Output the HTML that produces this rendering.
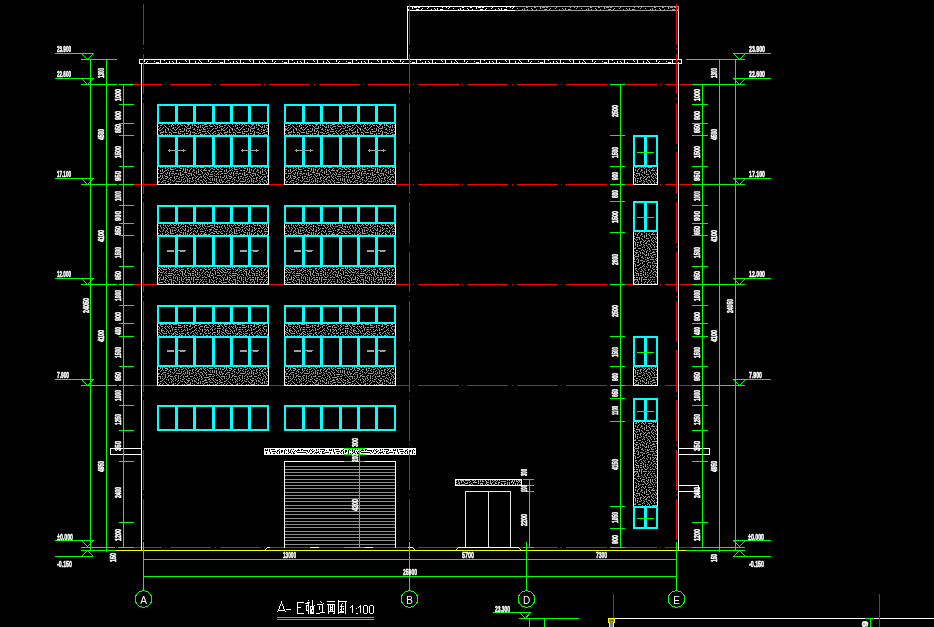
<!DOCTYPE html>
<html><head><meta charset="utf-8"><title>A-E elevation</title>
<style>html,body{margin:0;padding:0;background:#000;width:934px;height:627px;overflow:hidden}</style>
</head><body>
<svg width="934" height="627" viewBox="0 0 934 627" shape-rendering="crispEdges" style="display:block">
<defs><pattern id="hg" width="64" height="64" patternUnits="userSpaceOnUse"><path d="M2 0h1v1h-1zM11 0h1v1h-1zM15 0h1v1h-1zM17 0h1v1h-1zM21 0h1v1h-1zM23 0h1v1h-1zM24 0h1v1h-1zM29 0h1v1h-1zM31 0h1v1h-1zM34 0h1v1h-1zM39 0h1v1h-1zM40 0h1v1h-1zM44 0h1v1h-1zM45 0h1v1h-1zM49 0h1v1h-1zM54 0h1v1h-1zM56 0h1v1h-1zM59 0h1v1h-1zM60 0h1v1h-1zM61 0h1v1h-1zM62 0h1v1h-1zM1 1h1v1h-1zM2 1h1v1h-1zM5 1h1v1h-1zM7 1h1v1h-1zM9 1h1v1h-1zM11 1h1v1h-1zM12 1h1v1h-1zM13 1h1v1h-1zM20 1h1v1h-1zM29 1h1v1h-1zM30 1h1v1h-1zM33 1h1v1h-1zM37 1h1v1h-1zM40 1h1v1h-1zM42 1h1v1h-1zM46 1h1v1h-1zM48 1h1v1h-1zM51 1h1v1h-1zM52 1h1v1h-1zM56 1h1v1h-1zM58 1h1v1h-1zM3 2h1v1h-1zM7 2h1v1h-1zM8 2h1v1h-1zM16 2h1v1h-1zM19 2h1v1h-1zM25 2h1v1h-1zM26 2h1v1h-1zM27 2h1v1h-1zM29 2h1v1h-1zM31 2h1v1h-1zM32 2h1v1h-1zM37 2h1v1h-1zM40 2h1v1h-1zM43 2h1v1h-1zM47 2h1v1h-1zM56 2h1v1h-1zM58 2h1v1h-1zM61 2h1v1h-1zM5 3h1v1h-1zM10 3h1v1h-1zM11 3h1v1h-1zM12 3h1v1h-1zM13 3h1v1h-1zM15 3h1v1h-1zM18 3h1v1h-1zM22 3h1v1h-1zM23 3h1v1h-1zM35 3h1v1h-1zM37 3h1v1h-1zM44 3h1v1h-1zM50 3h1v1h-1zM52 3h1v1h-1zM53 3h1v1h-1zM54 3h1v1h-1zM55 3h1v1h-1zM58 3h1v1h-1zM60 3h1v1h-1zM62 3h1v1h-1zM0 4h1v1h-1zM1 4h1v1h-1zM2 4h1v1h-1zM7 4h1v1h-1zM8 4h1v1h-1zM16 4h1v1h-1zM21 4h1v1h-1zM26 4h1v1h-1zM28 4h1v1h-1zM32 4h1v1h-1zM33 4h1v1h-1zM34 4h1v1h-1zM35 4h1v1h-1zM37 4h1v1h-1zM38 4h1v1h-1zM41 4h1v1h-1zM42 4h1v1h-1zM45 4h1v1h-1zM46 4h1v1h-1zM47 4h1v1h-1zM48 4h1v1h-1zM50 4h1v1h-1zM62 4h1v1h-1zM3 5h1v1h-1zM4 5h1v1h-1zM6 5h1v1h-1zM13 5h1v1h-1zM14 5h1v1h-1zM17 5h1v1h-1zM20 5h1v1h-1zM23 5h1v1h-1zM27 5h1v1h-1zM29 5h1v1h-1zM32 5h1v1h-1zM43 5h1v1h-1zM50 5h1v1h-1zM51 5h1v1h-1zM52 5h1v1h-1zM56 5h1v1h-1zM58 5h1v1h-1zM59 5h1v1h-1zM62 5h1v1h-1zM2 6h1v1h-1zM8 6h1v1h-1zM9 6h1v1h-1zM10 6h1v1h-1zM12 6h1v1h-1zM18 6h1v1h-1zM21 6h1v1h-1zM25 6h1v1h-1zM26 6h1v1h-1zM27 6h1v1h-1zM30 6h1v1h-1zM33 6h1v1h-1zM34 6h1v1h-1zM37 6h1v1h-1zM39 6h1v1h-1zM41 6h1v1h-1zM43 6h1v1h-1zM54 6h1v1h-1zM56 6h1v1h-1zM61 6h1v1h-1zM62 6h1v1h-1zM0 7h1v1h-1zM2 7h1v1h-1zM7 7h1v1h-1zM12 7h1v1h-1zM14 7h1v1h-1zM15 7h1v1h-1zM16 7h1v1h-1zM20 7h1v1h-1zM31 7h1v1h-1zM36 7h1v1h-1zM40 7h1v1h-1zM43 7h1v1h-1zM45 7h1v1h-1zM47 7h1v1h-1zM48 7h1v1h-1zM50 7h1v1h-1zM51 7h1v1h-1zM52 7h1v1h-1zM53 7h1v1h-1zM56 7h1v1h-1zM58 7h1v1h-1zM4 8h1v1h-1zM7 8h1v1h-1zM19 8h1v1h-1zM23 8h1v1h-1zM25 8h1v1h-1zM26 8h1v1h-1zM27 8h1v1h-1zM28 8h1v1h-1zM31 8h1v1h-1zM34 8h1v1h-1zM37 8h1v1h-1zM41 8h1v1h-1zM44 8h1v1h-1zM59 8h1v1h-1zM63 8h1v1h-1zM3 9h1v1h-1zM8 9h1v1h-1zM10 9h1v1h-1zM12 9h1v1h-1zM13 9h1v1h-1zM15 9h1v1h-1zM18 9h1v1h-1zM20 9h1v1h-1zM22 9h1v1h-1zM30 9h1v1h-1zM33 9h1v1h-1zM38 9h1v1h-1zM44 9h1v1h-1zM46 9h1v1h-1zM47 9h1v1h-1zM48 9h1v1h-1zM50 9h1v1h-1zM53 9h1v1h-1zM56 9h1v1h-1zM59 9h1v1h-1zM61 9h1v1h-1zM62 9h1v1h-1zM2 10h1v1h-1zM4 10h1v1h-1zM6 10h1v1h-1zM10 10h1v1h-1zM14 10h1v1h-1zM16 10h1v1h-1zM20 10h1v1h-1zM25 10h1v1h-1zM27 10h1v1h-1zM31 10h1v1h-1zM33 10h1v1h-1zM34 10h1v1h-1zM35 10h1v1h-1zM39 10h1v1h-1zM42 10h1v1h-1zM44 10h1v1h-1zM55 10h1v1h-1zM57 10h1v1h-1zM59 10h1v1h-1zM0 11h1v1h-1zM1 11h1v1h-1zM7 11h1v1h-1zM10 11h1v1h-1zM13 11h1v1h-1zM16 11h1v1h-1zM25 11h1v1h-1zM27 11h1v1h-1zM29 11h1v1h-1zM33 11h1v1h-1zM36 11h1v1h-1zM38 11h1v1h-1zM40 11h1v1h-1zM42 11h1v1h-1zM47 11h1v1h-1zM48 11h1v1h-1zM51 11h1v1h-1zM53 11h1v1h-1zM54 11h1v1h-1zM3 12h1v1h-1zM5 12h1v1h-1zM12 12h1v1h-1zM18 12h1v1h-1zM21 12h1v1h-1zM22 12h1v1h-1zM23 12h1v1h-1zM25 12h1v1h-1zM27 12h1v1h-1zM30 12h1v1h-1zM31 12h1v1h-1zM34 12h1v1h-1zM40 12h1v1h-1zM46 12h1v1h-1zM49 12h1v1h-1zM59 12h1v1h-1zM60 12h1v1h-1zM63 12h1v1h-1zM1 13h1v1h-1zM4 13h1v1h-1zM8 13h1v1h-1zM9 13h1v1h-1zM13 13h1v1h-1zM14 13h1v1h-1zM16 13h1v1h-1zM17 13h1v1h-1zM20 13h1v1h-1zM26 13h1v1h-1zM29 13h1v1h-1zM32 13h1v1h-1zM35 13h1v1h-1zM36 13h1v1h-1zM37 13h1v1h-1zM38 13h1v1h-1zM41 13h1v1h-1zM43 13h1v1h-1zM45 13h1v1h-1zM47 13h1v1h-1zM51 13h1v1h-1zM53 13h1v1h-1zM54 13h1v1h-1zM55 13h1v1h-1zM59 13h1v1h-1zM62 13h1v1h-1zM2 14h1v1h-1zM5 14h1v1h-1zM8 14h1v1h-1zM11 14h1v1h-1zM20 14h1v1h-1zM22 14h1v1h-1zM25 14h1v1h-1zM27 14h1v1h-1zM30 14h1v1h-1zM33 14h1v1h-1zM44 14h1v1h-1zM45 14h1v1h-1zM48 14h1v1h-1zM49 14h1v1h-1zM52 14h1v1h-1zM57 14h1v1h-1zM60 14h1v1h-1zM0 15h1v1h-1zM1 15h1v1h-1zM3 15h1v1h-1zM11 15h1v1h-1zM14 15h1v1h-1zM15 15h1v1h-1zM18 15h1v1h-1zM23 15h1v1h-1zM28 15h1v1h-1zM31 15h1v1h-1zM35 15h1v1h-1zM38 15h1v1h-1zM41 15h1v1h-1zM43 15h1v1h-1zM47 15h1v1h-1zM51 15h1v1h-1zM53 15h1v1h-1zM54 15h1v1h-1zM57 15h1v1h-1zM61 15h1v1h-1zM3 16h1v1h-1zM5 16h1v1h-1zM7 16h1v1h-1zM10 16h1v1h-1zM13 16h1v1h-1zM16 16h1v1h-1zM18 16h1v1h-1zM23 16h1v1h-1zM25 16h1v1h-1zM26 16h1v1h-1zM29 16h1v1h-1zM30 16h1v1h-1zM32 16h1v1h-1zM33 16h1v1h-1zM34 16h1v1h-1zM37 16h1v1h-1zM46 16h1v1h-1zM49 16h1v1h-1zM54 16h1v1h-1zM57 16h1v1h-1zM59 16h1v1h-1zM0 17h1v1h-1zM1 17h1v1h-1zM5 17h1v1h-1zM9 17h1v1h-1zM12 17h1v1h-1zM18 17h1v1h-1zM20 17h1v1h-1zM23 17h1v1h-1zM27 17h1v1h-1zM36 17h1v1h-1zM38 17h1v1h-1zM40 17h1v1h-1zM41 17h1v1h-1zM42 17h1v1h-1zM43 17h1v1h-1zM44 17h1v1h-1zM52 17h1v1h-1zM54 17h1v1h-1zM56 17h1v1h-1zM60 17h1v1h-1zM61 17h1v1h-1zM62 17h1v1h-1zM3 18h1v1h-1zM5 18h1v1h-1zM7 18h1v1h-1zM13 18h1v1h-1zM15 18h1v1h-1zM17 18h1v1h-1zM21 18h1v1h-1zM23 18h1v1h-1zM31 18h1v1h-1zM33 18h1v1h-1zM45 18h1v1h-1zM47 18h1v1h-1zM49 18h1v1h-1zM50 18h1v1h-1zM54 18h1v1h-1zM56 18h1v1h-1zM62 18h1v1h-1zM0 19h1v1h-1zM1 19h1v1h-1zM3 19h1v1h-1zM8 19h1v1h-1zM10 19h1v1h-1zM15 19h1v1h-1zM17 19h1v1h-1zM19 19h1v1h-1zM20 19h1v1h-1zM25 19h1v1h-1zM26 19h1v1h-1zM27 19h1v1h-1zM28 19h1v1h-1zM30 19h1v1h-1zM33 19h1v1h-1zM37 19h1v1h-1zM38 19h1v1h-1zM40 19h1v1h-1zM41 19h1v1h-1zM42 19h1v1h-1zM43 19h1v1h-1zM46 19h1v1h-1zM51 19h1v1h-1zM54 19h1v1h-1zM57 19h1v1h-1zM58 19h1v1h-1zM60 19h1v1h-1zM62 19h1v1h-1zM4 20h1v1h-1zM7 20h1v1h-1zM12 20h1v1h-1zM16 20h1v1h-1zM17 20h1v1h-1zM21 20h1v1h-1zM29 20h1v1h-1zM35 20h1v1h-1zM39 20h1v1h-1zM45 20h1v1h-1zM48 20h1v1h-1zM55 20h1v1h-1zM1 21h1v1h-1zM2 21h1v1h-1zM5 21h1v1h-1zM6 21h1v1h-1zM10 21h1v1h-1zM11 21h1v1h-1zM13 21h1v1h-1zM14 21h1v1h-1zM18 21h1v1h-1zM21 21h1v1h-1zM23 21h1v1h-1zM24 21h1v1h-1zM30 21h1v1h-1zM32 21h1v1h-1zM35 21h1v1h-1zM37 21h1v1h-1zM40 21h1v1h-1zM42 21h1v1h-1zM45 21h1v1h-1zM47 21h1v1h-1zM49 21h1v1h-1zM51 21h1v1h-1zM53 21h1v1h-1zM57 21h1v1h-1zM58 21h1v1h-1zM60 21h1v1h-1zM61 21h1v1h-1zM63 21h1v1h-1zM1 22h1v1h-1zM21 22h1v1h-1zM25 22h1v1h-1zM27 22h1v1h-1zM31 22h1v1h-1zM35 22h1v1h-1zM38 22h1v1h-1zM45 22h1v1h-1zM47 22h1v1h-1zM49 22h1v1h-1zM53 22h1v1h-1zM56 22h1v1h-1zM63 22h1v1h-1zM1 23h1v1h-1zM3 23h1v1h-1zM4 23h1v1h-1zM5 23h1v1h-1zM6 23h1v1h-1zM8 23h1v1h-1zM10 23h1v1h-1zM12 23h1v1h-1zM14 23h1v1h-1zM17 23h1v1h-1zM19 23h1v1h-1zM24 23h1v1h-1zM28 23h1v1h-1zM31 23h1v1h-1zM33 23h1v1h-1zM34 23h1v1h-1zM35 23h1v1h-1zM37 23h1v1h-1zM41 23h1v1h-1zM42 23h1v1h-1zM43 23h1v1h-1zM49 23h1v1h-1zM51 23h1v1h-1zM53 23h1v1h-1zM55 23h1v1h-1zM58 23h1v1h-1zM59 23h1v1h-1zM60 23h1v1h-1zM61 23h1v1h-1zM63 23h1v1h-1zM1 24h1v1h-1zM9 24h1v1h-1zM17 24h1v1h-1zM20 24h1v1h-1zM22 24h1v1h-1zM29 24h1v1h-1zM31 24h1v1h-1zM37 24h1v1h-1zM39 24h1v1h-1zM43 24h1v1h-1zM45 24h1v1h-1zM46 24h1v1h-1zM49 24h1v1h-1zM53 24h1v1h-1zM58 24h1v1h-1zM61 24h1v1h-1zM1 25h1v1h-1zM5 25h1v1h-1zM8 25h1v1h-1zM11 25h1v1h-1zM13 25h1v1h-1zM14 25h1v1h-1zM17 25h1v1h-1zM21 25h1v1h-1zM24 25h1v1h-1zM27 25h1v1h-1zM28 25h1v1h-1zM36 25h1v1h-1zM40 25h1v1h-1zM43 25h1v1h-1zM47 25h1v1h-1zM51 25h1v1h-1zM54 25h1v1h-1zM55 25h1v1h-1zM60 25h1v1h-1zM62 25h1v1h-1zM4 26h1v1h-1zM7 26h1v1h-1zM10 26h1v1h-1zM17 26h1v1h-1zM19 26h1v1h-1zM21 26h1v1h-1zM24 26h1v1h-1zM29 26h1v1h-1zM31 26h1v1h-1zM32 26h1v1h-1zM33 26h1v1h-1zM34 26h1v1h-1zM37 26h1v1h-1zM43 26h1v1h-1zM45 26h1v1h-1zM48 26h1v1h-1zM51 26h1v1h-1zM57 26h1v1h-1zM59 26h1v1h-1zM62 26h1v1h-1zM1 27h1v1h-1zM4 27h1v1h-1zM7 27h1v1h-1zM11 27h1v1h-1zM14 27h1v1h-1zM15 27h1v1h-1zM22 27h1v1h-1zM26 27h1v1h-1zM30 27h1v1h-1zM38 27h1v1h-1zM40 27h1v1h-1zM41 27h1v1h-1zM43 27h1v1h-1zM45 27h1v1h-1zM51 27h1v1h-1zM54 27h1v1h-1zM58 27h1v1h-1zM62 27h1v1h-1zM2 28h1v1h-1zM5 28h1v1h-1zM12 28h1v1h-1zM15 28h1v1h-1zM19 28h1v1h-1zM20 28h1v1h-1zM21 28h1v1h-1zM24 28h1v1h-1zM27 28h1v1h-1zM31 28h1v1h-1zM33 28h1v1h-1zM37 28h1v1h-1zM39 28h1v1h-1zM43 28h1v1h-1zM45 28h1v1h-1zM51 28h1v1h-1zM54 28h1v1h-1zM61 28h1v1h-1zM62 28h1v1h-1zM63 28h1v1h-1zM3 29h1v1h-1zM6 29h1v1h-1zM8 29h1v1h-1zM9 29h1v1h-1zM11 29h1v1h-1zM13 29h1v1h-1zM16 29h1v1h-1zM23 29h1v1h-1zM24 29h1v1h-1zM28 29h1v1h-1zM33 29h1v1h-1zM37 29h1v1h-1zM41 29h1v1h-1zM45 29h1v1h-1zM47 29h1v1h-1zM48 29h1v1h-1zM51 29h1v1h-1zM53 29h1v1h-1zM56 29h1v1h-1zM0 30h1v1h-1zM6 30h1v1h-1zM15 30h1v1h-1zM18 30h1v1h-1zM19 30h1v1h-1zM20 30h1v1h-1zM22 30h1v1h-1zM27 30h1v1h-1zM30 30h1v1h-1zM31 30h1v1h-1zM33 30h1v1h-1zM35 30h1v1h-1zM39 30h1v1h-1zM40 30h1v1h-1zM43 30h1v1h-1zM45 30h1v1h-1zM49 30h1v1h-1zM55 30h1v1h-1zM57 30h1v1h-1zM58 30h1v1h-1zM59 30h1v1h-1zM62 30h1v1h-1zM2 31h1v1h-1zM3 31h1v1h-1zM4 31h1v1h-1zM8 31h1v1h-1zM10 31h1v1h-1zM12 31h1v1h-1zM14 31h1v1h-1zM24 31h1v1h-1zM26 31h1v1h-1zM29 31h1v1h-1zM33 31h1v1h-1zM35 31h1v1h-1zM37 31h1v1h-1zM38 31h1v1h-1zM43 31h1v1h-1zM45 31h1v1h-1zM50 31h1v1h-1zM53 31h1v1h-1zM60 31h1v1h-1zM1 32h1v1h-1zM6 32h1v1h-1zM8 32h1v1h-1zM10 32h1v1h-1zM12 32h1v1h-1zM15 32h1v1h-1zM22 32h1v1h-1zM25 32h1v1h-1zM28 32h1v1h-1zM35 32h1v1h-1zM42 32h1v1h-1zM45 32h1v1h-1zM48 32h1v1h-1zM50 32h1v1h-1zM53 32h1v1h-1zM55 32h1v1h-1zM61 32h1v1h-1zM1 33h1v1h-1zM3 33h1v1h-1zM4 33h1v1h-1zM7 33h1v1h-1zM10 33h1v1h-1zM12 33h1v1h-1zM18 33h1v1h-1zM19 33h1v1h-1zM20 33h1v1h-1zM22 33h1v1h-1zM30 33h1v1h-1zM32 33h1v1h-1zM35 33h1v1h-1zM37 33h1v1h-1zM39 33h1v1h-1zM41 33h1v1h-1zM43 33h1v1h-1zM46 33h1v1h-1zM47 33h1v1h-1zM50 33h1v1h-1zM52 33h1v1h-1zM57 33h1v1h-1zM62 33h1v1h-1zM63 33h1v1h-1zM4 34h1v1h-1zM8 34h1v1h-1zM10 34h1v1h-1zM13 34h1v1h-1zM15 34h1v1h-1zM16 34h1v1h-1zM17 34h1v1h-1zM22 34h1v1h-1zM24 34h1v1h-1zM25 34h1v1h-1zM27 34h1v1h-1zM29 34h1v1h-1zM32 34h1v1h-1zM37 34h1v1h-1zM40 34h1v1h-1zM51 34h1v1h-1zM54 34h1v1h-1zM55 34h1v1h-1zM57 34h1v1h-1zM59 34h1v1h-1zM5 35h1v1h-1zM7 35h1v1h-1zM11 35h1v1h-1zM19 35h1v1h-1zM20 35h1v1h-1zM21 35h1v1h-1zM25 35h1v1h-1zM27 35h1v1h-1zM29 35h1v1h-1zM33 35h1v1h-1zM35 35h1v1h-1zM38 35h1v1h-1zM43 35h1v1h-1zM44 35h1v1h-1zM45 35h1v1h-1zM46 35h1v1h-1zM49 35h1v1h-1zM50 35h1v1h-1zM53 35h1v1h-1zM60 35h1v1h-1zM62 35h1v1h-1zM0 36h1v1h-1zM2 36h1v1h-1zM3 36h1v1h-1zM6 36h1v1h-1zM9 36h1v1h-1zM12 36h1v1h-1zM14 36h1v1h-1zM22 36h1v1h-1zM30 36h1v1h-1zM33 36h1v1h-1zM36 36h1v1h-1zM39 36h1v1h-1zM41 36h1v1h-1zM47 36h1v1h-1zM52 36h1v1h-1zM54 36h1v1h-1zM57 36h1v1h-1zM62 36h1v1h-1zM8 37h1v1h-1zM10 37h1v1h-1zM17 37h1v1h-1zM18 37h1v1h-1zM19 37h1v1h-1zM23 37h1v1h-1zM24 37h1v1h-1zM25 37h1v1h-1zM28 37h1v1h-1zM35 37h1v1h-1zM39 37h1v1h-1zM42 37h1v1h-1zM44 37h1v1h-1zM48 37h1v1h-1zM50 37h1v1h-1zM55 37h1v1h-1zM57 37h1v1h-1zM60 37h1v1h-1zM63 37h1v1h-1zM2 38h1v1h-1zM5 38h1v1h-1zM13 38h1v1h-1zM15 38h1v1h-1zM18 38h1v1h-1zM21 38h1v1h-1zM31 38h1v1h-1zM35 38h1v1h-1zM38 38h1v1h-1zM42 38h1v1h-1zM44 38h1v1h-1zM46 38h1v1h-1zM47 38h1v1h-1zM50 38h1v1h-1zM53 38h1v1h-1zM56 38h1v1h-1zM57 38h1v1h-1zM60 38h1v1h-1zM62 38h1v1h-1zM1 39h1v1h-1zM3 39h1v1h-1zM5 39h1v1h-1zM8 39h1v1h-1zM9 39h1v1h-1zM10 39h1v1h-1zM11 39h1v1h-1zM17 39h1v1h-1zM22 39h1v1h-1zM23 39h1v1h-1zM24 39h1v1h-1zM26 39h1v1h-1zM27 39h1v1h-1zM29 39h1v1h-1zM32 39h1v1h-1zM34 39h1v1h-1zM37 39h1v1h-1zM39 39h1v1h-1zM42 39h1v1h-1zM44 39h1v1h-1zM49 39h1v1h-1zM51 39h1v1h-1zM59 39h1v1h-1zM60 39h1v1h-1zM4 40h1v1h-1zM13 40h1v1h-1zM19 40h1v1h-1zM20 40h1v1h-1zM24 40h1v1h-1zM28 40h1v1h-1zM37 40h1v1h-1zM40 40h1v1h-1zM42 40h1v1h-1zM47 40h1v1h-1zM52 40h1v1h-1zM53 40h1v1h-1zM55 40h1v1h-1zM57 40h1v1h-1zM63 40h1v1h-1zM1 41h1v1h-1zM6 41h1v1h-1zM9 41h1v1h-1zM12 41h1v1h-1zM18 41h1v1h-1zM21 41h1v1h-1zM22 41h1v1h-1zM25 41h1v1h-1zM26 41h1v1h-1zM29 41h1v1h-1zM30 41h1v1h-1zM34 41h1v1h-1zM39 41h1v1h-1zM42 41h1v1h-1zM43 41h1v1h-1zM44 41h1v1h-1zM45 41h1v1h-1zM55 41h1v1h-1zM57 41h1v1h-1zM59 41h1v1h-1zM62 41h1v1h-1zM1 42h1v1h-1zM2 42h1v1h-1zM6 42h1v1h-1zM8 42h1v1h-1zM11 42h1v1h-1zM12 42h1v1h-1zM13 42h1v1h-1zM14 42h1v1h-1zM16 42h1v1h-1zM17 42h1v1h-1zM32 42h1v1h-1zM34 42h1v1h-1zM37 42h1v1h-1zM38 42h1v1h-1zM40 42h1v1h-1zM48 42h1v1h-1zM49 42h1v1h-1zM51 42h1v1h-1zM52 42h1v1h-1zM55 42h1v1h-1zM57 42h1v1h-1zM59 42h1v1h-1zM61 42h1v1h-1zM0 43h1v1h-1zM4 43h1v1h-1zM6 43h1v1h-1zM9 43h1v1h-1zM17 43h1v1h-1zM20 43h1v1h-1zM21 43h1v1h-1zM23 43h1v1h-1zM24 43h1v1h-1zM27 43h1v1h-1zM28 43h1v1h-1zM29 43h1v1h-1zM32 43h1v1h-1zM34 43h1v1h-1zM36 43h1v1h-1zM42 43h1v1h-1zM44 43h1v1h-1zM45 43h1v1h-1zM54 43h1v1h-1zM57 43h1v1h-1zM61 43h1v1h-1zM2 44h1v1h-1zM4 44h1v1h-1zM6 44h1v1h-1zM10 44h1v1h-1zM15 44h1v1h-1zM19 44h1v1h-1zM26 44h1v1h-1zM35 44h1v1h-1zM39 44h1v1h-1zM41 44h1v1h-1zM52 44h1v1h-1zM56 44h1v1h-1zM57 44h1v1h-1zM58 44h1v1h-1zM4 45h1v1h-1zM10 45h1v1h-1zM13 45h1v1h-1zM16 45h1v1h-1zM22 45h1v1h-1zM25 45h1v1h-1zM29 45h1v1h-1zM30 45h1v1h-1zM32 45h1v1h-1zM33 45h1v1h-1zM34 45h1v1h-1zM37 45h1v1h-1zM39 45h1v1h-1zM41 45h1v1h-1zM43 45h1v1h-1zM44 45h1v1h-1zM45 45h1v1h-1zM47 45h1v1h-1zM48 45h1v1h-1zM50 45h1v1h-1zM52 45h1v1h-1zM60 45h1v1h-1zM61 45h1v1h-1zM62 45h1v1h-1zM63 45h1v1h-1zM1 46h1v1h-1zM6 46h1v1h-1zM7 46h1v1h-1zM8 46h1v1h-1zM12 46h1v1h-1zM14 46h1v1h-1zM16 46h1v1h-1zM18 46h1v1h-1zM19 46h1v1h-1zM20 46h1v1h-1zM24 46h1v1h-1zM26 46h1v1h-1zM28 46h1v1h-1zM38 46h1v1h-1zM41 46h1v1h-1zM46 46h1v1h-1zM50 46h1v1h-1zM52 46h1v1h-1zM54 46h1v1h-1zM55 46h1v1h-1zM58 46h1v1h-1zM63 46h1v1h-1zM2 47h1v1h-1zM11 47h1v1h-1zM15 47h1v1h-1zM22 47h1v1h-1zM32 47h1v1h-1zM34 47h1v1h-1zM36 47h1v1h-1zM41 47h1v1h-1zM44 47h1v1h-1zM52 47h1v1h-1zM53 47h1v1h-1zM59 47h1v1h-1zM61 47h1v1h-1zM63 47h1v1h-1zM3 48h1v1h-1zM5 48h1v1h-1zM8 48h1v1h-1zM9 48h1v1h-1zM11 48h1v1h-1zM13 48h1v1h-1zM17 48h1v1h-1zM18 48h1v1h-1zM19 48h1v1h-1zM20 48h1v1h-1zM23 48h1v1h-1zM24 48h1v1h-1zM26 48h1v1h-1zM28 48h1v1h-1zM32 48h1v1h-1zM34 48h1v1h-1zM37 48h1v1h-1zM38 48h1v1h-1zM39 48h1v1h-1zM46 48h1v1h-1zM48 48h1v1h-1zM49 48h1v1h-1zM55 48h1v1h-1zM57 48h1v1h-1zM60 48h1v1h-1zM0 49h1v1h-1zM1 49h1v1h-1zM4 49h1v1h-1zM7 49h1v1h-1zM9 49h1v1h-1zM12 49h1v1h-1zM15 49h1v1h-1zM26 49h1v1h-1zM28 49h1v1h-1zM30 49h1v1h-1zM31 49h1v1h-1zM34 49h1v1h-1zM39 49h1v1h-1zM42 49h1v1h-1zM43 49h1v1h-1zM46 49h1v1h-1zM51 49h1v1h-1zM53 49h1v1h-1zM54 49h1v1h-1zM58 49h1v1h-1zM0 50h1v1h-1zM3 50h1v1h-1zM6 50h1v1h-1zM13 50h1v1h-1zM16 50h1v1h-1zM18 50h1v1h-1zM20 50h1v1h-1zM22 50h1v1h-1zM24 50h1v1h-1zM33 50h1v1h-1zM35 50h1v1h-1zM37 50h1v1h-1zM38 50h1v1h-1zM41 50h1v1h-1zM46 50h1v1h-1zM48 50h1v1h-1zM50 50h1v1h-1zM56 50h1v1h-1zM59 50h1v1h-1zM61 50h1v1h-1zM62 50h1v1h-1zM0 51h1v1h-1zM5 51h1v1h-1zM6 51h1v1h-1zM11 51h1v1h-1zM17 51h1v1h-1zM20 51h1v1h-1zM22 51h1v1h-1zM24 51h1v1h-1zM27 51h1v1h-1zM29 51h1v1h-1zM32 51h1v1h-1zM40 51h1v1h-1zM42 51h1v1h-1zM47 51h1v1h-1zM51 51h1v1h-1zM53 51h1v1h-1zM55 51h1v1h-1zM59 51h1v1h-1zM1 52h1v1h-1zM3 52h1v1h-1zM8 52h1v1h-1zM9 52h1v1h-1zM12 52h1v1h-1zM14 52h1v1h-1zM18 52h1v1h-1zM20 52h1v1h-1zM22 52h1v1h-1zM24 52h1v1h-1zM27 52h1v1h-1zM29 52h1v1h-1zM35 52h1v1h-1zM36 52h1v1h-1zM37 52h1v1h-1zM42 52h1v1h-1zM44 52h1v1h-1zM46 52h1v1h-1zM53 52h1v1h-1zM57 52h1v1h-1zM59 52h1v1h-1zM61 52h1v1h-1zM0 53h1v1h-1zM4 53h1v1h-1zM6 53h1v1h-1zM10 53h1v1h-1zM13 53h1v1h-1zM24 53h1v1h-1zM27 53h1v1h-1zM30 53h1v1h-1zM31 53h1v1h-1zM34 53h1v1h-1zM39 53h1v1h-1zM40 53h1v1h-1zM45 53h1v1h-1zM48 53h1v1h-1zM49 53h1v1h-1zM50 53h1v1h-1zM51 53h1v1h-1zM52 53h1v1h-1zM55 53h1v1h-1zM57 53h1v1h-1zM59 53h1v1h-1zM61 53h1v1h-1zM63 53h1v1h-1zM3 54h1v1h-1zM7 54h1v1h-1zM10 54h1v1h-1zM14 54h1v1h-1zM16 54h1v1h-1zM17 54h1v1h-1zM18 54h1v1h-1zM19 54h1v1h-1zM21 54h1v1h-1zM25 54h1v1h-1zM28 54h1v1h-1zM30 54h1v1h-1zM33 54h1v1h-1zM35 54h1v1h-1zM37 54h1v1h-1zM42 54h1v1h-1zM54 54h1v1h-1zM56 54h1v1h-1zM61 54h1v1h-1zM2 55h1v1h-1zM4 55h1v1h-1zM8 55h1v1h-1zM11 55h1v1h-1zM14 55h1v1h-1zM22 55h1v1h-1zM24 55h1v1h-1zM26 55h1v1h-1zM37 55h1v1h-1zM40 55h1v1h-1zM41 55h1v1h-1zM47 55h1v1h-1zM48 55h1v1h-1zM50 55h1v1h-1zM53 55h1v1h-1zM59 55h1v1h-1zM0 56h1v1h-1zM7 56h1v1h-1zM9 56h1v1h-1zM17 56h1v1h-1zM18 56h1v1h-1zM20 56h1v1h-1zM21 56h1v1h-1zM27 56h1v1h-1zM29 56h1v1h-1zM30 56h1v1h-1zM31 56h1v1h-1zM32 56h1v1h-1zM34 56h1v1h-1zM37 56h1v1h-1zM40 56h1v1h-1zM42 56h1v1h-1zM43 56h1v1h-1zM44 56h1v1h-1zM46 56h1v1h-1zM50 56h1v1h-1zM52 56h1v1h-1zM55 56h1v1h-1zM57 56h1v1h-1zM58 56h1v1h-1zM59 56h1v1h-1zM62 56h1v1h-1zM63 56h1v1h-1zM2 57h1v1h-1zM5 57h1v1h-1zM9 57h1v1h-1zM12 57h1v1h-1zM13 57h1v1h-1zM14 57h1v1h-1zM15 57h1v1h-1zM16 57h1v1h-1zM25 57h1v1h-1zM28 57h1v1h-1zM32 57h1v1h-1zM37 57h1v1h-1zM39 57h1v1h-1zM47 57h1v1h-1zM50 57h1v1h-1zM55 57h1v1h-1zM1 58h1v1h-1zM3 58h1v1h-1zM7 58h1v1h-1zM10 58h1v1h-1zM17 58h1v1h-1zM19 58h1v1h-1zM21 58h1v1h-1zM29 58h1v1h-1zM32 58h1v1h-1zM34 58h1v1h-1zM36 58h1v1h-1zM42 58h1v1h-1zM45 58h1v1h-1zM47 58h1v1h-1zM50 58h1v1h-1zM52 58h1v1h-1zM56 58h1v1h-1zM60 58h1v1h-1zM61 58h1v1h-1zM4 59h1v1h-1zM6 59h1v1h-1zM9 59h1v1h-1zM13 59h1v1h-1zM16 59h1v1h-1zM17 59h1v1h-1zM20 59h1v1h-1zM23 59h1v1h-1zM27 59h1v1h-1zM30 59h1v1h-1zM35 59h1v1h-1zM38 59h1v1h-1zM40 59h1v1h-1zM43 59h1v1h-1zM45 59h1v1h-1zM48 59h1v1h-1zM54 59h1v1h-1zM55 59h1v1h-1zM58 59h1v1h-1zM63 59h1v1h-1zM0 60h1v1h-1zM2 60h1v1h-1zM6 60h1v1h-1zM12 60h1v1h-1zM13 60h1v1h-1zM14 60h1v1h-1zM18 60h1v1h-1zM21 60h1v1h-1zM24 60h1v1h-1zM25 60h1v1h-1zM28 60h1v1h-1zM34 60h1v1h-1zM40 60h1v1h-1zM44 60h1v1h-1zM47 60h1v1h-1zM50 60h1v1h-1zM52 60h1v1h-1zM59 60h1v1h-1zM60 60h1v1h-1zM61 60h1v1h-1zM0 61h1v1h-1zM2 61h1v1h-1zM3 61h1v1h-1zM8 61h1v1h-1zM10 61h1v1h-1zM11 61h1v1h-1zM17 61h1v1h-1zM22 61h1v1h-1zM27 61h1v1h-1zM32 61h1v1h-1zM33 61h1v1h-1zM36 61h1v1h-1zM43 61h1v1h-1zM45 61h1v1h-1zM49 61h1v1h-1zM53 61h1v1h-1zM54 61h1v1h-1zM56 61h1v1h-1zM60 61h1v1h-1zM4 62h1v1h-1zM6 62h1v1h-1zM8 62h1v1h-1zM13 62h1v1h-1zM14 62h1v1h-1zM15 62h1v1h-1zM18 62h1v1h-1zM19 62h1v1h-1zM20 62h1v1h-1zM23 62h1v1h-1zM25 62h1v1h-1zM28 62h1v1h-1zM29 62h1v1h-1zM30 62h1v1h-1zM37 62h1v1h-1zM41 62h1v1h-1zM43 62h1v1h-1zM51 62h1v1h-1zM57 62h1v1h-1zM59 62h1v1h-1zM62 62h1v1h-1zM0 63h1v1h-1zM5 63h1v1h-1zM6 63h1v1h-1zM8 63h1v1h-1zM10 63h1v1h-1zM12 63h1v1h-1zM25 63h1v1h-1zM27 63h1v1h-1zM32 63h1v1h-1zM35 63h1v1h-1zM38 63h1v1h-1zM45 63h1v1h-1zM47 63h1v1h-1zM50 63h1v1h-1zM58 63h1v1h-1zM62 63h1v1h-1z" fill="#9a9a9a"/></pattern><pattern id="hw" width="64" height="64" patternUnits="userSpaceOnUse"><rect width="64" height="64" fill="#fff"/><path d="M0 0h1v1h-1zM5 0h1v1h-1zM6 0h1v1h-1zM7 0h1v1h-1zM8 0h1v1h-1zM9 0h1v1h-1zM11 0h1v1h-1zM13 0h1v1h-1zM19 0h1v1h-1zM24 0h1v1h-1zM26 0h1v1h-1zM28 0h1v1h-1zM30 0h1v1h-1zM31 0h1v1h-1zM34 0h1v1h-1zM36 0h1v1h-1zM38 0h1v1h-1zM39 0h1v1h-1zM41 0h1v1h-1zM42 0h1v1h-1zM44 0h1v1h-1zM47 0h1v1h-1zM49 0h1v1h-1zM51 0h1v1h-1zM52 0h1v1h-1zM53 0h1v1h-1zM56 0h1v1h-1zM59 0h1v1h-1zM62 0h1v1h-1zM0 1h1v1h-1zM1 1h1v1h-1zM2 1h1v1h-1zM3 1h1v1h-1zM4 1h1v1h-1zM9 1h1v1h-1zM11 1h1v1h-1zM13 1h1v1h-1zM15 1h1v1h-1zM16 1h1v1h-1zM17 1h1v1h-1zM18 1h1v1h-1zM23 1h1v1h-1zM29 1h1v1h-1zM32 1h1v1h-1zM35 1h1v1h-1zM37 1h1v1h-1zM42 1h1v1h-1zM45 1h1v1h-1zM46 1h1v1h-1zM54 1h1v1h-1zM56 1h1v1h-1zM60 1h1v1h-1zM62 1h1v1h-1zM4 2h1v1h-1zM6 2h1v1h-1zM9 2h1v1h-1zM10 2h1v1h-1zM11 2h1v1h-1zM13 2h1v1h-1zM21 2h1v1h-1zM22 2h1v1h-1zM25 2h1v1h-1zM26 2h1v1h-1zM28 2h1v1h-1zM30 2h1v1h-1zM32 2h1v1h-1zM34 2h1v1h-1zM39 2h1v1h-1zM41 2h1v1h-1zM42 2h1v1h-1zM43 2h1v1h-1zM45 2h1v1h-1zM47 2h1v1h-1zM48 2h1v1h-1zM49 2h1v1h-1zM50 2h1v1h-1zM51 2h1v1h-1zM53 2h1v1h-1zM55 2h1v1h-1zM58 2h1v1h-1zM60 2h1v1h-1zM0 3h1v1h-1zM2 3h1v1h-1zM3 3h1v1h-1zM13 3h1v1h-1zM16 3h1v1h-1zM17 3h1v1h-1zM18 3h1v1h-1zM19 3h1v1h-1zM21 3h1v1h-1zM23 3h1v1h-1zM25 3h1v1h-1zM26 3h1v1h-1zM28 3h1v1h-1zM32 3h1v1h-1zM34 3h1v1h-1zM36 3h1v1h-1zM38 3h1v1h-1zM40 3h1v1h-1zM51 3h1v1h-1zM53 3h1v1h-1zM56 3h1v1h-1zM57 3h1v1h-1zM62 3h1v1h-1zM2 4h1v1h-1zM5 4h1v1h-1zM6 4h1v1h-1zM7 4h1v1h-1zM8 4h1v1h-1zM10 4h1v1h-1zM14 4h1v1h-1zM20 4h1v1h-1zM23 4h1v1h-1zM25 4h1v1h-1zM28 4h1v1h-1zM33 4h1v1h-1zM34 4h1v1h-1zM37 4h1v1h-1zM41 4h1v1h-1zM42 4h1v1h-1zM43 4h1v1h-1zM44 4h1v1h-1zM45 4h1v1h-1zM46 4h1v1h-1zM47 4h1v1h-1zM48 4h1v1h-1zM49 4h1v1h-1zM52 4h1v1h-1zM56 4h1v1h-1zM59 4h1v1h-1zM60 4h1v1h-1zM61 4h1v1h-1zM62 4h1v1h-1zM2 5h1v1h-1zM3 5h1v1h-1zM4 5h1v1h-1zM10 5h1v1h-1zM14 5h1v1h-1zM17 5h1v1h-1zM18 5h1v1h-1zM21 5h1v1h-1zM23 5h1v1h-1zM28 5h1v1h-1zM30 5h1v1h-1zM32 5h1v1h-1zM35 5h1v1h-1zM37 5h1v1h-1zM38 5h1v1h-1zM50 5h1v1h-1zM54 5h1v1h-1zM55 5h1v1h-1zM58 5h1v1h-1zM60 5h1v1h-1zM63 5h1v1h-1zM0 6h1v1h-1zM1 6h1v1h-1zM5 6h1v1h-1zM6 6h1v1h-1zM7 6h1v1h-1zM10 6h1v1h-1zM11 6h1v1h-1zM12 6h1v1h-1zM14 6h1v1h-1zM18 6h1v1h-1zM22 6h1v1h-1zM25 6h1v1h-1zM26 6h1v1h-1zM29 6h1v1h-1zM31 6h1v1h-1zM39 6h1v1h-1zM41 6h1v1h-1zM44 6h1v1h-1zM45 6h1v1h-1zM46 6h1v1h-1zM48 6h1v1h-1zM51 6h1v1h-1zM52 6h1v1h-1zM53 6h1v1h-1zM55 6h1v1h-1zM57 6h1v1h-1zM60 6h1v1h-1zM62 6h1v1h-1zM12 7h1v1h-1zM14 7h1v1h-1zM15 7h1v1h-1zM17 7h1v1h-1zM18 7h1v1h-1zM20 7h1v1h-1zM23 7h1v1h-1zM25 7h1v1h-1zM27 7h1v1h-1zM30 7h1v1h-1zM33 7h1v1h-1zM34 7h1v1h-1zM36 7h1v1h-1zM37 7h1v1h-1zM40 7h1v1h-1zM43 7h1v1h-1zM46 7h1v1h-1zM48 7h1v1h-1zM50 7h1v1h-1zM51 7h1v1h-1zM58 7h1v1h-1zM0 8h1v1h-1zM2 8h1v1h-1zM4 8h1v1h-1zM5 8h1v1h-1zM6 8h1v1h-1zM8 8h1v1h-1zM11 8h1v1h-1zM17 8h1v1h-1zM20 8h1v1h-1zM23 8h1v1h-1zM25 8h1v1h-1zM28 8h1v1h-1zM30 8h1v1h-1zM33 8h1v1h-1zM36 8h1v1h-1zM39 8h1v1h-1zM42 8h1v1h-1zM44 8h1v1h-1zM45 8h1v1h-1zM47 8h1v1h-1zM48 8h1v1h-1zM54 8h1v1h-1zM56 8h1v1h-1zM58 8h1v1h-1zM60 8h1v1h-1zM61 8h1v1h-1zM62 8h1v1h-1zM63 8h1v1h-1zM2 9h1v1h-1zM3 9h1v1h-1zM7 9h1v1h-1zM9 9h1v1h-1zM12 9h1v1h-1zM13 9h1v1h-1zM14 9h1v1h-1zM15 9h1v1h-1zM19 9h1v1h-1zM23 9h1v1h-1zM26 9h1v1h-1zM28 9h1v1h-1zM29 9h1v1h-1zM32 9h1v1h-1zM35 9h1v1h-1zM37 9h1v1h-1zM38 9h1v1h-1zM41 9h1v1h-1zM44 9h1v1h-1zM49 9h1v1h-1zM51 9h1v1h-1zM54 9h1v1h-1zM56 9h1v1h-1zM58 9h1v1h-1zM61 9h1v1h-1zM1 10h1v1h-1zM4 10h1v1h-1zM8 10h1v1h-1zM9 10h1v1h-1zM15 10h1v1h-1zM17 10h1v1h-1zM18 10h1v1h-1zM19 10h1v1h-1zM20 10h1v1h-1zM21 10h1v1h-1zM24 10h1v1h-1zM27 10h1v1h-1zM28 10h1v1h-1zM30 10h1v1h-1zM34 10h1v1h-1zM36 10h1v1h-1zM42 10h1v1h-1zM43 10h1v1h-1zM47 10h1v1h-1zM49 10h1v1h-1zM51 10h1v1h-1zM56 10h1v1h-1zM62 10h1v1h-1zM63 10h1v1h-1zM3 11h1v1h-1zM5 11h1v1h-1zM6 11h1v1h-1zM7 11h1v1h-1zM10 11h1v1h-1zM12 11h1v1h-1zM14 11h1v1h-1zM16 11h1v1h-1zM22 11h1v1h-1zM25 11h1v1h-1zM30 11h1v1h-1zM33 11h1v1h-1zM34 11h1v1h-1zM39 11h1v1h-1zM40 11h1v1h-1zM42 11h1v1h-1zM45 11h1v1h-1zM46 11h1v1h-1zM47 11h1v1h-1zM49 11h1v1h-1zM51 11h1v1h-1zM52 11h1v1h-1zM55 11h1v1h-1zM58 11h1v1h-1zM60 11h1v1h-1zM0 12h1v1h-1zM3 12h1v1h-1zM11 12h1v1h-1zM12 12h1v1h-1zM14 12h1v1h-1zM18 12h1v1h-1zM23 12h1v1h-1zM26 12h1v1h-1zM28 12h1v1h-1zM31 12h1v1h-1zM35 12h1v1h-1zM36 12h1v1h-1zM39 12h1v1h-1zM42 12h1v1h-1zM44 12h1v1h-1zM45 12h1v1h-1zM52 12h1v1h-1zM53 12h1v1h-1zM54 12h1v1h-1zM55 12h1v1h-1zM56 12h1v1h-1zM58 12h1v1h-1zM59 12h1v1h-1zM60 12h1v1h-1zM62 12h1v1h-1zM1 13h1v1h-1zM5 13h1v1h-1zM6 13h1v1h-1zM7 13h1v1h-1zM9 13h1v1h-1zM10 13h1v1h-1zM14 13h1v1h-1zM17 13h1v1h-1zM19 13h1v1h-1zM20 13h1v1h-1zM21 13h1v1h-1zM22 13h1v1h-1zM24 13h1v1h-1zM27 13h1v1h-1zM29 13h1v1h-1zM32 13h1v1h-1zM35 13h1v1h-1zM38 13h1v1h-1zM40 13h1v1h-1zM42 13h1v1h-1zM47 13h1v1h-1zM49 13h1v1h-1zM50 13h1v1h-1zM51 13h1v1h-1zM52 13h1v1h-1zM59 13h1v1h-1zM1 14h1v1h-1zM3 14h1v1h-1zM4 14h1v1h-1zM9 14h1v1h-1zM11 14h1v1h-1zM14 14h1v1h-1zM18 14h1v1h-1zM21 14h1v1h-1zM26 14h1v1h-1zM30 14h1v1h-1zM32 14h1v1h-1zM33 14h1v1h-1zM37 14h1v1h-1zM40 14h1v1h-1zM42 14h1v1h-1zM44 14h1v1h-1zM46 14h1v1h-1zM54 14h1v1h-1zM56 14h1v1h-1zM57 14h1v1h-1zM59 14h1v1h-1zM61 14h1v1h-1zM62 14h1v1h-1zM63 14h1v1h-1zM1 15h1v1h-1zM5 15h1v1h-1zM8 15h1v1h-1zM10 15h1v1h-1zM12 15h1v1h-1zM13 15h1v1h-1zM15 15h1v1h-1zM16 15h1v1h-1zM18 15h1v1h-1zM19 15h1v1h-1zM23 15h1v1h-1zM25 15h1v1h-1zM28 15h1v1h-1zM34 15h1v1h-1zM35 15h1v1h-1zM37 15h1v1h-1zM39 15h1v1h-1zM42 15h1v1h-1zM45 15h1v1h-1zM46 15h1v1h-1zM51 15h1v1h-1zM53 15h1v1h-1zM55 15h1v1h-1zM59 15h1v1h-1zM62 15h1v1h-1zM2 16h1v1h-1zM4 16h1v1h-1zM7 16h1v1h-1zM10 16h1v1h-1zM15 16h1v1h-1zM16 16h1v1h-1zM21 16h1v1h-1zM22 16h1v1h-1zM25 16h1v1h-1zM27 16h1v1h-1zM28 16h1v1h-1zM30 16h1v1h-1zM31 16h1v1h-1zM35 16h1v1h-1zM37 16h1v1h-1zM39 16h1v1h-1zM42 16h1v1h-1zM43 16h1v1h-1zM44 16h1v1h-1zM47 16h1v1h-1zM49 16h1v1h-1zM50 16h1v1h-1zM51 16h1v1h-1zM52 16h1v1h-1zM53 16h1v1h-1zM57 16h1v1h-1zM59 16h1v1h-1zM61 16h1v1h-1zM63 16h1v1h-1zM2 17h1v1h-1zM5 17h1v1h-1zM7 17h1v1h-1zM10 17h1v1h-1zM11 17h1v1h-1zM12 17h1v1h-1zM13 17h1v1h-1zM14 17h1v1h-1zM17 17h1v1h-1zM19 17h1v1h-1zM21 17h1v1h-1zM24 17h1v1h-1zM27 17h1v1h-1zM31 17h1v1h-1zM36 17h1v1h-1zM39 17h1v1h-1zM40 17h1v1h-1zM42 17h1v1h-1zM47 17h1v1h-1zM57 17h1v1h-1zM60 17h1v1h-1zM63 17h1v1h-1zM1 18h1v1h-1zM4 18h1v1h-1zM5 18h1v1h-1zM7 18h1v1h-1zM9 18h1v1h-1zM14 18h1v1h-1zM18 18h1v1h-1zM24 18h1v1h-1zM26 18h1v1h-1zM28 18h1v1h-1zM31 18h1v1h-1zM32 18h1v1h-1zM33 18h1v1h-1zM34 18h1v1h-1zM44 18h1v1h-1zM46 18h1v1h-1zM49 18h1v1h-1zM51 18h1v1h-1zM53 18h1v1h-1zM55 18h1v1h-1zM57 18h1v1h-1zM61 18h1v1h-1zM63 18h1v1h-1zM0 19h1v1h-1zM1 19h1v1h-1zM3 19h1v1h-1zM6 19h1v1h-1zM9 19h1v1h-1zM11 19h1v1h-1zM14 19h1v1h-1zM16 19h1v1h-1zM20 19h1v1h-1zM21 19h1v1h-1zM22 19h1v1h-1zM24 19h1v1h-1zM28 19h1v1h-1zM29 19h1v1h-1zM31 19h1v1h-1zM35 19h1v1h-1zM36 19h1v1h-1zM38 19h1v1h-1zM41 19h1v1h-1zM42 19h1v1h-1zM43 19h1v1h-1zM47 19h1v1h-1zM49 19h1v1h-1zM51 19h1v1h-1zM54 19h1v1h-1zM55 19h1v1h-1zM57 19h1v1h-1zM58 19h1v1h-1zM59 19h1v1h-1zM62 19h1v1h-1zM63 19h1v1h-1zM3 20h1v1h-1zM4 20h1v1h-1zM7 20h1v1h-1zM10 20h1v1h-1zM13 20h1v1h-1zM14 20h1v1h-1zM24 20h1v1h-1zM32 20h1v1h-1zM34 20h1v1h-1zM36 20h1v1h-1zM38 20h1v1h-1zM39 20h1v1h-1zM42 20h1v1h-1zM44 20h1v1h-1zM46 20h1v1h-1zM48 20h1v1h-1zM49 20h1v1h-1zM51 20h1v1h-1zM54 20h1v1h-1zM55 20h1v1h-1zM60 20h1v1h-1zM0 21h1v1h-1zM2 21h1v1h-1zM9 21h1v1h-1zM11 21h1v1h-1zM14 21h1v1h-1zM16 21h1v1h-1zM17 21h1v1h-1zM18 21h1v1h-1zM19 21h1v1h-1zM20 21h1v1h-1zM21 21h1v1h-1zM22 21h1v1h-1zM25 21h1v1h-1zM26 21h1v1h-1zM27 21h1v1h-1zM28 21h1v1h-1zM29 21h1v1h-1zM31 21h1v1h-1zM33 21h1v1h-1zM34 21h1v1h-1zM36 21h1v1h-1zM41 21h1v1h-1zM42 21h1v1h-1zM43 21h1v1h-1zM44 21h1v1h-1zM46 21h1v1h-1zM49 21h1v1h-1zM51 21h1v1h-1zM52 21h1v1h-1zM56 21h1v1h-1zM58 21h1v1h-1zM59 21h1v1h-1zM60 21h1v1h-1zM62 21h1v1h-1zM63 21h1v1h-1zM2 22h1v1h-1zM3 22h1v1h-1zM5 22h1v1h-1zM7 22h1v1h-1zM9 22h1v1h-1zM13 22h1v1h-1zM15 22h1v1h-1zM21 22h1v1h-1zM23 22h1v1h-1zM25 22h1v1h-1zM30 22h1v1h-1zM36 22h1v1h-1zM38 22h1v1h-1zM39 22h1v1h-1zM44 22h1v1h-1zM46 22h1v1h-1zM47 22h1v1h-1zM50 22h1v1h-1zM53 22h1v1h-1zM56 22h1v1h-1zM58 22h1v1h-1zM62 22h1v1h-1zM0 23h1v1h-1zM1 23h1v1h-1zM5 23h1v1h-1zM8 23h1v1h-1zM9 23h1v1h-1zM10 23h1v1h-1zM13 23h1v1h-1zM16 23h1v1h-1zM18 23h1v1h-1zM19 23h1v1h-1zM21 23h1v1h-1zM26 23h1v1h-1zM27 23h1v1h-1zM28 23h1v1h-1zM29 23h1v1h-1zM32 23h1v1h-1zM34 23h1v1h-1zM37 23h1v1h-1zM39 23h1v1h-1zM40 23h1v1h-1zM41 23h1v1h-1zM44 23h1v1h-1zM49 23h1v1h-1zM50 23h1v1h-1zM52 23h1v1h-1zM53 23h1v1h-1zM54 23h1v1h-1zM57 23h1v1h-1zM60 23h1v1h-1zM63 23h1v1h-1zM3 24h1v1h-1zM5 24h1v1h-1zM10 24h1v1h-1zM12 24h1v1h-1zM14 24h1v1h-1zM16 24h1v1h-1zM19 24h1v1h-1zM21 24h1v1h-1zM23 24h1v1h-1zM24 24h1v1h-1zM30 24h1v1h-1zM31 24h1v1h-1zM33 24h1v1h-1zM34 24h1v1h-1zM36 24h1v1h-1zM37 24h1v1h-1zM41 24h1v1h-1zM44 24h1v1h-1zM46 24h1v1h-1zM48 24h1v1h-1zM54 24h1v1h-1zM55 24h1v1h-1zM57 24h1v1h-1zM58 24h1v1h-1zM59 24h1v1h-1zM60 24h1v1h-1zM62 24h1v1h-1zM0 25h1v1h-1zM1 25h1v1h-1zM2 25h1v1h-1zM5 25h1v1h-1zM7 25h1v1h-1zM10 25h1v1h-1zM12 25h1v1h-1zM14 25h1v1h-1zM16 25h1v1h-1zM17 25h1v1h-1zM24 25h1v1h-1zM27 25h1v1h-1zM29 25h1v1h-1zM31 25h1v1h-1zM34 25h1v1h-1zM38 25h1v1h-1zM39 25h1v1h-1zM41 25h1v1h-1zM42 25h1v1h-1zM43 25h1v1h-1zM44 25h1v1h-1zM45 25h1v1h-1zM48 25h1v1h-1zM51 25h1v1h-1zM52 25h1v1h-1zM55 25h1v1h-1zM60 25h1v1h-1zM62 25h1v1h-1zM7 26h1v1h-1zM10 26h1v1h-1zM12 26h1v1h-1zM14 26h1v1h-1zM15 26h1v1h-1zM18 26h1v1h-1zM19 26h1v1h-1zM21 26h1v1h-1zM22 26h1v1h-1zM25 26h1v1h-1zM27 26h1v1h-1zM29 26h1v1h-1zM35 26h1v1h-1zM36 26h1v1h-1zM40 26h1v1h-1zM45 26h1v1h-1zM47 26h1v1h-1zM50 26h1v1h-1zM53 26h1v1h-1zM55 26h1v1h-1zM57 26h1v1h-1zM58 26h1v1h-1zM61 26h1v1h-1zM62 26h1v1h-1zM1 27h1v1h-1zM2 27h1v1h-1zM4 27h1v1h-1zM6 27h1v1h-1zM7 27h1v1h-1zM10 27h1v1h-1zM12 27h1v1h-1zM16 27h1v1h-1zM18 27h1v1h-1zM19 27h1v1h-1zM21 27h1v1h-1zM22 27h1v1h-1zM26 27h1v1h-1zM27 27h1v1h-1zM31 27h1v1h-1zM32 27h1v1h-1zM33 27h1v1h-1zM38 27h1v1h-1zM39 27h1v1h-1zM42 27h1v1h-1zM43 27h1v1h-1zM45 27h1v1h-1zM46 27h1v1h-1zM48 27h1v1h-1zM49 27h1v1h-1zM51 27h1v1h-1zM55 27h1v1h-1zM57 27h1v1h-1zM59 27h1v1h-1zM62 27h1v1h-1zM0 28h1v1h-1zM2 28h1v1h-1zM4 28h1v1h-1zM6 28h1v1h-1zM9 28h1v1h-1zM12 28h1v1h-1zM14 28h1v1h-1zM15 28h1v1h-1zM19 28h1v1h-1zM24 28h1v1h-1zM27 28h1v1h-1zM28 28h1v1h-1zM29 28h1v1h-1zM32 28h1v1h-1zM34 28h1v1h-1zM37 28h1v1h-1zM43 28h1v1h-1zM52 28h1v1h-1zM54 28h1v1h-1zM56 28h1v1h-1zM58 28h1v1h-1zM60 28h1v1h-1zM63 28h1v1h-1zM2 29h1v1h-1zM9 29h1v1h-1zM11 29h1v1h-1zM17 29h1v1h-1zM20 29h1v1h-1zM22 29h1v1h-1zM23 29h1v1h-1zM27 29h1v1h-1zM32 29h1v1h-1zM35 29h1v1h-1zM36 29h1v1h-1zM37 29h1v1h-1zM38 29h1v1h-1zM40 29h1v1h-1zM42 29h1v1h-1zM44 29h1v1h-1zM45 29h1v1h-1zM46 29h1v1h-1zM48 29h1v1h-1zM49 29h1v1h-1zM50 29h1v1h-1zM51 29h1v1h-1zM52 29h1v1h-1zM53 29h1v1h-1zM60 29h1v1h-1zM61 29h1v1h-1zM62 29h1v1h-1zM0 30h1v1h-1zM1 30h1v1h-1zM6 30h1v1h-1zM7 30h1v1h-1zM9 30h1v1h-1zM12 30h1v1h-1zM13 30h1v1h-1zM14 30h1v1h-1zM15 30h1v1h-1zM17 30h1v1h-1zM18 30h1v1h-1zM22 30h1v1h-1zM24 30h1v1h-1zM26 30h1v1h-1zM27 30h1v1h-1zM29 30h1v1h-1zM30 30h1v1h-1zM31 30h1v1h-1zM32 30h1v1h-1zM33 30h1v1h-1zM41 30h1v1h-1zM47 30h1v1h-1zM55 30h1v1h-1zM56 30h1v1h-1zM57 30h1v1h-1zM59 30h1v1h-1zM63 30h1v1h-1zM3 31h1v1h-1zM4 31h1v1h-1zM10 31h1v1h-1zM16 31h1v1h-1zM22 31h1v1h-1zM24 31h1v1h-1zM28 31h1v1h-1zM32 31h1v1h-1zM35 31h1v1h-1zM37 31h1v1h-1zM38 31h1v1h-1zM39 31h1v1h-1zM41 31h1v1h-1zM44 31h1v1h-1zM47 31h1v1h-1zM51 31h1v1h-1zM53 31h1v1h-1zM54 31h1v1h-1zM55 31h1v1h-1zM57 31h1v1h-1zM59 31h1v1h-1zM61 31h1v1h-1zM62 31h1v1h-1zM0 32h1v1h-1zM2 32h1v1h-1zM4 32h1v1h-1zM6 32h1v1h-1zM7 32h1v1h-1zM8 32h1v1h-1zM10 32h1v1h-1zM12 32h1v1h-1zM13 32h1v1h-1zM14 32h1v1h-1zM15 32h1v1h-1zM17 32h1v1h-1zM18 32h1v1h-1zM19 32h1v1h-1zM20 32h1v1h-1zM21 32h1v1h-1zM24 32h1v1h-1zM25 32h1v1h-1zM27 32h1v1h-1zM30 32h1v1h-1zM32 32h1v1h-1zM34 32h1v1h-1zM37 32h1v1h-1zM40 32h1v1h-1zM42 32h1v1h-1zM44 32h1v1h-1zM46 32h1v1h-1zM47 32h1v1h-1zM49 32h1v1h-1zM51 32h1v1h-1zM59 32h1v1h-1zM61 32h1v1h-1zM0 33h1v1h-1zM2 33h1v1h-1zM4 33h1v1h-1zM5 33h1v1h-1zM7 33h1v1h-1zM10 33h1v1h-1zM13 33h1v1h-1zM15 33h1v1h-1zM22 33h1v1h-1zM26 33h1v1h-1zM30 33h1v1h-1zM32 33h1v1h-1zM34 33h1v1h-1zM35 33h1v1h-1zM38 33h1v1h-1zM42 33h1v1h-1zM45 33h1v1h-1zM48 33h1v1h-1zM53 33h1v1h-1zM54 33h1v1h-1zM55 33h1v1h-1zM56 33h1v1h-1zM57 33h1v1h-1zM63 33h1v1h-1zM1 34h1v1h-1zM6 34h1v1h-1zM8 34h1v1h-1zM11 34h1v1h-1zM13 34h1v1h-1zM16 34h1v1h-1zM19 34h1v1h-1zM21 34h1v1h-1zM25 34h1v1h-1zM26 34h1v1h-1zM27 34h1v1h-1zM28 34h1v1h-1zM30 34h1v1h-1zM38 34h1v1h-1zM39 34h1v1h-1zM40 34h1v1h-1zM42 34h1v1h-1zM44 34h1v1h-1zM47 34h1v1h-1zM50 34h1v1h-1zM51 34h1v1h-1zM59 34h1v1h-1zM61 34h1v1h-1zM63 34h1v1h-1zM1 35h1v1h-1zM3 35h1v1h-1zM5 35h1v1h-1zM10 35h1v1h-1zM11 35h1v1h-1zM17 35h1v1h-1zM18 35h1v1h-1zM19 35h1v1h-1zM23 35h1v1h-1zM30 35h1v1h-1zM32 35h1v1h-1zM33 35h1v1h-1zM34 35h1v1h-1zM38 35h1v1h-1zM42 35h1v1h-1zM43 35h1v1h-1zM47 35h1v1h-1zM48 35h1v1h-1zM50 35h1v1h-1zM53 35h1v1h-1zM56 35h1v1h-1zM57 35h1v1h-1zM59 35h1v1h-1zM61 35h1v1h-1zM0 36h1v1h-1zM3 36h1v1h-1zM5 36h1v1h-1zM7 36h1v1h-1zM8 36h1v1h-1zM9 36h1v1h-1zM11 36h1v1h-1zM13 36h1v1h-1zM14 36h1v1h-1zM15 36h1v1h-1zM16 36h1v1h-1zM21 36h1v1h-1zM22 36h1v1h-1zM24 36h1v1h-1zM32 36h1v1h-1zM34 36h1v1h-1zM37 36h1v1h-1zM39 36h1v1h-1zM40 36h1v1h-1zM43 36h1v1h-1zM45 36h1v1h-1zM46 36h1v1h-1zM50 36h1v1h-1zM53 36h1v1h-1zM54 36h1v1h-1zM56 36h1v1h-1zM59 36h1v1h-1zM61 36h1v1h-1zM0 37h1v1h-1zM1 37h1v1h-1zM4 37h1v1h-1zM8 37h1v1h-1zM18 37h1v1h-1zM19 37h1v1h-1zM21 37h1v1h-1zM26 37h1v1h-1zM27 37h1v1h-1zM28 37h1v1h-1zM34 37h1v1h-1zM36 37h1v1h-1zM37 37h1v1h-1zM40 37h1v1h-1zM41 37h1v1h-1zM44 37h1v1h-1zM48 37h1v1h-1zM51 37h1v1h-1zM53 37h1v1h-1zM56 37h1v1h-1zM59 37h1v1h-1zM61 37h1v1h-1zM63 37h1v1h-1zM3 38h1v1h-1zM4 38h1v1h-1zM6 38h1v1h-1zM7 38h1v1h-1zM9 38h1v1h-1zM10 38h1v1h-1zM11 38h1v1h-1zM12 38h1v1h-1zM14 38h1v1h-1zM16 38h1v1h-1zM20 38h1v1h-1zM21 38h1v1h-1zM24 38h1v1h-1zM26 38h1v1h-1zM30 38h1v1h-1zM31 38h1v1h-1zM32 38h1v1h-1zM42 38h1v1h-1zM44 38h1v1h-1zM45 38h1v1h-1zM49 38h1v1h-1zM51 38h1v1h-1zM53 38h1v1h-1zM56 38h1v1h-1zM58 38h1v1h-1zM61 38h1v1h-1zM62 38h1v1h-1zM0 39h1v1h-1zM2 39h1v1h-1zM6 39h1v1h-1zM12 39h1v1h-1zM14 39h1v1h-1zM15 39h1v1h-1zM18 39h1v1h-1zM19 39h1v1h-1zM23 39h1v1h-1zM27 39h1v1h-1zM34 39h1v1h-1zM35 39h1v1h-1zM37 39h1v1h-1zM38 39h1v1h-1zM39 39h1v1h-1zM40 39h1v1h-1zM44 39h1v1h-1zM46 39h1v1h-1zM48 39h1v1h-1zM51 39h1v1h-1zM55 39h1v1h-1zM56 39h1v1h-1zM58 39h1v1h-1zM59 39h1v1h-1zM0 40h1v1h-1zM3 40h1v1h-1zM5 40h1v1h-1zM15 40h1v1h-1zM16 40h1v1h-1zM17 40h1v1h-1zM22 40h1v1h-1zM26 40h1v1h-1zM28 40h1v1h-1zM29 40h1v1h-1zM30 40h1v1h-1zM32 40h1v1h-1zM33 40h1v1h-1zM37 40h1v1h-1zM41 40h1v1h-1zM42 40h1v1h-1zM43 40h1v1h-1zM44 40h1v1h-1zM48 40h1v1h-1zM50 40h1v1h-1zM53 40h1v1h-1zM60 40h1v1h-1zM62 40h1v1h-1zM0 41h1v1h-1zM7 41h1v1h-1zM8 41h1v1h-1zM9 41h1v1h-1zM10 41h1v1h-1zM12 41h1v1h-1zM13 41h1v1h-1zM14 41h1v1h-1zM18 41h1v1h-1zM20 41h1v1h-1zM21 41h1v1h-1zM22 41h1v1h-1zM28 41h1v1h-1zM30 41h1v1h-1zM33 41h1v1h-1zM45 41h1v1h-1zM46 41h1v1h-1zM47 41h1v1h-1zM48 41h1v1h-1zM49 41h1v1h-1zM53 41h1v1h-1zM55 41h1v1h-1zM56 41h1v1h-1zM57 41h1v1h-1zM61 41h1v1h-1zM62 41h1v1h-1zM1 42h1v1h-1zM4 42h1v1h-1zM6 42h1v1h-1zM7 42h1v1h-1zM12 42h1v1h-1zM16 42h1v1h-1zM17 42h1v1h-1zM18 42h1v1h-1zM23 42h1v1h-1zM24 42h1v1h-1zM27 42h1v1h-1zM30 42h1v1h-1zM34 42h1v1h-1zM35 42h1v1h-1zM37 42h1v1h-1zM38 42h1v1h-1zM39 42h1v1h-1zM40 42h1v1h-1zM41 42h1v1h-1zM42 42h1v1h-1zM47 42h1v1h-1zM49 42h1v1h-1zM50 42h1v1h-1zM51 42h1v1h-1zM53 42h1v1h-1zM57 42h1v1h-1zM59 42h1v1h-1zM62 42h1v1h-1zM2 43h1v1h-1zM3 43h1v1h-1zM4 43h1v1h-1zM6 43h1v1h-1zM8 43h1v1h-1zM9 43h1v1h-1zM10 43h1v1h-1zM11 43h1v1h-1zM13 43h1v1h-1zM18 43h1v1h-1zM19 43h1v1h-1zM23 43h1v1h-1zM26 43h1v1h-1zM28 43h1v1h-1zM31 43h1v1h-1zM32 43h1v1h-1zM34 43h1v1h-1zM36 43h1v1h-1zM37 43h1v1h-1zM42 43h1v1h-1zM43 43h1v1h-1zM44 43h1v1h-1zM45 43h1v1h-1zM47 43h1v1h-1zM49 43h1v1h-1zM51 43h1v1h-1zM53 43h1v1h-1zM54 43h1v1h-1zM57 43h1v1h-1zM60 43h1v1h-1zM62 43h1v1h-1zM0 44h1v1h-1zM10 44h1v1h-1zM14 44h1v1h-1zM21 44h1v1h-1zM24 44h1v1h-1zM25 44h1v1h-1zM26 44h1v1h-1zM28 44h1v1h-1zM38 44h1v1h-1zM40 44h1v1h-1zM41 44h1v1h-1zM45 44h1v1h-1zM47 44h1v1h-1zM55 44h1v1h-1zM57 44h1v1h-1zM60 44h1v1h-1zM62 44h1v1h-1zM0 45h1v1h-1zM2 45h1v1h-1zM5 45h1v1h-1zM6 45h1v1h-1zM7 45h1v1h-1zM9 45h1v1h-1zM10 45h1v1h-1zM17 45h1v1h-1zM18 45h1v1h-1zM19 45h1v1h-1zM22 45h1v1h-1zM23 45h1v1h-1zM27 45h1v1h-1zM30 45h1v1h-1zM31 45h1v1h-1zM32 45h1v1h-1zM34 45h1v1h-1zM35 45h1v1h-1zM38 45h1v1h-1zM40 45h1v1h-1zM43 45h1v1h-1zM44 45h1v1h-1zM47 45h1v1h-1zM49 45h1v1h-1zM50 45h1v1h-1zM51 45h1v1h-1zM56 45h1v1h-1zM58 45h1v1h-1zM60 45h1v1h-1zM0 46h1v1h-1zM4 46h1v1h-1zM7 46h1v1h-1zM12 46h1v1h-1zM13 46h1v1h-1zM15 46h1v1h-1zM17 46h1v1h-1zM19 46h1v1h-1zM24 46h1v1h-1zM28 46h1v1h-1zM31 46h1v1h-1zM33 46h1v1h-1zM36 46h1v1h-1zM39 46h1v1h-1zM43 46h1v1h-1zM46 46h1v1h-1zM49 46h1v1h-1zM51 46h1v1h-1zM54 46h1v1h-1zM57 46h1v1h-1zM61 46h1v1h-1zM0 47h1v1h-1zM2 47h1v1h-1zM4 47h1v1h-1zM6 47h1v1h-1zM8 47h1v1h-1zM9 47h1v1h-1zM11 47h1v1h-1zM12 47h1v1h-1zM15 47h1v1h-1zM18 47h1v1h-1zM20 47h1v1h-1zM23 47h1v1h-1zM26 47h1v1h-1zM28 47h1v1h-1zM32 47h1v1h-1zM35 47h1v1h-1zM37 47h1v1h-1zM39 47h1v1h-1zM41 47h1v1h-1zM42 47h1v1h-1zM45 47h1v1h-1zM49 47h1v1h-1zM52 47h1v1h-1zM54 47h1v1h-1zM59 47h1v1h-1zM61 47h1v1h-1zM63 47h1v1h-1zM1 48h1v1h-1zM3 48h1v1h-1zM5 48h1v1h-1zM9 48h1v1h-1zM13 48h1v1h-1zM17 48h1v1h-1zM21 48h1v1h-1zM24 48h1v1h-1zM26 48h1v1h-1zM28 48h1v1h-1zM29 48h1v1h-1zM33 48h1v1h-1zM37 48h1v1h-1zM39 48h1v1h-1zM42 48h1v1h-1zM45 48h1v1h-1zM46 48h1v1h-1zM47 48h1v1h-1zM49 48h1v1h-1zM50 48h1v1h-1zM53 48h1v1h-1zM56 48h1v1h-1zM58 48h1v1h-1zM61 48h1v1h-1zM63 48h1v1h-1zM3 49h1v1h-1zM7 49h1v1h-1zM9 49h1v1h-1zM10 49h1v1h-1zM12 49h1v1h-1zM16 49h1v1h-1zM19 49h1v1h-1zM25 49h1v1h-1zM27 49h1v1h-1zM31 49h1v1h-1zM35 49h1v1h-1zM36 49h1v1h-1zM39 49h1v1h-1zM41 49h1v1h-1zM51 49h1v1h-1zM53 49h1v1h-1zM54 49h1v1h-1zM56 49h1v1h-1zM58 49h1v1h-1zM61 49h1v1h-1zM63 49h1v1h-1zM0 50h1v1h-1zM2 50h1v1h-1zM8 50h1v1h-1zM11 50h1v1h-1zM14 50h1v1h-1zM16 50h1v1h-1zM18 50h1v1h-1zM19 50h1v1h-1zM21 50h1v1h-1zM22 50h1v1h-1zM24 50h1v1h-1zM26 50h1v1h-1zM27 50h1v1h-1zM30 50h1v1h-1zM33 50h1v1h-1zM36 50h1v1h-1zM38 50h1v1h-1zM40 50h1v1h-1zM41 50h1v1h-1zM42 50h1v1h-1zM43 50h1v1h-1zM46 50h1v1h-1zM47 50h1v1h-1zM49 50h1v1h-1zM50 50h1v1h-1zM51 50h1v1h-1zM55 50h1v1h-1zM56 50h1v1h-1zM58 50h1v1h-1zM60 50h1v1h-1zM63 50h1v1h-1zM2 51h1v1h-1zM4 51h1v1h-1zM5 51h1v1h-1zM6 51h1v1h-1zM7 51h1v1h-1zM9 51h1v1h-1zM11 51h1v1h-1zM13 51h1v1h-1zM16 51h1v1h-1zM18 51h1v1h-1zM21 51h1v1h-1zM24 51h1v1h-1zM29 51h1v1h-1zM32 51h1v1h-1zM34 51h1v1h-1zM37 51h1v1h-1zM42 51h1v1h-1zM46 51h1v1h-1zM49 51h1v1h-1zM54 51h1v1h-1zM60 51h1v1h-1zM62 51h1v1h-1zM2 52h1v1h-1zM10 52h1v1h-1zM13 52h1v1h-1zM14 52h1v1h-1zM16 52h1v1h-1zM18 52h1v1h-1zM24 52h1v1h-1zM26 52h1v1h-1zM27 52h1v1h-1zM30 52h1v1h-1zM31 52h1v1h-1zM36 52h1v1h-1zM40 52h1v1h-1zM44 52h1v1h-1zM45 52h1v1h-1zM47 52h1v1h-1zM50 52h1v1h-1zM51 52h1v1h-1zM52 52h1v1h-1zM53 52h1v1h-1zM56 52h1v1h-1zM57 52h1v1h-1zM58 52h1v1h-1zM59 52h1v1h-1zM61 52h1v1h-1zM62 52h1v1h-1zM63 52h1v1h-1zM1 53h1v1h-1zM3 53h1v1h-1zM8 53h1v1h-1zM11 53h1v1h-1zM13 53h1v1h-1zM16 53h1v1h-1zM19 53h1v1h-1zM22 53h1v1h-1zM25 53h1v1h-1zM28 53h1v1h-1zM29 53h1v1h-1zM33 53h1v1h-1zM36 53h1v1h-1zM38 53h1v1h-1zM40 53h1v1h-1zM44 53h1v1h-1zM47 53h1v1h-1zM48 53h1v1h-1zM54 53h1v1h-1zM60 53h1v1h-1zM0 54h1v1h-1zM3 54h1v1h-1zM5 54h1v1h-1zM6 54h1v1h-1zM7 54h1v1h-1zM8 54h1v1h-1zM12 54h1v1h-1zM16 54h1v1h-1zM20 54h1v1h-1zM22 54h1v1h-1zM25 54h1v1h-1zM27 54h1v1h-1zM30 54h1v1h-1zM31 54h1v1h-1zM32 54h1v1h-1zM33 54h1v1h-1zM35 54h1v1h-1zM38 54h1v1h-1zM41 54h1v1h-1zM44 54h1v1h-1zM46 54h1v1h-1zM54 54h1v1h-1zM58 54h1v1h-1zM61 54h1v1h-1zM62 54h1v1h-1zM3 55h1v1h-1zM9 55h1v1h-1zM11 55h1v1h-1zM13 55h1v1h-1zM14 55h1v1h-1zM17 55h1v1h-1zM18 55h1v1h-1zM19 55h1v1h-1zM22 55h1v1h-1zM25 55h1v1h-1zM36 55h1v1h-1zM38 55h1v1h-1zM41 55h1v1h-1zM42 55h1v1h-1zM44 55h1v1h-1zM47 55h1v1h-1zM49 55h1v1h-1zM51 55h1v1h-1zM52 55h1v1h-1zM53 55h1v1h-1zM55 55h1v1h-1zM56 55h1v1h-1zM57 55h1v1h-1zM58 55h1v1h-1zM59 55h1v1h-1zM60 55h1v1h-1zM62 55h1v1h-1zM0 56h1v1h-1zM4 56h1v1h-1zM8 56h1v1h-1zM12 56h1v1h-1zM15 56h1v1h-1zM17 56h1v1h-1zM19 56h1v1h-1zM23 56h1v1h-1zM24 56h1v1h-1zM27 56h1v1h-1zM29 56h1v1h-1zM30 56h1v1h-1zM31 56h1v1h-1zM32 56h1v1h-1zM33 56h1v1h-1zM34 56h1v1h-1zM36 56h1v1h-1zM38 56h1v1h-1zM40 56h1v1h-1zM42 56h1v1h-1zM44 56h1v1h-1zM47 56h1v1h-1zM49 56h1v1h-1zM50 56h1v1h-1zM56 56h1v1h-1zM62 56h1v1h-1zM1 57h1v1h-1zM4 57h1v1h-1zM6 57h1v1h-1zM7 57h1v1h-1zM9 57h1v1h-1zM11 57h1v1h-1zM16 57h1v1h-1zM21 57h1v1h-1zM25 57h1v1h-1zM26 57h1v1h-1zM27 57h1v1h-1zM30 57h1v1h-1zM34 57h1v1h-1zM36 57h1v1h-1zM38 57h1v1h-1zM40 57h1v1h-1zM42 57h1v1h-1zM44 57h1v1h-1zM49 57h1v1h-1zM53 57h1v1h-1zM55 57h1v1h-1zM57 57h1v1h-1zM59 57h1v1h-1zM61 57h1v1h-1zM62 57h1v1h-1zM4 58h1v1h-1zM8 58h1v1h-1zM9 58h1v1h-1zM11 58h1v1h-1zM12 58h1v1h-1zM15 58h1v1h-1zM18 58h1v1h-1zM20 58h1v1h-1zM22 58h1v1h-1zM28 58h1v1h-1zM29 58h1v1h-1zM32 58h1v1h-1zM36 58h1v1h-1zM38 58h1v1h-1zM40 58h1v1h-1zM43 58h1v1h-1zM45 58h1v1h-1zM46 58h1v1h-1zM48 58h1v1h-1zM49 58h1v1h-1zM50 58h1v1h-1zM57 58h1v1h-1zM59 58h1v1h-1zM62 58h1v1h-1zM63 58h1v1h-1zM1 59h1v1h-1zM2 59h1v1h-1zM14 59h1v1h-1zM15 59h1v1h-1zM18 59h1v1h-1zM22 59h1v1h-1zM23 59h1v1h-1zM24 59h1v1h-1zM26 59h1v1h-1zM32 59h1v1h-1zM33 59h1v1h-1zM34 59h1v1h-1zM35 59h1v1h-1zM36 59h1v1h-1zM39 59h1v1h-1zM41 59h1v1h-1zM44 59h1v1h-1zM46 59h1v1h-1zM52 59h1v1h-1zM53 59h1v1h-1zM54 59h1v1h-1zM62 59h1v1h-1zM0 60h1v1h-1zM4 60h1v1h-1zM5 60h1v1h-1zM6 60h1v1h-1zM7 60h1v1h-1zM9 60h1v1h-1zM10 60h1v1h-1zM12 60h1v1h-1zM15 60h1v1h-1zM17 60h1v1h-1zM20 60h1v1h-1zM21 60h1v1h-1zM24 60h1v1h-1zM27 60h1v1h-1zM31 60h1v1h-1zM37 60h1v1h-1zM39 60h1v1h-1zM41 60h1v1h-1zM43 60h1v1h-1zM44 60h1v1h-1zM46 60h1v1h-1zM49 60h1v1h-1zM50 60h1v1h-1zM55 60h1v1h-1zM56 60h1v1h-1zM57 60h1v1h-1zM58 60h1v1h-1zM59 60h1v1h-1zM61 60h1v1h-1zM2 61h1v1h-1zM3 61h1v1h-1zM7 61h1v1h-1zM9 61h1v1h-1zM10 61h1v1h-1zM12 61h1v1h-1zM14 61h1v1h-1zM16 61h1v1h-1zM19 61h1v1h-1zM21 61h1v1h-1zM24 61h1v1h-1zM26 61h1v1h-1zM27 61h1v1h-1zM29 61h1v1h-1zM32 61h1v1h-1zM33 61h1v1h-1zM34 61h1v1h-1zM35 61h1v1h-1zM36 61h1v1h-1zM37 61h1v1h-1zM39 61h1v1h-1zM41 61h1v1h-1zM45 61h1v1h-1zM47 61h1v1h-1zM48 61h1v1h-1zM51 61h1v1h-1zM55 61h1v1h-1zM60 61h1v1h-1zM0 62h1v1h-1zM1 62h1v1h-1zM4 62h1v1h-1zM5 62h1v1h-1zM7 62h1v1h-1zM11 62h1v1h-1zM14 62h1v1h-1zM18 62h1v1h-1zM22 62h1v1h-1zM23 62h1v1h-1zM24 62h1v1h-1zM28 62h1v1h-1zM29 62h1v1h-1zM34 62h1v1h-1zM40 62h1v1h-1zM43 62h1v1h-1zM50 62h1v1h-1zM52 62h1v1h-1zM53 62h1v1h-1zM57 62h1v1h-1zM59 62h1v1h-1zM60 62h1v1h-1zM62 62h1v1h-1zM63 62h1v1h-1zM2 63h1v1h-1zM3 63h1v1h-1zM9 63h1v1h-1zM13 63h1v1h-1zM16 63h1v1h-1zM17 63h1v1h-1zM20 63h1v1h-1zM21 63h1v1h-1zM22 63h1v1h-1zM26 63h1v1h-1zM27 63h1v1h-1zM30 63h1v1h-1zM33 63h1v1h-1zM34 63h1v1h-1zM35 63h1v1h-1zM36 63h1v1h-1zM43 63h1v1h-1zM45 63h1v1h-1zM46 63h1v1h-1zM47 63h1v1h-1zM50 63h1v1h-1zM54 63h1v1h-1zM55 63h1v1h-1zM57 63h1v1h-1zM58 63h1v1h-1zM62 63h1v1h-1z" fill="#000"/></pattern><pattern id="hk" width="64" height="64" patternUnits="userSpaceOnUse"><rect width="64" height="64" fill="#000"/><path d="M8 0h1v1h-1zM9 0h1v1h-1zM31 0h1v1h-1zM32 0h1v1h-1zM37 0h1v1h-1zM43 0h1v1h-1zM48 0h1v1h-1zM58 0h1v1h-1zM0 1h1v1h-1zM5 1h1v1h-1zM11 1h1v1h-1zM14 1h1v1h-1zM17 1h1v1h-1zM18 1h1v1h-1zM20 1h1v1h-1zM28 1h1v1h-1zM38 1h1v1h-1zM45 1h1v1h-1zM49 1h1v1h-1zM52 1h1v1h-1zM57 1h1v1h-1zM0 2h1v1h-1zM12 2h1v1h-1zM15 2h1v1h-1zM23 2h1v1h-1zM27 2h1v1h-1zM44 2h1v1h-1zM53 2h1v1h-1zM59 2h1v1h-1zM60 2h1v1h-1zM0 3h1v1h-1zM8 3h1v1h-1zM13 3h1v1h-1zM16 3h1v1h-1zM29 3h1v1h-1zM30 3h1v1h-1zM34 3h1v1h-1zM35 3h1v1h-1zM36 3h1v1h-1zM40 3h1v1h-1zM42 3h1v1h-1zM57 3h1v1h-1zM8 4h1v1h-1zM14 4h1v1h-1zM18 4h1v1h-1zM19 4h1v1h-1zM20 4h1v1h-1zM21 4h1v1h-1zM40 4h1v1h-1zM42 4h1v1h-1zM48 4h1v1h-1zM49 4h1v1h-1zM50 4h1v1h-1zM51 4h1v1h-1zM5 5h1v1h-1zM25 5h1v1h-1zM38 5h1v1h-1zM40 5h1v1h-1zM42 5h1v1h-1zM49 5h1v1h-1zM58 5h1v1h-1zM2 6h1v1h-1zM4 6h1v1h-1zM8 6h1v1h-1zM9 6h1v1h-1zM10 6h1v1h-1zM24 6h1v1h-1zM26 6h1v1h-1zM40 6h1v1h-1zM42 6h1v1h-1zM45 6h1v1h-1zM50 6h1v1h-1zM56 6h1v1h-1zM58 6h1v1h-1zM63 6h1v1h-1zM1 7h1v1h-1zM14 7h1v1h-1zM15 7h1v1h-1zM22 7h1v1h-1zM23 7h1v1h-1zM28 7h1v1h-1zM30 7h1v1h-1zM31 7h1v1h-1zM32 7h1v1h-1zM34 7h1v1h-1zM35 7h1v1h-1zM44 7h1v1h-1zM58 7h1v1h-1zM62 7h1v1h-1zM0 8h1v1h-1zM5 8h1v1h-1zM12 8h1v1h-1zM19 8h1v1h-1zM28 8h1v1h-1zM38 8h1v1h-1zM43 8h1v1h-1zM50 8h1v1h-1zM53 8h1v1h-1zM10 9h1v1h-1zM12 9h1v1h-1zM15 9h1v1h-1zM20 9h1v1h-1zM24 9h1v1h-1zM32 9h1v1h-1zM33 9h1v1h-1zM34 9h1v1h-1zM37 9h1v1h-1zM47 9h1v1h-1zM51 9h1v1h-1zM53 9h1v1h-1zM56 9h1v1h-1zM57 9h1v1h-1zM58 9h1v1h-1zM9 10h1v1h-1zM12 10h1v1h-1zM21 10h1v1h-1zM24 10h1v1h-1zM28 10h1v1h-1zM29 10h1v1h-1zM36 10h1v1h-1zM47 10h1v1h-1zM60 10h1v1h-1zM1 11h1v1h-1zM8 11h1v1h-1zM16 11h1v1h-1zM24 11h1v1h-1zM35 11h1v1h-1zM41 11h1v1h-1zM44 11h1v1h-1zM47 11h1v1h-1zM62 11h1v1h-1zM3 12h1v1h-1zM7 12h1v1h-1zM10 12h1v1h-1zM12 12h1v1h-1zM16 12h1v1h-1zM21 12h1v1h-1zM27 12h1v1h-1zM32 12h1v1h-1zM33 12h1v1h-1zM40 12h1v1h-1zM49 12h1v1h-1zM54 12h1v1h-1zM55 12h1v1h-1zM56 12h1v1h-1zM57 12h1v1h-1zM59 12h1v1h-1zM3 13h1v1h-1zM9 13h1v1h-1zM13 13h1v1h-1zM20 13h1v1h-1zM23 13h1v1h-1zM28 13h1v1h-1zM39 13h1v1h-1zM52 13h1v1h-1zM60 13h1v1h-1zM63 13h1v1h-1zM0 14h1v1h-1zM3 14h1v1h-1zM14 14h1v1h-1zM19 14h1v1h-1zM22 14h1v1h-1zM29 14h1v1h-1zM32 14h1v1h-1zM37 14h1v1h-1zM41 14h1v1h-1zM45 14h1v1h-1zM48 14h1v1h-1zM57 14h1v1h-1zM61 14h1v1h-1zM1 15h1v1h-1zM11 15h1v1h-1zM12 15h1v1h-1zM17 15h1v1h-1zM21 15h1v1h-1zM27 15h1v1h-1zM30 15h1v1h-1zM32 15h1v1h-1zM40 15h1v1h-1zM43 15h1v1h-1zM49 15h1v1h-1zM56 15h1v1h-1zM14 16h1v1h-1zM16 16h1v1h-1zM27 16h1v1h-1zM32 16h1v1h-1zM39 16h1v1h-1zM43 16h1v1h-1zM45 16h1v1h-1zM51 16h1v1h-1zM55 16h1v1h-1zM56 16h1v1h-1zM59 16h1v1h-1zM61 16h1v1h-1zM5 17h1v1h-1zM13 17h1v1h-1zM18 17h1v1h-1zM19 17h1v1h-1zM20 17h1v1h-1zM22 17h1v1h-1zM30 17h1v1h-1zM35 17h1v1h-1zM38 17h1v1h-1zM43 17h1v1h-1zM52 17h1v1h-1zM54 17h1v1h-1zM55 17h1v1h-1zM61 17h1v1h-1zM0 18h1v1h-1zM4 18h1v1h-1zM8 18h1v1h-1zM12 18h1v1h-1zM25 18h1v1h-1zM29 18h1v1h-1zM46 18h1v1h-1zM50 18h1v1h-1zM53 18h1v1h-1zM6 19h1v1h-1zM8 19h1v1h-1zM24 19h1v1h-1zM33 19h1v1h-1zM36 19h1v1h-1zM46 19h1v1h-1zM57 19h1v1h-1zM63 19h1v1h-1zM5 20h1v1h-1zM8 20h1v1h-1zM15 20h1v1h-1zM18 20h1v1h-1zM23 20h1v1h-1zM33 20h1v1h-1zM35 20h1v1h-1zM38 20h1v1h-1zM54 20h1v1h-1zM57 20h1v1h-1zM61 20h1v1h-1zM2 21h1v1h-1zM14 21h1v1h-1zM19 21h1v1h-1zM29 21h1v1h-1zM30 21h1v1h-1zM33 21h1v1h-1zM38 21h1v1h-1zM40 21h1v1h-1zM44 21h1v1h-1zM45 21h1v1h-1zM46 21h1v1h-1zM55 21h1v1h-1zM62 21h1v1h-1zM3 22h1v1h-1zM17 22h1v1h-1zM20 22h1v1h-1zM38 22h1v1h-1zM40 22h1v1h-1zM42 22h1v1h-1zM56 22h1v1h-1zM63 22h1v1h-1zM0 23h1v1h-1zM4 23h1v1h-1zM9 23h1v1h-1zM16 23h1v1h-1zM21 23h1v1h-1zM23 23h1v1h-1zM24 23h1v1h-1zM25 23h1v1h-1zM43 23h1v1h-1zM48 23h1v1h-1zM52 23h1v1h-1zM54 23h1v1h-1zM57 23h1v1h-1zM59 23h1v1h-1zM5 24h1v1h-1zM10 24h1v1h-1zM30 24h1v1h-1zM48 24h1v1h-1zM50 24h1v1h-1zM59 24h1v1h-1zM0 25h1v1h-1zM1 25h1v1h-1zM11 25h1v1h-1zM13 25h1v1h-1zM41 25h1v1h-1zM44 25h1v1h-1zM45 25h1v1h-1zM46 25h1v1h-1zM51 25h1v1h-1zM14 26h1v1h-1zM17 26h1v1h-1zM19 26h1v1h-1zM25 26h1v1h-1zM27 26h1v1h-1zM28 26h1v1h-1zM31 26h1v1h-1zM36 26h1v1h-1zM52 26h1v1h-1zM58 26h1v1h-1zM36 27h1v1h-1zM54 27h1v1h-1zM58 27h1v1h-1zM61 27h1v1h-1zM62 27h1v1h-1zM63 27h1v1h-1zM2 28h1v1h-1zM3 28h1v1h-1zM4 28h1v1h-1zM15 28h1v1h-1zM16 28h1v1h-1zM22 28h1v1h-1zM27 28h1v1h-1zM41 28h1v1h-1zM42 28h1v1h-1zM43 28h1v1h-1zM44 28h1v1h-1zM54 28h1v1h-1zM58 28h1v1h-1zM28 29h1v1h-1zM35 29h1v1h-1zM39 29h1v1h-1zM63 29h1v1h-1zM9 30h1v1h-1zM10 30h1v1h-1zM11 30h1v1h-1zM16 30h1v1h-1zM17 30h1v1h-1zM34 30h1v1h-1zM46 30h1v1h-1zM47 30h1v1h-1zM48 30h1v1h-1zM49 30h1v1h-1zM52 30h1v1h-1zM59 30h1v1h-1zM60 30h1v1h-1zM61 30h1v1h-1zM63 30h1v1h-1zM7 31h1v1h-1zM20 31h1v1h-1zM21 31h1v1h-1zM22 31h1v1h-1zM28 31h1v1h-1zM33 31h1v1h-1zM42 31h1v1h-1zM46 31h1v1h-1zM47 31h1v1h-1zM48 31h1v1h-1zM49 31h1v1h-1zM50 31h1v1h-1zM53 31h1v1h-1zM63 31h1v1h-1zM2 32h1v1h-1zM7 32h1v1h-1zM10 32h1v1h-1zM16 32h1v1h-1zM17 32h1v1h-1zM29 32h1v1h-1zM42 32h1v1h-1zM46 32h1v1h-1zM63 32h1v1h-1zM3 33h1v1h-1zM9 33h1v1h-1zM13 33h1v1h-1zM30 33h1v1h-1zM36 33h1v1h-1zM37 33h1v1h-1zM38 33h1v1h-1zM39 33h1v1h-1zM44 33h1v1h-1zM46 33h1v1h-1zM49 33h1v1h-1zM59 33h1v1h-1zM1 34h1v1h-1zM4 34h1v1h-1zM8 34h1v1h-1zM11 34h1v1h-1zM14 34h1v1h-1zM16 34h1v1h-1zM25 34h1v1h-1zM28 34h1v1h-1zM31 34h1v1h-1zM34 34h1v1h-1zM42 34h1v1h-1zM46 34h1v1h-1zM51 34h1v1h-1zM59 34h1v1h-1zM61 34h1v1h-1zM11 35h1v1h-1zM17 35h1v1h-1zM24 35h1v1h-1zM34 35h1v1h-1zM37 35h1v1h-1zM51 35h1v1h-1zM54 35h1v1h-1zM56 35h1v1h-1zM61 35h1v1h-1zM9 36h1v1h-1zM18 36h1v1h-1zM20 36h1v1h-1zM26 36h1v1h-1zM51 36h1v1h-1zM57 36h1v1h-1zM61 36h1v1h-1zM2 37h1v1h-1zM8 37h1v1h-1zM13 37h1v1h-1zM16 37h1v1h-1zM21 37h1v1h-1zM42 37h1v1h-1zM44 37h1v1h-1zM49 37h1v1h-1zM58 37h1v1h-1zM1 38h1v1h-1zM7 38h1v1h-1zM12 38h1v1h-1zM17 38h1v1h-1zM25 38h1v1h-1zM27 38h1v1h-1zM41 38h1v1h-1zM44 38h1v1h-1zM47 38h1v1h-1zM50 38h1v1h-1zM54 38h1v1h-1zM55 38h1v1h-1zM56 38h1v1h-1zM60 38h1v1h-1zM11 39h1v1h-1zM24 39h1v1h-1zM28 39h1v1h-1zM47 39h1v1h-1zM51 39h1v1h-1zM62 39h1v1h-1zM18 40h1v1h-1zM23 40h1v1h-1zM39 40h1v1h-1zM41 40h1v1h-1zM47 40h1v1h-1zM53 40h1v1h-1zM63 40h1v1h-1zM0 41h1v1h-1zM10 41h1v1h-1zM15 41h1v1h-1zM18 41h1v1h-1zM22 41h1v1h-1zM25 41h1v1h-1zM26 41h1v1h-1zM27 41h1v1h-1zM38 41h1v1h-1zM41 41h1v1h-1zM56 41h1v1h-1zM57 41h1v1h-1zM58 41h1v1h-1zM4 42h1v1h-1zM12 42h1v1h-1zM13 42h1v1h-1zM15 42h1v1h-1zM18 42h1v1h-1zM20 42h1v1h-1zM29 42h1v1h-1zM30 42h1v1h-1zM31 42h1v1h-1zM32 42h1v1h-1zM41 42h1v1h-1zM44 42h1v1h-1zM47 42h1v1h-1zM52 42h1v1h-1zM3 43h1v1h-1zM6 43h1v1h-1zM15 43h1v1h-1zM20 43h1v1h-1zM35 43h1v1h-1zM43 43h1v1h-1zM51 43h1v1h-1zM57 43h1v1h-1zM2 44h1v1h-1zM12 44h1v1h-1zM22 44h1v1h-1zM26 44h1v1h-1zM27 44h1v1h-1zM35 44h1v1h-1zM42 44h1v1h-1zM44 44h1v1h-1zM50 44h1v1h-1zM57 44h1v1h-1zM60 44h1v1h-1zM1 45h1v1h-1zM6 45h1v1h-1zM7 45h1v1h-1zM8 45h1v1h-1zM9 45h1v1h-1zM12 45h1v1h-1zM16 45h1v1h-1zM35 45h1v1h-1zM41 45h1v1h-1zM45 45h1v1h-1zM53 45h1v1h-1zM54 45h1v1h-1zM57 45h1v1h-1zM61 45h1v1h-1zM17 46h1v1h-1zM28 46h1v1h-1zM30 46h1v1h-1zM31 46h1v1h-1zM35 46h1v1h-1zM38 46h1v1h-1zM46 46h1v1h-1zM50 46h1v1h-1zM62 46h1v1h-1zM4 47h1v1h-1zM11 47h1v1h-1zM15 47h1v1h-1zM19 47h1v1h-1zM27 47h1v1h-1zM33 47h1v1h-1zM40 47h1v1h-1zM41 47h1v1h-1zM42 47h1v1h-1zM45 47h1v1h-1zM51 47h1v1h-1zM56 47h1v1h-1zM58 47h1v1h-1zM1 48h1v1h-1zM5 48h1v1h-1zM15 48h1v1h-1zM18 48h1v1h-1zM32 48h1v1h-1zM37 48h1v1h-1zM47 48h1v1h-1zM52 48h1v1h-1zM59 48h1v1h-1zM2 49h1v1h-1zM15 49h1v1h-1zM21 49h1v1h-1zM31 49h1v1h-1zM37 49h1v1h-1zM40 49h1v1h-1zM43 49h1v1h-1zM47 49h1v1h-1zM61 49h1v1h-1zM62 49h1v1h-1zM63 49h1v1h-1zM7 50h1v1h-1zM8 50h1v1h-1zM9 50h1v1h-1zM10 50h1v1h-1zM13 50h1v1h-1zM22 50h1v1h-1zM30 50h1v1h-1zM40 50h1v1h-1zM44 50h1v1h-1zM47 50h1v1h-1zM50 50h1v1h-1zM55 50h1v1h-1zM2 51h1v1h-1zM3 51h1v1h-1zM4 51h1v1h-1zM14 51h1v1h-1zM19 51h1v1h-1zM23 51h1v1h-1zM26 51h1v1h-1zM32 51h1v1h-1zM38 51h1v1h-1zM40 51h1v1h-1zM45 51h1v1h-1zM50 51h1v1h-1zM54 51h1v1h-1zM20 52h1v1h-1zM25 52h1v1h-1zM33 52h1v1h-1zM37 52h1v1h-1zM43 52h1v1h-1zM53 52h1v1h-1zM56 52h1v1h-1zM10 53h1v1h-1zM15 53h1v1h-1zM16 53h1v1h-1zM17 53h1v1h-1zM22 53h1v1h-1zM23 53h1v1h-1zM24 53h1v1h-1zM34 53h1v1h-1zM36 53h1v1h-1zM42 53h1v1h-1zM45 53h1v1h-1zM55 53h1v1h-1zM61 53h1v1h-1zM0 54h1v1h-1zM11 54h1v1h-1zM23 54h1v1h-1zM29 54h1v1h-1zM44 54h1v1h-1zM60 54h1v1h-1zM2 55h1v1h-1zM6 55h1v1h-1zM12 55h1v1h-1zM20 55h1v1h-1zM26 55h1v1h-1zM29 55h1v1h-1zM36 55h1v1h-1zM37 55h1v1h-1zM38 55h1v1h-1zM39 55h1v1h-1zM43 55h1v1h-1zM47 55h1v1h-1zM59 55h1v1h-1zM2 56h1v1h-1zM5 56h1v1h-1zM9 56h1v1h-1zM10 56h1v1h-1zM13 56h1v1h-1zM25 56h1v1h-1zM26 56h1v1h-1zM29 56h1v1h-1zM33 56h1v1h-1zM47 56h1v1h-1zM51 56h1v1h-1zM56 56h1v1h-1zM62 56h1v1h-1zM2 57h1v1h-1zM4 57h1v1h-1zM16 57h1v1h-1zM19 57h1v1h-1zM20 57h1v1h-1zM21 57h1v1h-1zM24 57h1v1h-1zM26 57h1v1h-1zM29 57h1v1h-1zM33 57h1v1h-1zM35 57h1v1h-1zM40 57h1v1h-1zM47 57h1v1h-1zM49 57h1v1h-1zM51 57h1v1h-1zM57 57h1v1h-1zM63 57h1v1h-1zM0 58h1v1h-1zM7 58h1v1h-1zM8 58h1v1h-1zM13 58h1v1h-1zM17 58h1v1h-1zM23 58h1v1h-1zM26 58h1v1h-1zM33 58h1v1h-1zM38 58h1v1h-1zM41 58h1v1h-1zM47 58h1v1h-1zM49 58h1v1h-1zM51 58h1v1h-1zM53 58h1v1h-1zM55 58h1v1h-1zM58 58h1v1h-1zM1 59h1v1h-1zM12 59h1v1h-1zM22 59h1v1h-1zM37 59h1v1h-1zM39 59h1v1h-1zM42 59h1v1h-1zM51 59h1v1h-1zM56 59h1v1h-1zM7 60h1v1h-1zM16 60h1v1h-1zM32 60h1v1h-1zM36 60h1v1h-1zM48 60h1v1h-1zM57 60h1v1h-1zM61 60h1v1h-1zM3 61h1v1h-1zM8 61h1v1h-1zM16 61h1v1h-1zM19 61h1v1h-1zM26 61h1v1h-1zM32 61h1v1h-1zM41 61h1v1h-1zM44 61h1v1h-1zM48 61h1v1h-1zM58 61h1v1h-1zM61 61h1v1h-1zM3 62h1v1h-1zM6 62h1v1h-1zM9 62h1v1h-1zM18 62h1v1h-1zM28 62h1v1h-1zM29 62h1v1h-1zM30 62h1v1h-1zM32 62h1v1h-1zM38 62h1v1h-1zM41 62h1v1h-1zM45 62h1v1h-1zM48 62h1v1h-1zM51 62h1v1h-1zM61 62h1v1h-1zM3 63h1v1h-1zM13 63h1v1h-1zM20 63h1v1h-1zM22 63h1v1h-1zM23 63h1v1h-1zM36 63h1v1h-1zM39 63h1v1h-1zM46 63h1v1h-1zM59 63h1v1h-1zM61 63h1v1h-1z" fill="#fff"/></pattern><pattern id="hl" width="64" height="64" patternUnits="userSpaceOnUse"><rect width="64" height="64" fill="#000"/><path d="M0 0h1v1h-1zM5 0h1v1h-1zM6 0h1v1h-1zM7 0h1v1h-1zM8 0h1v1h-1zM9 0h1v1h-1zM11 0h1v1h-1zM13 0h1v1h-1zM19 0h1v1h-1zM24 0h1v1h-1zM26 0h1v1h-1zM28 0h1v1h-1zM30 0h1v1h-1zM31 0h1v1h-1zM34 0h1v1h-1zM36 0h1v1h-1zM38 0h1v1h-1zM39 0h1v1h-1zM41 0h1v1h-1zM42 0h1v1h-1zM44 0h1v1h-1zM47 0h1v1h-1zM49 0h1v1h-1zM51 0h1v1h-1zM52 0h1v1h-1zM53 0h1v1h-1zM56 0h1v1h-1zM59 0h1v1h-1zM62 0h1v1h-1zM0 1h1v1h-1zM1 1h1v1h-1zM2 1h1v1h-1zM3 1h1v1h-1zM4 1h1v1h-1zM9 1h1v1h-1zM11 1h1v1h-1zM13 1h1v1h-1zM15 1h1v1h-1zM16 1h1v1h-1zM17 1h1v1h-1zM18 1h1v1h-1zM23 1h1v1h-1zM29 1h1v1h-1zM32 1h1v1h-1zM35 1h1v1h-1zM37 1h1v1h-1zM42 1h1v1h-1zM45 1h1v1h-1zM46 1h1v1h-1zM54 1h1v1h-1zM56 1h1v1h-1zM60 1h1v1h-1zM62 1h1v1h-1zM4 2h1v1h-1zM6 2h1v1h-1zM9 2h1v1h-1zM10 2h1v1h-1zM11 2h1v1h-1zM13 2h1v1h-1zM21 2h1v1h-1zM22 2h1v1h-1zM25 2h1v1h-1zM26 2h1v1h-1zM28 2h1v1h-1zM30 2h1v1h-1zM32 2h1v1h-1zM34 2h1v1h-1zM39 2h1v1h-1zM41 2h1v1h-1zM42 2h1v1h-1zM43 2h1v1h-1zM45 2h1v1h-1zM47 2h1v1h-1zM48 2h1v1h-1zM49 2h1v1h-1zM50 2h1v1h-1zM51 2h1v1h-1zM53 2h1v1h-1zM55 2h1v1h-1zM58 2h1v1h-1zM60 2h1v1h-1zM0 3h1v1h-1zM2 3h1v1h-1zM3 3h1v1h-1zM13 3h1v1h-1zM16 3h1v1h-1zM17 3h1v1h-1zM18 3h1v1h-1zM19 3h1v1h-1zM21 3h1v1h-1zM23 3h1v1h-1zM25 3h1v1h-1zM26 3h1v1h-1zM28 3h1v1h-1zM32 3h1v1h-1zM34 3h1v1h-1zM36 3h1v1h-1zM38 3h1v1h-1zM40 3h1v1h-1zM51 3h1v1h-1zM53 3h1v1h-1zM56 3h1v1h-1zM57 3h1v1h-1zM62 3h1v1h-1zM2 4h1v1h-1zM5 4h1v1h-1zM6 4h1v1h-1zM7 4h1v1h-1zM8 4h1v1h-1zM10 4h1v1h-1zM14 4h1v1h-1zM20 4h1v1h-1zM23 4h1v1h-1zM25 4h1v1h-1zM28 4h1v1h-1zM33 4h1v1h-1zM34 4h1v1h-1zM37 4h1v1h-1zM41 4h1v1h-1zM42 4h1v1h-1zM43 4h1v1h-1zM44 4h1v1h-1zM45 4h1v1h-1zM46 4h1v1h-1zM47 4h1v1h-1zM48 4h1v1h-1zM49 4h1v1h-1zM52 4h1v1h-1zM56 4h1v1h-1zM59 4h1v1h-1zM60 4h1v1h-1zM61 4h1v1h-1zM62 4h1v1h-1zM2 5h1v1h-1zM3 5h1v1h-1zM4 5h1v1h-1zM10 5h1v1h-1zM14 5h1v1h-1zM17 5h1v1h-1zM18 5h1v1h-1zM21 5h1v1h-1zM23 5h1v1h-1zM28 5h1v1h-1zM30 5h1v1h-1zM32 5h1v1h-1zM35 5h1v1h-1zM37 5h1v1h-1zM38 5h1v1h-1zM50 5h1v1h-1zM54 5h1v1h-1zM55 5h1v1h-1zM58 5h1v1h-1zM60 5h1v1h-1zM63 5h1v1h-1zM0 6h1v1h-1zM1 6h1v1h-1zM5 6h1v1h-1zM6 6h1v1h-1zM7 6h1v1h-1zM10 6h1v1h-1zM11 6h1v1h-1zM12 6h1v1h-1zM14 6h1v1h-1zM18 6h1v1h-1zM22 6h1v1h-1zM25 6h1v1h-1zM26 6h1v1h-1zM29 6h1v1h-1zM31 6h1v1h-1zM39 6h1v1h-1zM41 6h1v1h-1zM44 6h1v1h-1zM45 6h1v1h-1zM46 6h1v1h-1zM48 6h1v1h-1zM51 6h1v1h-1zM52 6h1v1h-1zM53 6h1v1h-1zM55 6h1v1h-1zM57 6h1v1h-1zM60 6h1v1h-1zM62 6h1v1h-1zM12 7h1v1h-1zM14 7h1v1h-1zM15 7h1v1h-1zM17 7h1v1h-1zM18 7h1v1h-1zM20 7h1v1h-1zM23 7h1v1h-1zM25 7h1v1h-1zM27 7h1v1h-1zM30 7h1v1h-1zM33 7h1v1h-1zM34 7h1v1h-1zM36 7h1v1h-1zM37 7h1v1h-1zM40 7h1v1h-1zM43 7h1v1h-1zM46 7h1v1h-1zM48 7h1v1h-1zM50 7h1v1h-1zM51 7h1v1h-1zM58 7h1v1h-1zM0 8h1v1h-1zM2 8h1v1h-1zM4 8h1v1h-1zM5 8h1v1h-1zM6 8h1v1h-1zM8 8h1v1h-1zM11 8h1v1h-1zM17 8h1v1h-1zM20 8h1v1h-1zM23 8h1v1h-1zM25 8h1v1h-1zM28 8h1v1h-1zM30 8h1v1h-1zM33 8h1v1h-1zM36 8h1v1h-1zM39 8h1v1h-1zM42 8h1v1h-1zM44 8h1v1h-1zM45 8h1v1h-1zM47 8h1v1h-1zM48 8h1v1h-1zM54 8h1v1h-1zM56 8h1v1h-1zM58 8h1v1h-1zM60 8h1v1h-1zM61 8h1v1h-1zM62 8h1v1h-1zM63 8h1v1h-1zM2 9h1v1h-1zM3 9h1v1h-1zM7 9h1v1h-1zM9 9h1v1h-1zM12 9h1v1h-1zM13 9h1v1h-1zM14 9h1v1h-1zM15 9h1v1h-1zM19 9h1v1h-1zM23 9h1v1h-1zM26 9h1v1h-1zM28 9h1v1h-1zM29 9h1v1h-1zM32 9h1v1h-1zM35 9h1v1h-1zM37 9h1v1h-1zM38 9h1v1h-1zM41 9h1v1h-1zM44 9h1v1h-1zM49 9h1v1h-1zM51 9h1v1h-1zM54 9h1v1h-1zM56 9h1v1h-1zM58 9h1v1h-1zM61 9h1v1h-1zM1 10h1v1h-1zM4 10h1v1h-1zM8 10h1v1h-1zM9 10h1v1h-1zM15 10h1v1h-1zM17 10h1v1h-1zM18 10h1v1h-1zM19 10h1v1h-1zM20 10h1v1h-1zM21 10h1v1h-1zM24 10h1v1h-1zM27 10h1v1h-1zM28 10h1v1h-1zM30 10h1v1h-1zM34 10h1v1h-1zM36 10h1v1h-1zM42 10h1v1h-1zM43 10h1v1h-1zM47 10h1v1h-1zM49 10h1v1h-1zM51 10h1v1h-1zM56 10h1v1h-1zM62 10h1v1h-1zM63 10h1v1h-1zM3 11h1v1h-1zM5 11h1v1h-1zM6 11h1v1h-1zM7 11h1v1h-1zM10 11h1v1h-1zM12 11h1v1h-1zM14 11h1v1h-1zM16 11h1v1h-1zM22 11h1v1h-1zM25 11h1v1h-1zM30 11h1v1h-1zM33 11h1v1h-1zM34 11h1v1h-1zM39 11h1v1h-1zM40 11h1v1h-1zM42 11h1v1h-1zM45 11h1v1h-1zM46 11h1v1h-1zM47 11h1v1h-1zM49 11h1v1h-1zM51 11h1v1h-1zM52 11h1v1h-1zM55 11h1v1h-1zM58 11h1v1h-1zM60 11h1v1h-1zM0 12h1v1h-1zM3 12h1v1h-1zM11 12h1v1h-1zM12 12h1v1h-1zM14 12h1v1h-1zM18 12h1v1h-1zM23 12h1v1h-1zM26 12h1v1h-1zM28 12h1v1h-1zM31 12h1v1h-1zM35 12h1v1h-1zM36 12h1v1h-1zM39 12h1v1h-1zM42 12h1v1h-1zM44 12h1v1h-1zM45 12h1v1h-1zM52 12h1v1h-1zM53 12h1v1h-1zM54 12h1v1h-1zM55 12h1v1h-1zM56 12h1v1h-1zM58 12h1v1h-1zM59 12h1v1h-1zM60 12h1v1h-1zM62 12h1v1h-1zM1 13h1v1h-1zM5 13h1v1h-1zM6 13h1v1h-1zM7 13h1v1h-1zM9 13h1v1h-1zM10 13h1v1h-1zM14 13h1v1h-1zM17 13h1v1h-1zM19 13h1v1h-1zM20 13h1v1h-1zM21 13h1v1h-1zM22 13h1v1h-1zM24 13h1v1h-1zM27 13h1v1h-1zM29 13h1v1h-1zM32 13h1v1h-1zM35 13h1v1h-1zM38 13h1v1h-1zM40 13h1v1h-1zM42 13h1v1h-1zM47 13h1v1h-1zM49 13h1v1h-1zM50 13h1v1h-1zM51 13h1v1h-1zM52 13h1v1h-1zM59 13h1v1h-1zM1 14h1v1h-1zM3 14h1v1h-1zM4 14h1v1h-1zM9 14h1v1h-1zM11 14h1v1h-1zM14 14h1v1h-1zM18 14h1v1h-1zM21 14h1v1h-1zM26 14h1v1h-1zM30 14h1v1h-1zM32 14h1v1h-1zM33 14h1v1h-1zM37 14h1v1h-1zM40 14h1v1h-1zM42 14h1v1h-1zM44 14h1v1h-1zM46 14h1v1h-1zM54 14h1v1h-1zM56 14h1v1h-1zM57 14h1v1h-1zM59 14h1v1h-1zM61 14h1v1h-1zM62 14h1v1h-1zM63 14h1v1h-1zM1 15h1v1h-1zM5 15h1v1h-1zM8 15h1v1h-1zM10 15h1v1h-1zM12 15h1v1h-1zM13 15h1v1h-1zM15 15h1v1h-1zM16 15h1v1h-1zM18 15h1v1h-1zM19 15h1v1h-1zM23 15h1v1h-1zM25 15h1v1h-1zM28 15h1v1h-1zM34 15h1v1h-1zM35 15h1v1h-1zM37 15h1v1h-1zM39 15h1v1h-1zM42 15h1v1h-1zM45 15h1v1h-1zM46 15h1v1h-1zM51 15h1v1h-1zM53 15h1v1h-1zM55 15h1v1h-1zM59 15h1v1h-1zM62 15h1v1h-1zM2 16h1v1h-1zM4 16h1v1h-1zM7 16h1v1h-1zM10 16h1v1h-1zM15 16h1v1h-1zM16 16h1v1h-1zM21 16h1v1h-1zM22 16h1v1h-1zM25 16h1v1h-1zM27 16h1v1h-1zM28 16h1v1h-1zM30 16h1v1h-1zM31 16h1v1h-1zM35 16h1v1h-1zM37 16h1v1h-1zM39 16h1v1h-1zM42 16h1v1h-1zM43 16h1v1h-1zM44 16h1v1h-1zM47 16h1v1h-1zM49 16h1v1h-1zM50 16h1v1h-1zM51 16h1v1h-1zM52 16h1v1h-1zM53 16h1v1h-1zM57 16h1v1h-1zM59 16h1v1h-1zM61 16h1v1h-1zM63 16h1v1h-1zM2 17h1v1h-1zM5 17h1v1h-1zM7 17h1v1h-1zM10 17h1v1h-1zM11 17h1v1h-1zM12 17h1v1h-1zM13 17h1v1h-1zM14 17h1v1h-1zM17 17h1v1h-1zM19 17h1v1h-1zM21 17h1v1h-1zM24 17h1v1h-1zM27 17h1v1h-1zM31 17h1v1h-1zM36 17h1v1h-1zM39 17h1v1h-1zM40 17h1v1h-1zM42 17h1v1h-1zM47 17h1v1h-1zM57 17h1v1h-1zM60 17h1v1h-1zM63 17h1v1h-1zM1 18h1v1h-1zM4 18h1v1h-1zM5 18h1v1h-1zM7 18h1v1h-1zM9 18h1v1h-1zM14 18h1v1h-1zM18 18h1v1h-1zM24 18h1v1h-1zM26 18h1v1h-1zM28 18h1v1h-1zM31 18h1v1h-1zM32 18h1v1h-1zM33 18h1v1h-1zM34 18h1v1h-1zM44 18h1v1h-1zM46 18h1v1h-1zM49 18h1v1h-1zM51 18h1v1h-1zM53 18h1v1h-1zM55 18h1v1h-1zM57 18h1v1h-1zM61 18h1v1h-1zM63 18h1v1h-1zM0 19h1v1h-1zM1 19h1v1h-1zM3 19h1v1h-1zM6 19h1v1h-1zM9 19h1v1h-1zM11 19h1v1h-1zM14 19h1v1h-1zM16 19h1v1h-1zM20 19h1v1h-1zM21 19h1v1h-1zM22 19h1v1h-1zM24 19h1v1h-1zM28 19h1v1h-1zM29 19h1v1h-1zM31 19h1v1h-1zM35 19h1v1h-1zM36 19h1v1h-1zM38 19h1v1h-1zM41 19h1v1h-1zM42 19h1v1h-1zM43 19h1v1h-1zM47 19h1v1h-1zM49 19h1v1h-1zM51 19h1v1h-1zM54 19h1v1h-1zM55 19h1v1h-1zM57 19h1v1h-1zM58 19h1v1h-1zM59 19h1v1h-1zM62 19h1v1h-1zM63 19h1v1h-1zM3 20h1v1h-1zM4 20h1v1h-1zM7 20h1v1h-1zM10 20h1v1h-1zM13 20h1v1h-1zM14 20h1v1h-1zM24 20h1v1h-1zM32 20h1v1h-1zM34 20h1v1h-1zM36 20h1v1h-1zM38 20h1v1h-1zM39 20h1v1h-1zM42 20h1v1h-1zM44 20h1v1h-1zM46 20h1v1h-1zM48 20h1v1h-1zM49 20h1v1h-1zM51 20h1v1h-1zM54 20h1v1h-1zM55 20h1v1h-1zM60 20h1v1h-1zM0 21h1v1h-1zM2 21h1v1h-1zM9 21h1v1h-1zM11 21h1v1h-1zM14 21h1v1h-1zM16 21h1v1h-1zM17 21h1v1h-1zM18 21h1v1h-1zM19 21h1v1h-1zM20 21h1v1h-1zM21 21h1v1h-1zM22 21h1v1h-1zM25 21h1v1h-1zM26 21h1v1h-1zM27 21h1v1h-1zM28 21h1v1h-1zM29 21h1v1h-1zM31 21h1v1h-1zM33 21h1v1h-1zM34 21h1v1h-1zM36 21h1v1h-1zM41 21h1v1h-1zM42 21h1v1h-1zM43 21h1v1h-1zM44 21h1v1h-1zM46 21h1v1h-1zM49 21h1v1h-1zM51 21h1v1h-1zM52 21h1v1h-1zM56 21h1v1h-1zM58 21h1v1h-1zM59 21h1v1h-1zM60 21h1v1h-1zM62 21h1v1h-1zM63 21h1v1h-1zM2 22h1v1h-1zM3 22h1v1h-1zM5 22h1v1h-1zM7 22h1v1h-1zM9 22h1v1h-1zM13 22h1v1h-1zM15 22h1v1h-1zM21 22h1v1h-1zM23 22h1v1h-1zM25 22h1v1h-1zM30 22h1v1h-1zM36 22h1v1h-1zM38 22h1v1h-1zM39 22h1v1h-1zM44 22h1v1h-1zM46 22h1v1h-1zM47 22h1v1h-1zM50 22h1v1h-1zM53 22h1v1h-1zM56 22h1v1h-1zM58 22h1v1h-1zM62 22h1v1h-1zM0 23h1v1h-1zM1 23h1v1h-1zM5 23h1v1h-1zM8 23h1v1h-1zM9 23h1v1h-1zM10 23h1v1h-1zM13 23h1v1h-1zM16 23h1v1h-1zM18 23h1v1h-1zM19 23h1v1h-1zM21 23h1v1h-1zM26 23h1v1h-1zM27 23h1v1h-1zM28 23h1v1h-1zM29 23h1v1h-1zM32 23h1v1h-1zM34 23h1v1h-1zM37 23h1v1h-1zM39 23h1v1h-1zM40 23h1v1h-1zM41 23h1v1h-1zM44 23h1v1h-1zM49 23h1v1h-1zM50 23h1v1h-1zM52 23h1v1h-1zM53 23h1v1h-1zM54 23h1v1h-1zM57 23h1v1h-1zM60 23h1v1h-1zM63 23h1v1h-1zM3 24h1v1h-1zM5 24h1v1h-1zM10 24h1v1h-1zM12 24h1v1h-1zM14 24h1v1h-1zM16 24h1v1h-1zM19 24h1v1h-1zM21 24h1v1h-1zM23 24h1v1h-1zM24 24h1v1h-1zM30 24h1v1h-1zM31 24h1v1h-1zM33 24h1v1h-1zM34 24h1v1h-1zM36 24h1v1h-1zM37 24h1v1h-1zM41 24h1v1h-1zM44 24h1v1h-1zM46 24h1v1h-1zM48 24h1v1h-1zM54 24h1v1h-1zM55 24h1v1h-1zM57 24h1v1h-1zM58 24h1v1h-1zM59 24h1v1h-1zM60 24h1v1h-1zM62 24h1v1h-1zM0 25h1v1h-1zM1 25h1v1h-1zM2 25h1v1h-1zM5 25h1v1h-1zM7 25h1v1h-1zM10 25h1v1h-1zM12 25h1v1h-1zM14 25h1v1h-1zM16 25h1v1h-1zM17 25h1v1h-1zM24 25h1v1h-1zM27 25h1v1h-1zM29 25h1v1h-1zM31 25h1v1h-1zM34 25h1v1h-1zM38 25h1v1h-1zM39 25h1v1h-1zM41 25h1v1h-1zM42 25h1v1h-1zM43 25h1v1h-1zM44 25h1v1h-1zM45 25h1v1h-1zM48 25h1v1h-1zM51 25h1v1h-1zM52 25h1v1h-1zM55 25h1v1h-1zM60 25h1v1h-1zM62 25h1v1h-1zM7 26h1v1h-1zM10 26h1v1h-1zM12 26h1v1h-1zM14 26h1v1h-1zM15 26h1v1h-1zM18 26h1v1h-1zM19 26h1v1h-1zM21 26h1v1h-1zM22 26h1v1h-1zM25 26h1v1h-1zM27 26h1v1h-1zM29 26h1v1h-1zM35 26h1v1h-1zM36 26h1v1h-1zM40 26h1v1h-1zM45 26h1v1h-1zM47 26h1v1h-1zM50 26h1v1h-1zM53 26h1v1h-1zM55 26h1v1h-1zM57 26h1v1h-1zM58 26h1v1h-1zM61 26h1v1h-1zM62 26h1v1h-1zM1 27h1v1h-1zM2 27h1v1h-1zM4 27h1v1h-1zM6 27h1v1h-1zM7 27h1v1h-1zM10 27h1v1h-1zM12 27h1v1h-1zM16 27h1v1h-1zM18 27h1v1h-1zM19 27h1v1h-1zM21 27h1v1h-1zM22 27h1v1h-1zM26 27h1v1h-1zM27 27h1v1h-1zM31 27h1v1h-1zM32 27h1v1h-1zM33 27h1v1h-1zM38 27h1v1h-1zM39 27h1v1h-1zM42 27h1v1h-1zM43 27h1v1h-1zM45 27h1v1h-1zM46 27h1v1h-1zM48 27h1v1h-1zM49 27h1v1h-1zM51 27h1v1h-1zM55 27h1v1h-1zM57 27h1v1h-1zM59 27h1v1h-1zM62 27h1v1h-1zM0 28h1v1h-1zM2 28h1v1h-1zM4 28h1v1h-1zM6 28h1v1h-1zM9 28h1v1h-1zM12 28h1v1h-1zM14 28h1v1h-1zM15 28h1v1h-1zM19 28h1v1h-1zM24 28h1v1h-1zM27 28h1v1h-1zM28 28h1v1h-1zM29 28h1v1h-1zM32 28h1v1h-1zM34 28h1v1h-1zM37 28h1v1h-1zM43 28h1v1h-1zM52 28h1v1h-1zM54 28h1v1h-1zM56 28h1v1h-1zM58 28h1v1h-1zM60 28h1v1h-1zM63 28h1v1h-1zM2 29h1v1h-1zM9 29h1v1h-1zM11 29h1v1h-1zM17 29h1v1h-1zM20 29h1v1h-1zM22 29h1v1h-1zM23 29h1v1h-1zM27 29h1v1h-1zM32 29h1v1h-1zM35 29h1v1h-1zM36 29h1v1h-1zM37 29h1v1h-1zM38 29h1v1h-1zM40 29h1v1h-1zM42 29h1v1h-1zM44 29h1v1h-1zM45 29h1v1h-1zM46 29h1v1h-1zM48 29h1v1h-1zM49 29h1v1h-1zM50 29h1v1h-1zM51 29h1v1h-1zM52 29h1v1h-1zM53 29h1v1h-1zM60 29h1v1h-1zM61 29h1v1h-1zM62 29h1v1h-1zM0 30h1v1h-1zM1 30h1v1h-1zM6 30h1v1h-1zM7 30h1v1h-1zM9 30h1v1h-1zM12 30h1v1h-1zM13 30h1v1h-1zM14 30h1v1h-1zM15 30h1v1h-1zM17 30h1v1h-1zM18 30h1v1h-1zM22 30h1v1h-1zM24 30h1v1h-1zM26 30h1v1h-1zM27 30h1v1h-1zM29 30h1v1h-1zM30 30h1v1h-1zM31 30h1v1h-1zM32 30h1v1h-1zM33 30h1v1h-1zM41 30h1v1h-1zM47 30h1v1h-1zM55 30h1v1h-1zM56 30h1v1h-1zM57 30h1v1h-1zM59 30h1v1h-1zM63 30h1v1h-1zM3 31h1v1h-1zM4 31h1v1h-1zM10 31h1v1h-1zM16 31h1v1h-1zM22 31h1v1h-1zM24 31h1v1h-1zM28 31h1v1h-1zM32 31h1v1h-1zM35 31h1v1h-1zM37 31h1v1h-1zM38 31h1v1h-1zM39 31h1v1h-1zM41 31h1v1h-1zM44 31h1v1h-1zM47 31h1v1h-1zM51 31h1v1h-1zM53 31h1v1h-1zM54 31h1v1h-1zM55 31h1v1h-1zM57 31h1v1h-1zM59 31h1v1h-1zM61 31h1v1h-1zM62 31h1v1h-1zM0 32h1v1h-1zM2 32h1v1h-1zM4 32h1v1h-1zM6 32h1v1h-1zM7 32h1v1h-1zM8 32h1v1h-1zM10 32h1v1h-1zM12 32h1v1h-1zM13 32h1v1h-1zM14 32h1v1h-1zM15 32h1v1h-1zM17 32h1v1h-1zM18 32h1v1h-1zM19 32h1v1h-1zM20 32h1v1h-1zM21 32h1v1h-1zM24 32h1v1h-1zM25 32h1v1h-1zM27 32h1v1h-1zM30 32h1v1h-1zM32 32h1v1h-1zM34 32h1v1h-1zM37 32h1v1h-1zM40 32h1v1h-1zM42 32h1v1h-1zM44 32h1v1h-1zM46 32h1v1h-1zM47 32h1v1h-1zM49 32h1v1h-1zM51 32h1v1h-1zM59 32h1v1h-1zM61 32h1v1h-1zM0 33h1v1h-1zM2 33h1v1h-1zM4 33h1v1h-1zM5 33h1v1h-1zM7 33h1v1h-1zM10 33h1v1h-1zM13 33h1v1h-1zM15 33h1v1h-1zM22 33h1v1h-1zM26 33h1v1h-1zM30 33h1v1h-1zM32 33h1v1h-1zM34 33h1v1h-1zM35 33h1v1h-1zM38 33h1v1h-1zM42 33h1v1h-1zM45 33h1v1h-1zM48 33h1v1h-1zM53 33h1v1h-1zM54 33h1v1h-1zM55 33h1v1h-1zM56 33h1v1h-1zM57 33h1v1h-1zM63 33h1v1h-1zM1 34h1v1h-1zM6 34h1v1h-1zM8 34h1v1h-1zM11 34h1v1h-1zM13 34h1v1h-1zM16 34h1v1h-1zM19 34h1v1h-1zM21 34h1v1h-1zM25 34h1v1h-1zM26 34h1v1h-1zM27 34h1v1h-1zM28 34h1v1h-1zM30 34h1v1h-1zM38 34h1v1h-1zM39 34h1v1h-1zM40 34h1v1h-1zM42 34h1v1h-1zM44 34h1v1h-1zM47 34h1v1h-1zM50 34h1v1h-1zM51 34h1v1h-1zM59 34h1v1h-1zM61 34h1v1h-1zM63 34h1v1h-1zM1 35h1v1h-1zM3 35h1v1h-1zM5 35h1v1h-1zM10 35h1v1h-1zM11 35h1v1h-1zM17 35h1v1h-1zM18 35h1v1h-1zM19 35h1v1h-1zM23 35h1v1h-1zM30 35h1v1h-1zM32 35h1v1h-1zM33 35h1v1h-1zM34 35h1v1h-1zM38 35h1v1h-1zM42 35h1v1h-1zM43 35h1v1h-1zM47 35h1v1h-1zM48 35h1v1h-1zM50 35h1v1h-1zM53 35h1v1h-1zM56 35h1v1h-1zM57 35h1v1h-1zM59 35h1v1h-1zM61 35h1v1h-1zM0 36h1v1h-1zM3 36h1v1h-1zM5 36h1v1h-1zM7 36h1v1h-1zM8 36h1v1h-1zM9 36h1v1h-1zM11 36h1v1h-1zM13 36h1v1h-1zM14 36h1v1h-1zM15 36h1v1h-1zM16 36h1v1h-1zM21 36h1v1h-1zM22 36h1v1h-1zM24 36h1v1h-1zM32 36h1v1h-1zM34 36h1v1h-1zM37 36h1v1h-1zM39 36h1v1h-1zM40 36h1v1h-1zM43 36h1v1h-1zM45 36h1v1h-1zM46 36h1v1h-1zM50 36h1v1h-1zM53 36h1v1h-1zM54 36h1v1h-1zM56 36h1v1h-1zM59 36h1v1h-1zM61 36h1v1h-1zM0 37h1v1h-1zM1 37h1v1h-1zM4 37h1v1h-1zM8 37h1v1h-1zM18 37h1v1h-1zM19 37h1v1h-1zM21 37h1v1h-1zM26 37h1v1h-1zM27 37h1v1h-1zM28 37h1v1h-1zM34 37h1v1h-1zM36 37h1v1h-1zM37 37h1v1h-1zM40 37h1v1h-1zM41 37h1v1h-1zM44 37h1v1h-1zM48 37h1v1h-1zM51 37h1v1h-1zM53 37h1v1h-1zM56 37h1v1h-1zM59 37h1v1h-1zM61 37h1v1h-1zM63 37h1v1h-1zM3 38h1v1h-1zM4 38h1v1h-1zM6 38h1v1h-1zM7 38h1v1h-1zM9 38h1v1h-1zM10 38h1v1h-1zM11 38h1v1h-1zM12 38h1v1h-1zM14 38h1v1h-1zM16 38h1v1h-1zM20 38h1v1h-1zM21 38h1v1h-1zM24 38h1v1h-1zM26 38h1v1h-1zM30 38h1v1h-1zM31 38h1v1h-1zM32 38h1v1h-1zM42 38h1v1h-1zM44 38h1v1h-1zM45 38h1v1h-1zM49 38h1v1h-1zM51 38h1v1h-1zM53 38h1v1h-1zM56 38h1v1h-1zM58 38h1v1h-1zM61 38h1v1h-1zM62 38h1v1h-1zM0 39h1v1h-1zM2 39h1v1h-1zM6 39h1v1h-1zM12 39h1v1h-1zM14 39h1v1h-1zM15 39h1v1h-1zM18 39h1v1h-1zM19 39h1v1h-1zM23 39h1v1h-1zM27 39h1v1h-1zM34 39h1v1h-1zM35 39h1v1h-1zM37 39h1v1h-1zM38 39h1v1h-1zM39 39h1v1h-1zM40 39h1v1h-1zM44 39h1v1h-1zM46 39h1v1h-1zM48 39h1v1h-1zM51 39h1v1h-1zM55 39h1v1h-1zM56 39h1v1h-1zM58 39h1v1h-1zM59 39h1v1h-1zM0 40h1v1h-1zM3 40h1v1h-1zM5 40h1v1h-1zM15 40h1v1h-1zM16 40h1v1h-1zM17 40h1v1h-1zM22 40h1v1h-1zM26 40h1v1h-1zM28 40h1v1h-1zM29 40h1v1h-1zM30 40h1v1h-1zM32 40h1v1h-1zM33 40h1v1h-1zM37 40h1v1h-1zM41 40h1v1h-1zM42 40h1v1h-1zM43 40h1v1h-1zM44 40h1v1h-1zM48 40h1v1h-1zM50 40h1v1h-1zM53 40h1v1h-1zM60 40h1v1h-1zM62 40h1v1h-1zM0 41h1v1h-1zM7 41h1v1h-1zM8 41h1v1h-1zM9 41h1v1h-1zM10 41h1v1h-1zM12 41h1v1h-1zM13 41h1v1h-1zM14 41h1v1h-1zM18 41h1v1h-1zM20 41h1v1h-1zM21 41h1v1h-1zM22 41h1v1h-1zM28 41h1v1h-1zM30 41h1v1h-1zM33 41h1v1h-1zM45 41h1v1h-1zM46 41h1v1h-1zM47 41h1v1h-1zM48 41h1v1h-1zM49 41h1v1h-1zM53 41h1v1h-1zM55 41h1v1h-1zM56 41h1v1h-1zM57 41h1v1h-1zM61 41h1v1h-1zM62 41h1v1h-1zM1 42h1v1h-1zM4 42h1v1h-1zM6 42h1v1h-1zM7 42h1v1h-1zM12 42h1v1h-1zM16 42h1v1h-1zM17 42h1v1h-1zM18 42h1v1h-1zM23 42h1v1h-1zM24 42h1v1h-1zM27 42h1v1h-1zM30 42h1v1h-1zM34 42h1v1h-1zM35 42h1v1h-1zM37 42h1v1h-1zM38 42h1v1h-1zM39 42h1v1h-1zM40 42h1v1h-1zM41 42h1v1h-1zM42 42h1v1h-1zM47 42h1v1h-1zM49 42h1v1h-1zM50 42h1v1h-1zM51 42h1v1h-1zM53 42h1v1h-1zM57 42h1v1h-1zM59 42h1v1h-1zM62 42h1v1h-1zM2 43h1v1h-1zM3 43h1v1h-1zM4 43h1v1h-1zM6 43h1v1h-1zM8 43h1v1h-1zM9 43h1v1h-1zM10 43h1v1h-1zM11 43h1v1h-1zM13 43h1v1h-1zM18 43h1v1h-1zM19 43h1v1h-1zM23 43h1v1h-1zM26 43h1v1h-1zM28 43h1v1h-1zM31 43h1v1h-1zM32 43h1v1h-1zM34 43h1v1h-1zM36 43h1v1h-1zM37 43h1v1h-1zM42 43h1v1h-1zM43 43h1v1h-1zM44 43h1v1h-1zM45 43h1v1h-1zM47 43h1v1h-1zM49 43h1v1h-1zM51 43h1v1h-1zM53 43h1v1h-1zM54 43h1v1h-1zM57 43h1v1h-1zM60 43h1v1h-1zM62 43h1v1h-1zM0 44h1v1h-1zM10 44h1v1h-1zM14 44h1v1h-1zM21 44h1v1h-1zM24 44h1v1h-1zM25 44h1v1h-1zM26 44h1v1h-1zM28 44h1v1h-1zM38 44h1v1h-1zM40 44h1v1h-1zM41 44h1v1h-1zM45 44h1v1h-1zM47 44h1v1h-1zM55 44h1v1h-1zM57 44h1v1h-1zM60 44h1v1h-1zM62 44h1v1h-1zM0 45h1v1h-1zM2 45h1v1h-1zM5 45h1v1h-1zM6 45h1v1h-1zM7 45h1v1h-1zM9 45h1v1h-1zM10 45h1v1h-1zM17 45h1v1h-1zM18 45h1v1h-1zM19 45h1v1h-1zM22 45h1v1h-1zM23 45h1v1h-1zM27 45h1v1h-1zM30 45h1v1h-1zM31 45h1v1h-1zM32 45h1v1h-1zM34 45h1v1h-1zM35 45h1v1h-1zM38 45h1v1h-1zM40 45h1v1h-1zM43 45h1v1h-1zM44 45h1v1h-1zM47 45h1v1h-1zM49 45h1v1h-1zM50 45h1v1h-1zM51 45h1v1h-1zM56 45h1v1h-1zM58 45h1v1h-1zM60 45h1v1h-1zM0 46h1v1h-1zM4 46h1v1h-1zM7 46h1v1h-1zM12 46h1v1h-1zM13 46h1v1h-1zM15 46h1v1h-1zM17 46h1v1h-1zM19 46h1v1h-1zM24 46h1v1h-1zM28 46h1v1h-1zM31 46h1v1h-1zM33 46h1v1h-1zM36 46h1v1h-1zM39 46h1v1h-1zM43 46h1v1h-1zM46 46h1v1h-1zM49 46h1v1h-1zM51 46h1v1h-1zM54 46h1v1h-1zM57 46h1v1h-1zM61 46h1v1h-1zM0 47h1v1h-1zM2 47h1v1h-1zM4 47h1v1h-1zM6 47h1v1h-1zM8 47h1v1h-1zM9 47h1v1h-1zM11 47h1v1h-1zM12 47h1v1h-1zM15 47h1v1h-1zM18 47h1v1h-1zM20 47h1v1h-1zM23 47h1v1h-1zM26 47h1v1h-1zM28 47h1v1h-1zM32 47h1v1h-1zM35 47h1v1h-1zM37 47h1v1h-1zM39 47h1v1h-1zM41 47h1v1h-1zM42 47h1v1h-1zM45 47h1v1h-1zM49 47h1v1h-1zM52 47h1v1h-1zM54 47h1v1h-1zM59 47h1v1h-1zM61 47h1v1h-1zM63 47h1v1h-1zM1 48h1v1h-1zM3 48h1v1h-1zM5 48h1v1h-1zM9 48h1v1h-1zM13 48h1v1h-1zM17 48h1v1h-1zM21 48h1v1h-1zM24 48h1v1h-1zM26 48h1v1h-1zM28 48h1v1h-1zM29 48h1v1h-1zM33 48h1v1h-1zM37 48h1v1h-1zM39 48h1v1h-1zM42 48h1v1h-1zM45 48h1v1h-1zM46 48h1v1h-1zM47 48h1v1h-1zM49 48h1v1h-1zM50 48h1v1h-1zM53 48h1v1h-1zM56 48h1v1h-1zM58 48h1v1h-1zM61 48h1v1h-1zM63 48h1v1h-1zM3 49h1v1h-1zM7 49h1v1h-1zM9 49h1v1h-1zM10 49h1v1h-1zM12 49h1v1h-1zM16 49h1v1h-1zM19 49h1v1h-1zM25 49h1v1h-1zM27 49h1v1h-1zM31 49h1v1h-1zM35 49h1v1h-1zM36 49h1v1h-1zM39 49h1v1h-1zM41 49h1v1h-1zM51 49h1v1h-1zM53 49h1v1h-1zM54 49h1v1h-1zM56 49h1v1h-1zM58 49h1v1h-1zM61 49h1v1h-1zM63 49h1v1h-1zM0 50h1v1h-1zM2 50h1v1h-1zM8 50h1v1h-1zM11 50h1v1h-1zM14 50h1v1h-1zM16 50h1v1h-1zM18 50h1v1h-1zM19 50h1v1h-1zM21 50h1v1h-1zM22 50h1v1h-1zM24 50h1v1h-1zM26 50h1v1h-1zM27 50h1v1h-1zM30 50h1v1h-1zM33 50h1v1h-1zM36 50h1v1h-1zM38 50h1v1h-1zM40 50h1v1h-1zM41 50h1v1h-1zM42 50h1v1h-1zM43 50h1v1h-1zM46 50h1v1h-1zM47 50h1v1h-1zM49 50h1v1h-1zM50 50h1v1h-1zM51 50h1v1h-1zM55 50h1v1h-1zM56 50h1v1h-1zM58 50h1v1h-1zM60 50h1v1h-1zM63 50h1v1h-1zM2 51h1v1h-1zM4 51h1v1h-1zM5 51h1v1h-1zM6 51h1v1h-1zM7 51h1v1h-1zM9 51h1v1h-1zM11 51h1v1h-1zM13 51h1v1h-1zM16 51h1v1h-1zM18 51h1v1h-1zM21 51h1v1h-1zM24 51h1v1h-1zM29 51h1v1h-1zM32 51h1v1h-1zM34 51h1v1h-1zM37 51h1v1h-1zM42 51h1v1h-1zM46 51h1v1h-1zM49 51h1v1h-1zM54 51h1v1h-1zM60 51h1v1h-1zM62 51h1v1h-1zM2 52h1v1h-1zM10 52h1v1h-1zM13 52h1v1h-1zM14 52h1v1h-1zM16 52h1v1h-1zM18 52h1v1h-1zM24 52h1v1h-1zM26 52h1v1h-1zM27 52h1v1h-1zM30 52h1v1h-1zM31 52h1v1h-1zM36 52h1v1h-1zM40 52h1v1h-1zM44 52h1v1h-1zM45 52h1v1h-1zM47 52h1v1h-1zM50 52h1v1h-1zM51 52h1v1h-1zM52 52h1v1h-1zM53 52h1v1h-1zM56 52h1v1h-1zM57 52h1v1h-1zM58 52h1v1h-1zM59 52h1v1h-1zM61 52h1v1h-1zM62 52h1v1h-1zM63 52h1v1h-1zM1 53h1v1h-1zM3 53h1v1h-1zM8 53h1v1h-1zM11 53h1v1h-1zM13 53h1v1h-1zM16 53h1v1h-1zM19 53h1v1h-1zM22 53h1v1h-1zM25 53h1v1h-1zM28 53h1v1h-1zM29 53h1v1h-1zM33 53h1v1h-1zM36 53h1v1h-1zM38 53h1v1h-1zM40 53h1v1h-1zM44 53h1v1h-1zM47 53h1v1h-1zM48 53h1v1h-1zM54 53h1v1h-1zM60 53h1v1h-1zM0 54h1v1h-1zM3 54h1v1h-1zM5 54h1v1h-1zM6 54h1v1h-1zM7 54h1v1h-1zM8 54h1v1h-1zM12 54h1v1h-1zM16 54h1v1h-1zM20 54h1v1h-1zM22 54h1v1h-1zM25 54h1v1h-1zM27 54h1v1h-1zM30 54h1v1h-1zM31 54h1v1h-1zM32 54h1v1h-1zM33 54h1v1h-1zM35 54h1v1h-1zM38 54h1v1h-1zM41 54h1v1h-1zM44 54h1v1h-1zM46 54h1v1h-1zM54 54h1v1h-1zM58 54h1v1h-1zM61 54h1v1h-1zM62 54h1v1h-1zM3 55h1v1h-1zM9 55h1v1h-1zM11 55h1v1h-1zM13 55h1v1h-1zM14 55h1v1h-1zM17 55h1v1h-1zM18 55h1v1h-1zM19 55h1v1h-1zM22 55h1v1h-1zM25 55h1v1h-1zM36 55h1v1h-1zM38 55h1v1h-1zM41 55h1v1h-1zM42 55h1v1h-1zM44 55h1v1h-1zM47 55h1v1h-1zM49 55h1v1h-1zM51 55h1v1h-1zM52 55h1v1h-1zM53 55h1v1h-1zM55 55h1v1h-1zM56 55h1v1h-1zM57 55h1v1h-1zM58 55h1v1h-1zM59 55h1v1h-1zM60 55h1v1h-1zM62 55h1v1h-1zM0 56h1v1h-1zM4 56h1v1h-1zM8 56h1v1h-1zM12 56h1v1h-1zM15 56h1v1h-1zM17 56h1v1h-1zM19 56h1v1h-1zM23 56h1v1h-1zM24 56h1v1h-1zM27 56h1v1h-1zM29 56h1v1h-1zM30 56h1v1h-1zM31 56h1v1h-1zM32 56h1v1h-1zM33 56h1v1h-1zM34 56h1v1h-1zM36 56h1v1h-1zM38 56h1v1h-1zM40 56h1v1h-1zM42 56h1v1h-1zM44 56h1v1h-1zM47 56h1v1h-1zM49 56h1v1h-1zM50 56h1v1h-1zM56 56h1v1h-1zM62 56h1v1h-1zM1 57h1v1h-1zM4 57h1v1h-1zM6 57h1v1h-1zM7 57h1v1h-1zM9 57h1v1h-1zM11 57h1v1h-1zM16 57h1v1h-1zM21 57h1v1h-1zM25 57h1v1h-1zM26 57h1v1h-1zM27 57h1v1h-1zM30 57h1v1h-1zM34 57h1v1h-1zM36 57h1v1h-1zM38 57h1v1h-1zM40 57h1v1h-1zM42 57h1v1h-1zM44 57h1v1h-1zM49 57h1v1h-1zM53 57h1v1h-1zM55 57h1v1h-1zM57 57h1v1h-1zM59 57h1v1h-1zM61 57h1v1h-1zM62 57h1v1h-1zM4 58h1v1h-1zM8 58h1v1h-1zM9 58h1v1h-1zM11 58h1v1h-1zM12 58h1v1h-1zM15 58h1v1h-1zM18 58h1v1h-1zM20 58h1v1h-1zM22 58h1v1h-1zM28 58h1v1h-1zM29 58h1v1h-1zM32 58h1v1h-1zM36 58h1v1h-1zM38 58h1v1h-1zM40 58h1v1h-1zM43 58h1v1h-1zM45 58h1v1h-1zM46 58h1v1h-1zM48 58h1v1h-1zM49 58h1v1h-1zM50 58h1v1h-1zM57 58h1v1h-1zM59 58h1v1h-1zM62 58h1v1h-1zM63 58h1v1h-1zM1 59h1v1h-1zM2 59h1v1h-1zM14 59h1v1h-1zM15 59h1v1h-1zM18 59h1v1h-1zM22 59h1v1h-1zM23 59h1v1h-1zM24 59h1v1h-1zM26 59h1v1h-1zM32 59h1v1h-1zM33 59h1v1h-1zM34 59h1v1h-1zM35 59h1v1h-1zM36 59h1v1h-1zM39 59h1v1h-1zM41 59h1v1h-1zM44 59h1v1h-1zM46 59h1v1h-1zM52 59h1v1h-1zM53 59h1v1h-1zM54 59h1v1h-1zM62 59h1v1h-1zM0 60h1v1h-1zM4 60h1v1h-1zM5 60h1v1h-1zM6 60h1v1h-1zM7 60h1v1h-1zM9 60h1v1h-1zM10 60h1v1h-1zM12 60h1v1h-1zM15 60h1v1h-1zM17 60h1v1h-1zM20 60h1v1h-1zM21 60h1v1h-1zM24 60h1v1h-1zM27 60h1v1h-1zM31 60h1v1h-1zM37 60h1v1h-1zM39 60h1v1h-1zM41 60h1v1h-1zM43 60h1v1h-1zM44 60h1v1h-1zM46 60h1v1h-1zM49 60h1v1h-1zM50 60h1v1h-1zM55 60h1v1h-1zM56 60h1v1h-1zM57 60h1v1h-1zM58 60h1v1h-1zM59 60h1v1h-1zM61 60h1v1h-1zM2 61h1v1h-1zM3 61h1v1h-1zM7 61h1v1h-1zM9 61h1v1h-1zM10 61h1v1h-1zM12 61h1v1h-1zM14 61h1v1h-1zM16 61h1v1h-1zM19 61h1v1h-1zM21 61h1v1h-1zM24 61h1v1h-1zM26 61h1v1h-1zM27 61h1v1h-1zM29 61h1v1h-1zM32 61h1v1h-1zM33 61h1v1h-1zM34 61h1v1h-1zM35 61h1v1h-1zM36 61h1v1h-1zM37 61h1v1h-1zM39 61h1v1h-1zM41 61h1v1h-1zM45 61h1v1h-1zM47 61h1v1h-1zM48 61h1v1h-1zM51 61h1v1h-1zM55 61h1v1h-1zM60 61h1v1h-1zM0 62h1v1h-1zM1 62h1v1h-1zM4 62h1v1h-1zM5 62h1v1h-1zM7 62h1v1h-1zM11 62h1v1h-1zM14 62h1v1h-1zM18 62h1v1h-1zM22 62h1v1h-1zM23 62h1v1h-1zM24 62h1v1h-1zM28 62h1v1h-1zM29 62h1v1h-1zM34 62h1v1h-1zM40 62h1v1h-1zM43 62h1v1h-1zM50 62h1v1h-1zM52 62h1v1h-1zM53 62h1v1h-1zM57 62h1v1h-1zM59 62h1v1h-1zM60 62h1v1h-1zM62 62h1v1h-1zM63 62h1v1h-1zM2 63h1v1h-1zM3 63h1v1h-1zM9 63h1v1h-1zM13 63h1v1h-1zM16 63h1v1h-1zM17 63h1v1h-1zM20 63h1v1h-1zM21 63h1v1h-1zM22 63h1v1h-1zM26 63h1v1h-1zM27 63h1v1h-1zM30 63h1v1h-1zM33 63h1v1h-1zM34 63h1v1h-1zM35 63h1v1h-1zM36 63h1v1h-1zM43 63h1v1h-1zM45 63h1v1h-1zM46 63h1v1h-1zM47 63h1v1h-1zM50 63h1v1h-1zM54 63h1v1h-1zM55 63h1v1h-1zM57 63h1v1h-1zM58 63h1v1h-1zM62 63h1v1h-1z" fill="#a8a8a8"/></pattern></defs>
<rect width="934" height="627" fill="#000"/>
<rect x="116" y="84" width="1" height="1" fill="#ff0000"/>
<rect x="121" y="84" width="41" height="1" fill="#ff0000"/>
<rect x="165" y="84" width="1" height="1" fill="#ff0000"/>
<rect x="170" y="84" width="41" height="1" fill="#ff0000"/>
<rect x="215" y="84" width="1" height="1" fill="#ff0000"/>
<rect x="220" y="84" width="41" height="1" fill="#ff0000"/>
<rect x="264" y="84" width="1" height="1" fill="#ff0000"/>
<rect x="269" y="84" width="41" height="1" fill="#ff0000"/>
<rect x="314" y="84" width="1" height="1" fill="#ff0000"/>
<rect x="319" y="84" width="41" height="1" fill="#ff0000"/>
<rect x="363" y="84" width="1" height="1" fill="#ff0000"/>
<rect x="368" y="84" width="41" height="1" fill="#ff0000"/>
<rect x="413" y="84" width="1" height="1" fill="#ff0000"/>
<rect x="418" y="84" width="41" height="1" fill="#ff0000"/>
<rect x="462" y="84" width="1" height="1" fill="#ff0000"/>
<rect x="467" y="84" width="41" height="1" fill="#ff0000"/>
<rect x="512" y="84" width="1" height="1" fill="#ff0000"/>
<rect x="517" y="84" width="41" height="1" fill="#ff0000"/>
<rect x="561" y="84" width="1" height="1" fill="#ff0000"/>
<rect x="566" y="84" width="41" height="1" fill="#ff0000"/>
<rect x="611" y="84" width="1" height="1" fill="#ff0000"/>
<rect x="616" y="84" width="41" height="1" fill="#ff0000"/>
<rect x="660" y="84" width="1" height="1" fill="#ff0000"/>
<rect x="665" y="84" width="41" height="1" fill="#ff0000"/>
<rect x="116" y="184" width="1" height="1" fill="#ff0000"/>
<rect x="121" y="184" width="41" height="1" fill="#ff0000"/>
<rect x="165" y="184" width="1" height="1" fill="#ff0000"/>
<rect x="170" y="184" width="41" height="1" fill="#ff0000"/>
<rect x="215" y="184" width="1" height="1" fill="#ff0000"/>
<rect x="220" y="184" width="41" height="1" fill="#ff0000"/>
<rect x="264" y="184" width="1" height="1" fill="#ff0000"/>
<rect x="269" y="184" width="41" height="1" fill="#ff0000"/>
<rect x="314" y="184" width="1" height="1" fill="#ff0000"/>
<rect x="319" y="184" width="41" height="1" fill="#ff0000"/>
<rect x="363" y="184" width="1" height="1" fill="#ff0000"/>
<rect x="368" y="184" width="41" height="1" fill="#ff0000"/>
<rect x="413" y="184" width="1" height="1" fill="#ff0000"/>
<rect x="418" y="184" width="41" height="1" fill="#ff0000"/>
<rect x="462" y="184" width="1" height="1" fill="#ff0000"/>
<rect x="467" y="184" width="41" height="1" fill="#ff0000"/>
<rect x="512" y="184" width="1" height="1" fill="#ff0000"/>
<rect x="517" y="184" width="41" height="1" fill="#ff0000"/>
<rect x="561" y="184" width="1" height="1" fill="#ff0000"/>
<rect x="566" y="184" width="41" height="1" fill="#ff0000"/>
<rect x="611" y="184" width="1" height="1" fill="#ff0000"/>
<rect x="616" y="184" width="41" height="1" fill="#ff0000"/>
<rect x="660" y="184" width="1" height="1" fill="#ff0000"/>
<rect x="665" y="184" width="41" height="1" fill="#ff0000"/>
<rect x="116" y="284" width="1" height="1" fill="#ff0000"/>
<rect x="121" y="284" width="41" height="1" fill="#ff0000"/>
<rect x="165" y="284" width="1" height="1" fill="#ff0000"/>
<rect x="170" y="284" width="41" height="1" fill="#ff0000"/>
<rect x="215" y="284" width="1" height="1" fill="#ff0000"/>
<rect x="220" y="284" width="41" height="1" fill="#ff0000"/>
<rect x="264" y="284" width="1" height="1" fill="#ff0000"/>
<rect x="269" y="284" width="41" height="1" fill="#ff0000"/>
<rect x="314" y="284" width="1" height="1" fill="#ff0000"/>
<rect x="319" y="284" width="41" height="1" fill="#ff0000"/>
<rect x="363" y="284" width="1" height="1" fill="#ff0000"/>
<rect x="368" y="284" width="41" height="1" fill="#ff0000"/>
<rect x="413" y="284" width="1" height="1" fill="#ff0000"/>
<rect x="418" y="284" width="41" height="1" fill="#ff0000"/>
<rect x="462" y="284" width="1" height="1" fill="#ff0000"/>
<rect x="467" y="284" width="41" height="1" fill="#ff0000"/>
<rect x="512" y="284" width="1" height="1" fill="#ff0000"/>
<rect x="517" y="284" width="41" height="1" fill="#ff0000"/>
<rect x="561" y="284" width="1" height="1" fill="#ff0000"/>
<rect x="566" y="284" width="41" height="1" fill="#ff0000"/>
<rect x="611" y="284" width="1" height="1" fill="#ff0000"/>
<rect x="616" y="284" width="41" height="1" fill="#ff0000"/>
<rect x="660" y="284" width="1" height="1" fill="#ff0000"/>
<rect x="665" y="284" width="41" height="1" fill="#ff0000"/>
<rect x="116" y="385" width="1" height="1" fill="#ff0000"/>
<rect x="121" y="385" width="41" height="1" fill="#ff0000"/>
<rect x="165" y="385" width="1" height="1" fill="#ff0000"/>
<rect x="170" y="385" width="41" height="1" fill="#ff0000"/>
<rect x="215" y="385" width="1" height="1" fill="#ff0000"/>
<rect x="220" y="385" width="41" height="1" fill="#ff0000"/>
<rect x="264" y="385" width="1" height="1" fill="#ff0000"/>
<rect x="269" y="385" width="41" height="1" fill="#ff0000"/>
<rect x="314" y="385" width="1" height="1" fill="#ff0000"/>
<rect x="319" y="385" width="41" height="1" fill="#ff0000"/>
<rect x="363" y="385" width="1" height="1" fill="#ff0000"/>
<rect x="368" y="385" width="41" height="1" fill="#ff0000"/>
<rect x="413" y="385" width="1" height="1" fill="#ff0000"/>
<rect x="418" y="385" width="41" height="1" fill="#ff0000"/>
<rect x="462" y="385" width="1" height="1" fill="#ff0000"/>
<rect x="467" y="385" width="41" height="1" fill="#ff0000"/>
<rect x="512" y="385" width="1" height="1" fill="#ff0000"/>
<rect x="517" y="385" width="41" height="1" fill="#ff0000"/>
<rect x="561" y="385" width="1" height="1" fill="#ff0000"/>
<rect x="566" y="385" width="41" height="1" fill="#ff0000"/>
<rect x="611" y="385" width="1" height="1" fill="#ff0000"/>
<rect x="616" y="385" width="41" height="1" fill="#ff0000"/>
<rect x="660" y="385" width="1" height="1" fill="#ff0000"/>
<rect x="665" y="385" width="41" height="1" fill="#ff0000"/>
<rect x="116" y="547" width="1" height="1" fill="#ff0000"/>
<rect x="121" y="547" width="41" height="1" fill="#ff0000"/>
<rect x="165" y="547" width="1" height="1" fill="#ff0000"/>
<rect x="170" y="547" width="41" height="1" fill="#ff0000"/>
<rect x="215" y="547" width="1" height="1" fill="#ff0000"/>
<rect x="220" y="547" width="41" height="1" fill="#ff0000"/>
<rect x="264" y="547" width="1" height="1" fill="#ff0000"/>
<rect x="269" y="547" width="41" height="1" fill="#ff0000"/>
<rect x="314" y="547" width="1" height="1" fill="#ff0000"/>
<rect x="319" y="547" width="41" height="1" fill="#ff0000"/>
<rect x="363" y="547" width="1" height="1" fill="#ff0000"/>
<rect x="368" y="547" width="41" height="1" fill="#ff0000"/>
<rect x="413" y="547" width="1" height="1" fill="#ff0000"/>
<rect x="418" y="547" width="41" height="1" fill="#ff0000"/>
<rect x="462" y="547" width="1" height="1" fill="#ff0000"/>
<rect x="467" y="547" width="41" height="1" fill="#ff0000"/>
<rect x="512" y="547" width="1" height="1" fill="#ff0000"/>
<rect x="517" y="547" width="41" height="1" fill="#ff0000"/>
<rect x="561" y="547" width="1" height="1" fill="#ff0000"/>
<rect x="566" y="547" width="41" height="1" fill="#ff0000"/>
<rect x="611" y="547" width="1" height="1" fill="#ff0000"/>
<rect x="616" y="547" width="41" height="1" fill="#ff0000"/>
<rect x="660" y="547" width="1" height="1" fill="#ff0000"/>
<rect x="665" y="547" width="41" height="1" fill="#ff0000"/>
<rect x="143" y="4" width="1" height="41" fill="#ff0000"/>
<rect x="143" y="48" width="1" height="1" fill="#ff0000"/>
<rect x="143" y="54" width="1" height="40" fill="#ff0000"/>
<rect x="143" y="98" width="1" height="1" fill="#ff0000"/>
<rect x="143" y="103" width="1" height="41" fill="#ff0000"/>
<rect x="143" y="147" width="1" height="1" fill="#ff0000"/>
<rect x="143" y="152" width="1" height="42" fill="#ff0000"/>
<rect x="143" y="197" width="1" height="1" fill="#ff0000"/>
<rect x="143" y="202" width="1" height="41" fill="#ff0000"/>
<rect x="143" y="246" width="1" height="1" fill="#ff0000"/>
<rect x="143" y="252" width="1" height="40" fill="#ff0000"/>
<rect x="143" y="296" width="1" height="1" fill="#ff0000"/>
<rect x="143" y="301" width="1" height="41" fill="#ff0000"/>
<rect x="143" y="345" width="1" height="1" fill="#ff0000"/>
<rect x="143" y="350" width="1" height="42" fill="#ff0000"/>
<rect x="143" y="395" width="1" height="1" fill="#ff0000"/>
<rect x="143" y="400" width="1" height="41" fill="#ff0000"/>
<rect x="143" y="444" width="1" height="1" fill="#ff0000"/>
<rect x="143" y="450" width="1" height="40" fill="#ff0000"/>
<rect x="143" y="494" width="1" height="1" fill="#ff0000"/>
<rect x="143" y="499" width="1" height="41" fill="#ff0000"/>
<rect x="409" y="4" width="1" height="41" fill="#ff0000"/>
<rect x="409" y="48" width="1" height="1" fill="#ff0000"/>
<rect x="409" y="54" width="1" height="40" fill="#ff0000"/>
<rect x="409" y="98" width="1" height="1" fill="#ff0000"/>
<rect x="409" y="103" width="1" height="41" fill="#ff0000"/>
<rect x="409" y="147" width="1" height="1" fill="#ff0000"/>
<rect x="409" y="152" width="1" height="42" fill="#ff0000"/>
<rect x="409" y="197" width="1" height="1" fill="#ff0000"/>
<rect x="409" y="202" width="1" height="41" fill="#ff0000"/>
<rect x="409" y="246" width="1" height="1" fill="#ff0000"/>
<rect x="409" y="252" width="1" height="40" fill="#ff0000"/>
<rect x="409" y="296" width="1" height="1" fill="#ff0000"/>
<rect x="409" y="301" width="1" height="41" fill="#ff0000"/>
<rect x="409" y="345" width="1" height="1" fill="#ff0000"/>
<rect x="409" y="350" width="1" height="42" fill="#ff0000"/>
<rect x="409" y="395" width="1" height="1" fill="#ff0000"/>
<rect x="409" y="400" width="1" height="41" fill="#ff0000"/>
<rect x="409" y="444" width="1" height="1" fill="#ff0000"/>
<rect x="409" y="450" width="1" height="40" fill="#ff0000"/>
<rect x="409" y="494" width="1" height="1" fill="#ff0000"/>
<rect x="409" y="499" width="1" height="41" fill="#ff0000"/>
<rect x="676" y="4" width="1" height="41" fill="#ff0000"/>
<rect x="676" y="48" width="1" height="1" fill="#ff0000"/>
<rect x="676" y="54" width="1" height="40" fill="#ff0000"/>
<rect x="676" y="98" width="1" height="1" fill="#ff0000"/>
<rect x="676" y="103" width="1" height="41" fill="#ff0000"/>
<rect x="676" y="147" width="1" height="1" fill="#ff0000"/>
<rect x="676" y="152" width="1" height="42" fill="#ff0000"/>
<rect x="676" y="197" width="1" height="1" fill="#ff0000"/>
<rect x="676" y="202" width="1" height="41" fill="#ff0000"/>
<rect x="676" y="246" width="1" height="1" fill="#ff0000"/>
<rect x="676" y="252" width="1" height="40" fill="#ff0000"/>
<rect x="676" y="296" width="1" height="1" fill="#ff0000"/>
<rect x="676" y="301" width="1" height="41" fill="#ff0000"/>
<rect x="676" y="345" width="1" height="1" fill="#ff0000"/>
<rect x="676" y="350" width="1" height="42" fill="#ff0000"/>
<rect x="676" y="395" width="1" height="1" fill="#ff0000"/>
<rect x="676" y="400" width="1" height="41" fill="#ff0000"/>
<rect x="676" y="444" width="1" height="1" fill="#ff0000"/>
<rect x="676" y="450" width="1" height="40" fill="#ff0000"/>
<rect x="676" y="494" width="1" height="1" fill="#ff0000"/>
<rect x="676" y="499" width="1" height="41" fill="#ff0000"/>
<rect x="141" y="64" width="1" height="487" fill="#ffffff"/>
<rect x="678" y="11" width="1" height="540" fill="#ffffff"/>
<rect x="407" y="11" width="1" height="48" fill="#ffffff"/>
<rect x="139" y="59" width="543" height="5" fill="url(#hk)"/>
<rect x="139" y="59" width="543" height="1" fill="#ffffff"/>
<rect x="139" y="63" width="543" height="1" fill="#ffffff"/>
<rect x="139" y="59" width="1" height="5" fill="#ffffff"/>
<rect x="681" y="59" width="1" height="5" fill="#ffffff"/>
<rect x="407" y="6" width="272" height="5" fill="url(#hk)"/>
<rect x="407" y="6" width="272" height="1" fill="#ffffff"/>
<rect x="407" y="10" width="272" height="1" fill="#ffffff"/>
<rect x="407" y="6" width="1" height="5" fill="#ffffff"/>
<rect x="678" y="6" width="1" height="5" fill="#ffffff"/>
<rect x="515" y="6" width="164" height="5" fill="#000" opacity="0.38"/>
<rect x="143" y="4" width="1" height="41" fill="#ff0000"/>
<rect x="143" y="48" width="1" height="1" fill="#ff0000"/>
<rect x="143" y="54" width="1" height="11" fill="#ff0000"/>
<rect x="409" y="4" width="1" height="41" fill="#ff0000"/>
<rect x="409" y="48" width="1" height="1" fill="#ff0000"/>
<rect x="409" y="54" width="1" height="11" fill="#ff0000"/>
<rect x="676" y="4" width="1" height="41" fill="#ff0000"/>
<rect x="676" y="48" width="1" height="1" fill="#ff0000"/>
<rect x="676" y="54" width="1" height="11" fill="#ff0000"/>
<rect x="157" y="104" width="112" height="2" fill="#00ffff"/>
<rect x="157" y="122" width="112" height="2" fill="#00ffff"/>
<rect x="157" y="104" width="2" height="20" fill="#00ffff"/>
<rect x="267" y="104" width="2" height="20" fill="#00ffff"/>
<rect x="175" y="104" width="3" height="20" fill="#00ffff"/>
<rect x="193" y="104" width="3" height="20" fill="#00ffff"/>
<rect x="212" y="104" width="3" height="20" fill="#00ffff"/>
<rect x="230" y="104" width="3" height="20" fill="#00ffff"/>
<rect x="248" y="104" width="3" height="20" fill="#00ffff"/>
<rect x="157" y="124" width="112" height="11" fill="url(#hg)"/>
<rect x="157" y="124" width="1" height="11" fill="#ffffff"/>
<rect x="268" y="124" width="1" height="11" fill="#ffffff"/>
<rect x="157" y="135" width="112" height="2" fill="#00ffff"/>
<rect x="157" y="165" width="112" height="2" fill="#00ffff"/>
<rect x="157" y="135" width="2" height="32" fill="#00ffff"/>
<rect x="267" y="135" width="2" height="32" fill="#00ffff"/>
<rect x="175" y="135" width="3" height="32" fill="#00ffff"/>
<rect x="193" y="135" width="3" height="32" fill="#00ffff"/>
<rect x="212" y="135" width="3" height="32" fill="#00ffff"/>
<rect x="230" y="135" width="3" height="32" fill="#00ffff"/>
<rect x="248" y="135" width="3" height="32" fill="#00ffff"/>
<rect x="157" y="167" width="112" height="18" fill="url(#hg)"/>
<rect x="157" y="167" width="1" height="18" fill="#ffffff"/>
<rect x="268" y="167" width="1" height="18" fill="#ffffff"/>
<rect x="157" y="184" width="112" height="1" fill="#ffffff"/>
<rect x="168" y="150" width="18" height="1" fill="#a0a0a0"/>
<rect x="168" y="150" width="3" height="1" fill="#a0a0a0"/>
<rect x="169" y="149" width="1" height="3" fill="#a0a0a0"/>
<rect x="182" y="150" width="3" height="1" fill="#a0a0a0"/>
<rect x="183" y="149" width="1" height="3" fill="#a0a0a0"/>
<rect x="241" y="150" width="18" height="1" fill="#a0a0a0"/>
<rect x="241" y="150" width="3" height="1" fill="#a0a0a0"/>
<rect x="242" y="149" width="1" height="3" fill="#a0a0a0"/>
<rect x="255" y="150" width="3" height="1" fill="#a0a0a0"/>
<rect x="256" y="149" width="1" height="3" fill="#a0a0a0"/>
<rect x="157" y="205" width="112" height="2" fill="#00ffff"/>
<rect x="157" y="222" width="112" height="2" fill="#00ffff"/>
<rect x="157" y="205" width="2" height="19" fill="#00ffff"/>
<rect x="267" y="205" width="2" height="19" fill="#00ffff"/>
<rect x="175" y="205" width="3" height="19" fill="#00ffff"/>
<rect x="193" y="205" width="3" height="19" fill="#00ffff"/>
<rect x="212" y="205" width="3" height="19" fill="#00ffff"/>
<rect x="230" y="205" width="3" height="19" fill="#00ffff"/>
<rect x="248" y="205" width="3" height="19" fill="#00ffff"/>
<rect x="157" y="224" width="112" height="11" fill="url(#hg)"/>
<rect x="157" y="224" width="1" height="11" fill="#ffffff"/>
<rect x="268" y="224" width="1" height="11" fill="#ffffff"/>
<rect x="157" y="235" width="112" height="2" fill="#00ffff"/>
<rect x="157" y="265" width="112" height="2" fill="#00ffff"/>
<rect x="157" y="235" width="2" height="32" fill="#00ffff"/>
<rect x="267" y="235" width="2" height="32" fill="#00ffff"/>
<rect x="175" y="235" width="3" height="32" fill="#00ffff"/>
<rect x="193" y="235" width="3" height="32" fill="#00ffff"/>
<rect x="212" y="235" width="3" height="32" fill="#00ffff"/>
<rect x="230" y="235" width="3" height="32" fill="#00ffff"/>
<rect x="248" y="235" width="3" height="32" fill="#00ffff"/>
<rect x="157" y="267" width="112" height="18" fill="url(#hg)"/>
<rect x="157" y="267" width="1" height="18" fill="#ffffff"/>
<rect x="268" y="267" width="1" height="18" fill="#ffffff"/>
<rect x="157" y="284" width="112" height="1" fill="#ffffff"/>
<rect x="167" y="250" width="7" height="2" fill="#a0a0a0"/>
<rect x="178" y="250" width="8" height="1" fill="#a0a0a0"/>
<rect x="180" y="251" width="5" height="1" fill="#a0a0a0"/>
<rect x="240" y="250" width="7" height="2" fill="#a0a0a0"/>
<rect x="251" y="250" width="8" height="1" fill="#a0a0a0"/>
<rect x="253" y="251" width="5" height="1" fill="#a0a0a0"/>
<rect x="157" y="305" width="112" height="2" fill="#00ffff"/>
<rect x="157" y="322" width="112" height="2" fill="#00ffff"/>
<rect x="157" y="305" width="2" height="19" fill="#00ffff"/>
<rect x="267" y="305" width="2" height="19" fill="#00ffff"/>
<rect x="175" y="305" width="3" height="19" fill="#00ffff"/>
<rect x="193" y="305" width="3" height="19" fill="#00ffff"/>
<rect x="212" y="305" width="3" height="19" fill="#00ffff"/>
<rect x="230" y="305" width="3" height="19" fill="#00ffff"/>
<rect x="248" y="305" width="3" height="19" fill="#00ffff"/>
<rect x="157" y="324" width="112" height="12" fill="url(#hg)"/>
<rect x="157" y="324" width="1" height="12" fill="#ffffff"/>
<rect x="268" y="324" width="1" height="12" fill="#ffffff"/>
<rect x="157" y="336" width="112" height="2" fill="#00ffff"/>
<rect x="157" y="365" width="112" height="2" fill="#00ffff"/>
<rect x="157" y="336" width="2" height="31" fill="#00ffff"/>
<rect x="267" y="336" width="2" height="31" fill="#00ffff"/>
<rect x="175" y="336" width="3" height="31" fill="#00ffff"/>
<rect x="193" y="336" width="3" height="31" fill="#00ffff"/>
<rect x="212" y="336" width="3" height="31" fill="#00ffff"/>
<rect x="230" y="336" width="3" height="31" fill="#00ffff"/>
<rect x="248" y="336" width="3" height="31" fill="#00ffff"/>
<rect x="157" y="367" width="112" height="19" fill="url(#hg)"/>
<rect x="157" y="367" width="1" height="19" fill="#ffffff"/>
<rect x="268" y="367" width="1" height="19" fill="#ffffff"/>
<rect x="157" y="385" width="112" height="1" fill="#ffffff"/>
<rect x="167" y="350" width="7" height="2" fill="#a0a0a0"/>
<rect x="178" y="350" width="8" height="1" fill="#a0a0a0"/>
<rect x="180" y="351" width="5" height="1" fill="#a0a0a0"/>
<rect x="240" y="350" width="7" height="2" fill="#a0a0a0"/>
<rect x="251" y="350" width="8" height="1" fill="#a0a0a0"/>
<rect x="253" y="351" width="5" height="1" fill="#a0a0a0"/>
<rect x="157" y="405" width="112" height="2" fill="#00ffff"/>
<rect x="157" y="429" width="112" height="2" fill="#00ffff"/>
<rect x="157" y="405" width="2" height="26" fill="#00ffff"/>
<rect x="267" y="405" width="2" height="26" fill="#00ffff"/>
<rect x="175" y="405" width="3" height="26" fill="#00ffff"/>
<rect x="193" y="405" width="3" height="26" fill="#00ffff"/>
<rect x="212" y="405" width="3" height="26" fill="#00ffff"/>
<rect x="230" y="405" width="3" height="26" fill="#00ffff"/>
<rect x="248" y="405" width="3" height="26" fill="#00ffff"/>
<rect x="284" y="104" width="112" height="2" fill="#00ffff"/>
<rect x="284" y="122" width="112" height="2" fill="#00ffff"/>
<rect x="284" y="104" width="2" height="20" fill="#00ffff"/>
<rect x="394" y="104" width="2" height="20" fill="#00ffff"/>
<rect x="302" y="104" width="3" height="20" fill="#00ffff"/>
<rect x="320" y="104" width="3" height="20" fill="#00ffff"/>
<rect x="339" y="104" width="3" height="20" fill="#00ffff"/>
<rect x="357" y="104" width="3" height="20" fill="#00ffff"/>
<rect x="375" y="104" width="3" height="20" fill="#00ffff"/>
<rect x="284" y="124" width="112" height="11" fill="url(#hg)"/>
<rect x="284" y="124" width="1" height="11" fill="#ffffff"/>
<rect x="395" y="124" width="1" height="11" fill="#ffffff"/>
<rect x="284" y="135" width="112" height="2" fill="#00ffff"/>
<rect x="284" y="165" width="112" height="2" fill="#00ffff"/>
<rect x="284" y="135" width="2" height="32" fill="#00ffff"/>
<rect x="394" y="135" width="2" height="32" fill="#00ffff"/>
<rect x="302" y="135" width="3" height="32" fill="#00ffff"/>
<rect x="320" y="135" width="3" height="32" fill="#00ffff"/>
<rect x="339" y="135" width="3" height="32" fill="#00ffff"/>
<rect x="357" y="135" width="3" height="32" fill="#00ffff"/>
<rect x="375" y="135" width="3" height="32" fill="#00ffff"/>
<rect x="284" y="167" width="112" height="18" fill="url(#hg)"/>
<rect x="284" y="167" width="1" height="18" fill="#ffffff"/>
<rect x="395" y="167" width="1" height="18" fill="#ffffff"/>
<rect x="284" y="184" width="112" height="1" fill="#ffffff"/>
<rect x="295" y="150" width="18" height="1" fill="#a0a0a0"/>
<rect x="295" y="150" width="3" height="1" fill="#a0a0a0"/>
<rect x="296" y="149" width="1" height="3" fill="#a0a0a0"/>
<rect x="309" y="150" width="3" height="1" fill="#a0a0a0"/>
<rect x="310" y="149" width="1" height="3" fill="#a0a0a0"/>
<rect x="368" y="150" width="18" height="1" fill="#a0a0a0"/>
<rect x="368" y="150" width="3" height="1" fill="#a0a0a0"/>
<rect x="369" y="149" width="1" height="3" fill="#a0a0a0"/>
<rect x="382" y="150" width="3" height="1" fill="#a0a0a0"/>
<rect x="383" y="149" width="1" height="3" fill="#a0a0a0"/>
<rect x="284" y="205" width="112" height="2" fill="#00ffff"/>
<rect x="284" y="222" width="112" height="2" fill="#00ffff"/>
<rect x="284" y="205" width="2" height="19" fill="#00ffff"/>
<rect x="394" y="205" width="2" height="19" fill="#00ffff"/>
<rect x="302" y="205" width="3" height="19" fill="#00ffff"/>
<rect x="320" y="205" width="3" height="19" fill="#00ffff"/>
<rect x="339" y="205" width="3" height="19" fill="#00ffff"/>
<rect x="357" y="205" width="3" height="19" fill="#00ffff"/>
<rect x="375" y="205" width="3" height="19" fill="#00ffff"/>
<rect x="284" y="224" width="112" height="11" fill="url(#hg)"/>
<rect x="284" y="224" width="1" height="11" fill="#ffffff"/>
<rect x="395" y="224" width="1" height="11" fill="#ffffff"/>
<rect x="284" y="235" width="112" height="2" fill="#00ffff"/>
<rect x="284" y="265" width="112" height="2" fill="#00ffff"/>
<rect x="284" y="235" width="2" height="32" fill="#00ffff"/>
<rect x="394" y="235" width="2" height="32" fill="#00ffff"/>
<rect x="302" y="235" width="3" height="32" fill="#00ffff"/>
<rect x="320" y="235" width="3" height="32" fill="#00ffff"/>
<rect x="339" y="235" width="3" height="32" fill="#00ffff"/>
<rect x="357" y="235" width="3" height="32" fill="#00ffff"/>
<rect x="375" y="235" width="3" height="32" fill="#00ffff"/>
<rect x="284" y="267" width="112" height="18" fill="url(#hg)"/>
<rect x="284" y="267" width="1" height="18" fill="#ffffff"/>
<rect x="395" y="267" width="1" height="18" fill="#ffffff"/>
<rect x="284" y="284" width="112" height="1" fill="#ffffff"/>
<rect x="294" y="250" width="7" height="2" fill="#a0a0a0"/>
<rect x="305" y="250" width="8" height="1" fill="#a0a0a0"/>
<rect x="307" y="251" width="5" height="1" fill="#a0a0a0"/>
<rect x="367" y="250" width="7" height="2" fill="#a0a0a0"/>
<rect x="378" y="250" width="8" height="1" fill="#a0a0a0"/>
<rect x="380" y="251" width="5" height="1" fill="#a0a0a0"/>
<rect x="284" y="305" width="112" height="2" fill="#00ffff"/>
<rect x="284" y="322" width="112" height="2" fill="#00ffff"/>
<rect x="284" y="305" width="2" height="19" fill="#00ffff"/>
<rect x="394" y="305" width="2" height="19" fill="#00ffff"/>
<rect x="302" y="305" width="3" height="19" fill="#00ffff"/>
<rect x="320" y="305" width="3" height="19" fill="#00ffff"/>
<rect x="339" y="305" width="3" height="19" fill="#00ffff"/>
<rect x="357" y="305" width="3" height="19" fill="#00ffff"/>
<rect x="375" y="305" width="3" height="19" fill="#00ffff"/>
<rect x="284" y="324" width="112" height="12" fill="url(#hg)"/>
<rect x="284" y="324" width="1" height="12" fill="#ffffff"/>
<rect x="395" y="324" width="1" height="12" fill="#ffffff"/>
<rect x="284" y="336" width="112" height="2" fill="#00ffff"/>
<rect x="284" y="365" width="112" height="2" fill="#00ffff"/>
<rect x="284" y="336" width="2" height="31" fill="#00ffff"/>
<rect x="394" y="336" width="2" height="31" fill="#00ffff"/>
<rect x="302" y="336" width="3" height="31" fill="#00ffff"/>
<rect x="320" y="336" width="3" height="31" fill="#00ffff"/>
<rect x="339" y="336" width="3" height="31" fill="#00ffff"/>
<rect x="357" y="336" width="3" height="31" fill="#00ffff"/>
<rect x="375" y="336" width="3" height="31" fill="#00ffff"/>
<rect x="284" y="367" width="112" height="19" fill="url(#hg)"/>
<rect x="284" y="367" width="1" height="19" fill="#ffffff"/>
<rect x="395" y="367" width="1" height="19" fill="#ffffff"/>
<rect x="284" y="385" width="112" height="1" fill="#ffffff"/>
<rect x="294" y="350" width="7" height="2" fill="#a0a0a0"/>
<rect x="305" y="350" width="8" height="1" fill="#a0a0a0"/>
<rect x="307" y="351" width="5" height="1" fill="#a0a0a0"/>
<rect x="367" y="350" width="7" height="2" fill="#a0a0a0"/>
<rect x="378" y="350" width="8" height="1" fill="#a0a0a0"/>
<rect x="380" y="351" width="5" height="1" fill="#a0a0a0"/>
<rect x="284" y="405" width="112" height="2" fill="#00ffff"/>
<rect x="284" y="429" width="112" height="2" fill="#00ffff"/>
<rect x="284" y="405" width="2" height="26" fill="#00ffff"/>
<rect x="394" y="405" width="2" height="26" fill="#00ffff"/>
<rect x="302" y="405" width="3" height="26" fill="#00ffff"/>
<rect x="320" y="405" width="3" height="26" fill="#00ffff"/>
<rect x="339" y="405" width="3" height="26" fill="#00ffff"/>
<rect x="357" y="405" width="3" height="26" fill="#00ffff"/>
<rect x="375" y="405" width="3" height="26" fill="#00ffff"/>
<rect x="633" y="135" width="25" height="2" fill="#00ffff"/>
<rect x="633" y="165" width="25" height="2" fill="#00ffff"/>
<rect x="633" y="135" width="2" height="32" fill="#00ffff"/>
<rect x="656" y="135" width="2" height="32" fill="#00ffff"/>
<rect x="644" y="135" width="3" height="32" fill="#00ffff"/>
<rect x="637" y="152" width="17" height="1" fill="#00ff00"/>
<rect x="633" y="167" width="25" height="18" fill="url(#hg)"/>
<rect x="633" y="167" width="1" height="18" fill="#ffffff"/>
<rect x="657" y="167" width="1" height="18" fill="#ffffff"/>
<rect x="633" y="184" width="25" height="1" fill="#ffffff"/>
<rect x="633" y="201" width="25" height="2" fill="#00ffff"/>
<rect x="633" y="230" width="25" height="2" fill="#00ffff"/>
<rect x="633" y="201" width="2" height="31" fill="#00ffff"/>
<rect x="656" y="201" width="2" height="31" fill="#00ffff"/>
<rect x="644" y="201" width="3" height="31" fill="#00ffff"/>
<rect x="637" y="217" width="17" height="1" fill="#00ff00"/>
<rect x="633" y="232" width="25" height="53" fill="url(#hg)"/>
<rect x="633" y="232" width="1" height="53" fill="#ffffff"/>
<rect x="657" y="232" width="1" height="53" fill="#ffffff"/>
<rect x="633" y="284" width="25" height="1" fill="#ffffff"/>
<rect x="633" y="336" width="25" height="2" fill="#00ffff"/>
<rect x="633" y="365" width="25" height="2" fill="#00ffff"/>
<rect x="633" y="336" width="2" height="31" fill="#00ffff"/>
<rect x="656" y="336" width="2" height="31" fill="#00ffff"/>
<rect x="644" y="336" width="3" height="31" fill="#00ffff"/>
<rect x="637" y="352" width="17" height="1" fill="#00ff00"/>
<rect x="633" y="367" width="25" height="19" fill="url(#hg)"/>
<rect x="633" y="367" width="1" height="19" fill="#ffffff"/>
<rect x="657" y="367" width="1" height="19" fill="#ffffff"/>
<rect x="633" y="385" width="25" height="1" fill="#ffffff"/>
<rect x="633" y="398" width="25" height="2" fill="#00ffff"/>
<rect x="633" y="420" width="25" height="2" fill="#00ffff"/>
<rect x="633" y="398" width="2" height="24" fill="#00ffff"/>
<rect x="656" y="398" width="2" height="24" fill="#00ffff"/>
<rect x="644" y="398" width="3" height="24" fill="#00ffff"/>
<rect x="637" y="411" width="17" height="1" fill="#00ff00"/>
<rect x="633" y="422" width="25" height="84" fill="url(#hg)"/>
<rect x="633" y="422" width="1" height="84" fill="#ffffff"/>
<rect x="657" y="422" width="1" height="84" fill="#ffffff"/>
<rect x="633" y="506" width="25" height="2" fill="#00ffff"/>
<rect x="633" y="527" width="25" height="2" fill="#00ffff"/>
<rect x="633" y="506" width="2" height="23" fill="#00ffff"/>
<rect x="656" y="506" width="2" height="23" fill="#00ffff"/>
<rect x="644" y="506" width="3" height="23" fill="#00ffff"/>
<rect x="637" y="518" width="17" height="1" fill="#00ff00"/>
<rect x="264" y="448" width="152" height="7" fill="url(#hw)"/>
<rect x="264" y="448" width="152" height="1" fill="#ffffff"/>
<rect x="264" y="454" width="152" height="1" fill="#ffffff"/>
<rect x="264" y="448" width="1" height="7" fill="#ffffff"/>
<rect x="415" y="448" width="1" height="7" fill="#ffffff"/>
<rect x="285" y="466" width="110" height="1" fill="#8c8c8c"/>
<rect x="285" y="469" width="110" height="1" fill="#8c8c8c"/>
<rect x="285" y="472" width="110" height="1" fill="#8c8c8c"/>
<rect x="285" y="475" width="110" height="1" fill="#8c8c8c"/>
<rect x="285" y="479" width="110" height="1" fill="#8c8c8c"/>
<rect x="285" y="482" width="110" height="1" fill="#8c8c8c"/>
<rect x="285" y="485" width="110" height="1" fill="#8c8c8c"/>
<rect x="285" y="488" width="110" height="1" fill="#8c8c8c"/>
<rect x="285" y="492" width="110" height="1" fill="#8c8c8c"/>
<rect x="285" y="495" width="110" height="1" fill="#8c8c8c"/>
<rect x="285" y="498" width="110" height="1" fill="#8c8c8c"/>
<rect x="285" y="501" width="110" height="1" fill="#8c8c8c"/>
<rect x="285" y="505" width="110" height="1" fill="#8c8c8c"/>
<rect x="285" y="508" width="110" height="1" fill="#8c8c8c"/>
<rect x="285" y="511" width="110" height="1" fill="#8c8c8c"/>
<rect x="285" y="514" width="110" height="1" fill="#8c8c8c"/>
<rect x="285" y="518" width="110" height="1" fill="#8c8c8c"/>
<rect x="285" y="521" width="110" height="1" fill="#8c8c8c"/>
<rect x="285" y="524" width="110" height="1" fill="#8c8c8c"/>
<rect x="285" y="527" width="110" height="1" fill="#8c8c8c"/>
<rect x="285" y="531" width="110" height="1" fill="#8c8c8c"/>
<rect x="285" y="534" width="110" height="1" fill="#8c8c8c"/>
<rect x="285" y="537" width="110" height="1" fill="#8c8c8c"/>
<rect x="285" y="540" width="110" height="1" fill="#8c8c8c"/>
<rect x="285" y="544" width="110" height="1" fill="#8c8c8c"/>
<rect x="284" y="461" width="112" height="1" fill="#ffffff"/>
<rect x="284" y="461" width="1" height="87" fill="#ffffff"/>
<rect x="395" y="461" width="1" height="87" fill="#ffffff"/>
<rect x="455" y="479" width="67" height="7" fill="url(#hl)"/>
<rect x="455" y="479" width="67" height="1" fill="#ffffff"/>
<rect x="455" y="485" width="67" height="1" fill="#ffffff"/>
<rect x="455" y="479" width="1" height="7" fill="#ffffff"/>
<rect x="521" y="479" width="1" height="7" fill="#ffffff"/>
<rect x="465" y="491" width="46" height="1" fill="#e8e8e8"/>
<rect x="465" y="491" width="1" height="57" fill="#e8e8e8"/>
<rect x="510" y="491" width="1" height="57" fill="#e8e8e8"/>
<rect x="488" y="491" width="1" height="57" fill="#e8e8e8"/>
<polyline points="141.5,448.5 110.5,448.5 110.5,454.5 141.5,454.5" fill="none" stroke="#ffffff" stroke-width="1"/>
<polyline points="678.5,448.5 709.5,448.5 709.5,454.5 678.5,454.5" fill="none" stroke="#ffffff" stroke-width="1"/>
<polyline points="678.5,485.5 698.5,485.5 698.5,491.5 678.5,491.5" fill="none" stroke="#ffffff" stroke-width="1"/>
<rect x="409" y="450" width="1" height="5" fill="#ff0000"/>
<polyline points="264.5,550.5 267.5,547.5 270,547.5" fill="none" stroke="#ffffff" stroke-width="1"/>
<polyline points="408,547.5 412.5,547.5 415.5,550.5" fill="none" stroke="#ffffff" stroke-width="1"/>
<polyline points="455.5,550.5 458.5,547.5 518.5,547.5 521.5,550.5" fill="none" stroke="#ffffff" stroke-width="1"/>
<rect x="310" y="547" width="9" height="1" fill="#ffffff"/>
<rect x="365" y="547" width="8" height="1" fill="#ffffff"/>
<rect x="116" y="550" width="571" height="1" fill="#ffff00"/>
<rect x="55" y="53" width="38" height="1" fill="#00ff00"/>
<polyline points="81.5,53.5 87.5,59.5 93.5,53.5" fill="none" stroke="#00ff00" stroke-width="1"/>
<rect x="733" y="53" width="38" height="1" fill="#00ff00"/>
<polyline points="733.5,53.5 739.5,59.5 745.5,53.5" fill="none" stroke="#00ff00" stroke-width="1"/>
<rect x="55" y="78" width="38" height="1" fill="#00ff00"/>
<polyline points="81.5,78.5 87.5,84.5 93.5,78.5" fill="none" stroke="#00ff00" stroke-width="1"/>
<rect x="733" y="78" width="38" height="1" fill="#00ff00"/>
<polyline points="733.5,78.5 739.5,84.5 745.5,78.5" fill="none" stroke="#00ff00" stroke-width="1"/>
<rect x="55" y="178" width="38" height="1" fill="#00ff00"/>
<polyline points="81.5,178.5 87.5,184.5 93.5,178.5" fill="none" stroke="#00ff00" stroke-width="1"/>
<rect x="733" y="178" width="38" height="1" fill="#00ff00"/>
<polyline points="733.5,178.5 739.5,184.5 745.5,178.5" fill="none" stroke="#00ff00" stroke-width="1"/>
<rect x="55" y="278" width="38" height="1" fill="#00ff00"/>
<polyline points="81.5,278.5 87.5,284.5 93.5,278.5" fill="none" stroke="#00ff00" stroke-width="1"/>
<rect x="733" y="278" width="38" height="1" fill="#00ff00"/>
<polyline points="733.5,278.5 739.5,284.5 745.5,278.5" fill="none" stroke="#00ff00" stroke-width="1"/>
<rect x="55" y="379" width="38" height="1" fill="#00ff00"/>
<polyline points="81.5,379.5 87.5,385.5 93.5,379.5" fill="none" stroke="#00ff00" stroke-width="1"/>
<rect x="733" y="379" width="38" height="1" fill="#00ff00"/>
<polyline points="733.5,379.5 739.5,385.5 745.5,379.5" fill="none" stroke="#00ff00" stroke-width="1"/>
<rect x="55" y="540" width="38" height="1" fill="#00ff00"/>
<polyline points="81.5,540.5 87.5,546.5 93.5,540.5" fill="none" stroke="#00ff00" stroke-width="1"/>
<rect x="733" y="540" width="38" height="1" fill="#00ff00"/>
<polyline points="733.5,540.5 739.5,546.5 745.5,540.5" fill="none" stroke="#00ff00" stroke-width="1"/>
<rect x="55" y="556" width="38" height="1" fill="#00ff00"/>
<polyline points="81.5,556.5 87.5,550.5 93.5,556.5" fill="none" stroke="#00ff00" stroke-width="1"/>
<rect x="733" y="556" width="38" height="1" fill="#00ff00"/>
<polyline points="733.5,556.5 739.5,550.5 745.5,556.5" fill="none" stroke="#00ff00" stroke-width="1"/>
<rect x="81" y="59" width="36" height="1" fill="#00ff00"/>
<rect x="81" y="84" width="36" height="1" fill="#00ff00"/>
<rect x="119" y="84" width="15" height="1" fill="#00ff00"/>
<rect x="81" y="184" width="36" height="1" fill="#00ff00"/>
<rect x="119" y="184" width="15" height="1" fill="#00ff00"/>
<rect x="81" y="284" width="36" height="1" fill="#00ff00"/>
<rect x="119" y="284" width="15" height="1" fill="#00ff00"/>
<rect x="81" y="385" width="36" height="1" fill="#00ff00"/>
<rect x="119" y="385" width="15" height="1" fill="#00ff00"/>
<rect x="81" y="547" width="34" height="1" fill="#00ff00"/>
<rect x="118" y="547" width="16" height="1" fill="#00ff00"/>
<rect x="81" y="550" width="35" height="1" fill="#00ff00"/>
<rect x="90" y="59" width="1" height="492" fill="#00ff00"/>
<rect x="106" y="59" width="1" height="493" fill="#00ff00"/>
<rect x="123" y="84" width="1" height="464" fill="#00ff00"/>
<rect x="119" y="104" width="15" height="1" fill="#00ff00"/>
<rect x="692" y="104" width="16" height="1" fill="#00ff00"/>
<rect x="119" y="123" width="15" height="1" fill="#00ff00"/>
<rect x="692" y="123" width="16" height="1" fill="#00ff00"/>
<rect x="119" y="135" width="15" height="1" fill="#00ff00"/>
<rect x="692" y="135" width="16" height="1" fill="#00ff00"/>
<rect x="119" y="166" width="15" height="1" fill="#00ff00"/>
<rect x="692" y="166" width="16" height="1" fill="#00ff00"/>
<rect x="119" y="205" width="15" height="1" fill="#00ff00"/>
<rect x="692" y="205" width="16" height="1" fill="#00ff00"/>
<rect x="119" y="223" width="15" height="1" fill="#00ff00"/>
<rect x="692" y="223" width="16" height="1" fill="#00ff00"/>
<rect x="119" y="235" width="15" height="1" fill="#00ff00"/>
<rect x="692" y="235" width="16" height="1" fill="#00ff00"/>
<rect x="119" y="266" width="15" height="1" fill="#00ff00"/>
<rect x="692" y="266" width="16" height="1" fill="#00ff00"/>
<rect x="119" y="305" width="15" height="1" fill="#00ff00"/>
<rect x="692" y="305" width="16" height="1" fill="#00ff00"/>
<rect x="119" y="323" width="15" height="1" fill="#00ff00"/>
<rect x="692" y="323" width="16" height="1" fill="#00ff00"/>
<rect x="119" y="336" width="15" height="1" fill="#00ff00"/>
<rect x="692" y="336" width="16" height="1" fill="#00ff00"/>
<rect x="119" y="366" width="15" height="1" fill="#00ff00"/>
<rect x="692" y="366" width="16" height="1" fill="#00ff00"/>
<rect x="119" y="405" width="15" height="1" fill="#00ff00"/>
<rect x="692" y="405" width="16" height="1" fill="#00ff00"/>
<rect x="119" y="430" width="15" height="1" fill="#00ff00"/>
<rect x="692" y="430" width="16" height="1" fill="#00ff00"/>
<rect x="119" y="461" width="15" height="1" fill="#00ff00"/>
<rect x="692" y="461" width="16" height="1" fill="#00ff00"/>
<rect x="119" y="522" width="15" height="1" fill="#00ff00"/>
<rect x="692" y="522" width="16" height="1" fill="#00ff00"/>
<rect x="686" y="59" width="59" height="1" fill="#00ff00"/>
<rect x="692" y="84" width="53" height="1" fill="#00ff00"/>
<rect x="692" y="184" width="53" height="1" fill="#00ff00"/>
<rect x="692" y="284" width="53" height="1" fill="#00ff00"/>
<rect x="692" y="385" width="53" height="1" fill="#00ff00"/>
<rect x="692" y="547" width="53" height="1" fill="#00ff00"/>
<rect x="686" y="550" width="59" height="1" fill="#00ff00"/>
<rect x="702" y="84" width="1" height="464" fill="#00ff00"/>
<rect x="719" y="59" width="1" height="493" fill="#00ff00"/>
<rect x="735" y="59" width="1" height="492" fill="#00ff00"/>
<rect x="620" y="84" width="1" height="464" fill="#00ff00"/>
<rect x="610" y="84" width="15" height="1" fill="#00ff00"/>
<rect x="610" y="135" width="15" height="1" fill="#00ff00"/>
<rect x="610" y="166" width="15" height="1" fill="#00ff00"/>
<rect x="610" y="184" width="15" height="1" fill="#00ff00"/>
<rect x="610" y="201" width="15" height="1" fill="#00ff00"/>
<rect x="610" y="232" width="15" height="1" fill="#00ff00"/>
<rect x="610" y="284" width="15" height="1" fill="#00ff00"/>
<rect x="610" y="336" width="15" height="1" fill="#00ff00"/>
<rect x="610" y="366" width="15" height="1" fill="#00ff00"/>
<rect x="610" y="385" width="15" height="1" fill="#00ff00"/>
<rect x="610" y="398" width="15" height="1" fill="#00ff00"/>
<rect x="610" y="421" width="15" height="1" fill="#00ff00"/>
<rect x="610" y="506" width="15" height="1" fill="#00ff00"/>
<rect x="610" y="528" width="15" height="1" fill="#00ff00"/>
<rect x="610" y="547" width="15" height="1" fill="#00ff00"/>
<rect x="359" y="448" width="1" height="100" fill="#00ff00"/>
<rect x="344" y="448" width="21" height="1" fill="#00ff00"/>
<rect x="344" y="454" width="21" height="1" fill="#00ff00"/>
<rect x="344" y="461" width="21" height="1" fill="#00ff00"/>
<rect x="344" y="547" width="21" height="1" fill="#00ff00"/>
<rect x="529" y="479" width="1" height="69" fill="#00ff00"/>
<rect x="523" y="479" width="11" height="1" fill="#00ff00"/>
<rect x="523" y="485" width="11" height="1" fill="#00ff00"/>
<rect x="523" y="491" width="11" height="1" fill="#00ff00"/>
<rect x="523" y="547" width="11" height="1" fill="#00ff00"/>
<rect x="143" y="559" width="534" height="1" fill="#00ff00"/>
<rect x="143" y="576" width="534" height="1" fill="#00ff00"/>
<rect x="143" y="542" width="1" height="49" fill="#00ff00"/>
<circle cx="143.5" cy="599" r="8.3" fill="none" stroke="#00ff00" stroke-width="1"/>
<rect x="409" y="542" width="1" height="49" fill="#00ff00"/>
<circle cx="409.5" cy="599" r="8.3" fill="none" stroke="#00ff00" stroke-width="1"/>
<rect x="526" y="542" width="1" height="49" fill="#00ff00"/>
<circle cx="526.5" cy="599" r="8.3" fill="none" stroke="#00ff00" stroke-width="1"/>
<rect x="676" y="542" width="1" height="49" fill="#00ff00"/>
<circle cx="676.5" cy="599" r="8.3" fill="none" stroke="#00ff00" stroke-width="1"/>
<rect x="277" y="617" width="97" height="1" fill="#00ff00"/>
<rect x="277" y="619" width="97" height="1" fill="#00ff00"/>
<rect x="493" y="612" width="38" height="1" fill="#00ff00"/>
<polyline points="519.5,612.5 525.5,618.5 530.5,612.5" fill="none" stroke="#00ff00" stroke-width="1"/>
<rect x="519" y="618" width="60" height="1" fill="#00ff00"/>
<rect x="529" y="618" width="1" height="9" fill="#00ff00"/>
<rect x="544" y="618" width="1" height="9" fill="#00ff00"/>
<rect x="613" y="594" width="1" height="25" fill="#ff0000"/>
<rect x="613" y="618" width="321" height="1" fill="#ffffff"/>
<polygon points="608.5,618.5 614.5,618.5 614.5,622.5 613.5,622.5 613.5,627 609.5,627 609.5,622.5 608.5,622.5" fill="#808080" stroke="#ffff00" stroke-width="1"/>
<rect x="879" y="594" width="1" height="33" fill="#ff0000"/>
<rect x="865" y="618" width="9" height="1" fill="#00ff00"/>
<rect x="870" y="618" width="1" height="9" fill="#00ff00"/>
<polyline points="277.5,612.5 281.5,602.5 285.5,612.5" fill="none" stroke="#ffffff" stroke-width="1"/>
<rect x="279" y="610" width="6" height="1" fill="#ffffff"/>
<rect x="286" y="609" width="5" height="1" fill="#ffffff"/>
<rect x="297" y="602" width="1" height="12" fill="#ffffff"/>
<rect x="297" y="602" width="7" height="1" fill="#ffffff"/>
<rect x="297" y="607" width="4" height="1" fill="#ffffff"/>
<rect x="297" y="613" width="7" height="1" fill="#ffffff"/>
<rect x="308" y="600" width="1" height="1" fill="#ffffff"/>
<rect x="307" y="602" width="3" height="1" fill="#ffffff"/>
<rect x="305" y="603" width="3" height="1" fill="#ffffff"/>
<rect x="308" y="602" width="1" height="12" fill="#ffffff"/>
<rect x="306" y="605" width="1" height="6" fill="#ffffff"/>
<rect x="306" y="605" width="3" height="1" fill="#ffffff"/>
<rect x="306" y="610" width="3" height="1" fill="#ffffff"/>
<rect x="312" y="600" width="1" height="6" fill="#ffffff"/>
<rect x="310" y="606" width="4" height="8" fill="#ffffff"/>
<rect x="314" y="605" width="1" height="1" fill="#ffffff"/>
<rect x="311" y="607" width="1" height="2" fill="#000"/>
<rect x="312" y="610" width="1" height="2" fill="#000"/>
<rect x="320" y="601" width="1" height="1" fill="#ffffff"/>
<rect x="321" y="602" width="1" height="1" fill="#ffffff"/>
<rect x="317" y="604" width="6" height="1" fill="#ffffff"/>
<rect x="323" y="603" width="1" height="1" fill="#ffffff"/>
<rect x="319" y="606" width="1" height="4" fill="#ffffff"/>
<rect x="322" y="605" width="1" height="8" fill="#ffffff"/>
<rect x="316" y="613" width="4" height="1" fill="#ffffff"/>
<rect x="320" y="612" width="5" height="1" fill="#ffffff"/>
<rect x="327" y="601" width="8" height="1" fill="#ffffff"/>
<rect x="328" y="604" width="1" height="10" fill="#ffffff"/>
<rect x="327" y="604" width="8" height="1" fill="#ffffff"/>
<rect x="334" y="604" width="1" height="10" fill="#ffffff"/>
<rect x="330" y="605" width="1" height="7" fill="#ffffff"/>
<rect x="332" y="605" width="1" height="7" fill="#ffffff"/>
<rect x="330" y="607" width="3" height="1" fill="#ffffff"/>
<rect x="330" y="609" width="3" height="1" fill="#ffffff"/>
<rect x="329" y="611" width="5" height="1" fill="#ffffff"/>
<rect x="333" y="613" width="1" height="1" fill="#ffffff"/>
<rect x="338" y="600" width="1" height="14" fill="#ffffff"/>
<rect x="338" y="601" width="9" height="1" fill="#ffffff"/>
<rect x="345" y="601" width="1" height="13" fill="#ffffff"/>
<rect x="338" y="612" width="6" height="1" fill="#ffffff"/>
<rect x="341" y="604" width="1" height="8" fill="#ffffff"/>
<rect x="340" y="606" width="4" height="1" fill="#ffffff"/>
<rect x="342" y="603" width="1" height="1" fill="#ffffff"/>
<rect x="343" y="608" width="1" height="2" fill="#ffffff"/>
<rect x="340" y="611" width="4" height="1" fill="#ffffff"/>
<rect x="340" y="609" width="1" height="1" fill="#ffffff"/>
<rect x="352" y="605" width="1" height="8" fill="#ffffff"/>
<rect x="350" y="607" width="1" height="1" fill="#ffffff"/>
<rect x="351" y="606" width="1" height="1" fill="#ffffff"/>
<rect x="356" y="608" width="1" height="1" fill="#ffffff"/>
<rect x="356" y="613" width="2" height="1" fill="#ffffff"/>
<rect x="360" y="605" width="1" height="8" fill="#ffffff"/>
<rect x="358" y="607" width="1" height="1" fill="#ffffff"/>
<rect x="359" y="606" width="1" height="1" fill="#ffffff"/>
<rect x="364" y="605" width="3" height="1" fill="#ffffff"/>
<rect x="363" y="606" width="1" height="7" fill="#ffffff"/>
<rect x="367" y="606" width="1" height="7" fill="#ffffff"/>
<rect x="364" y="613" width="3" height="1" fill="#ffffff"/>
<rect x="370" y="605" width="3" height="1" fill="#ffffff"/>
<rect x="369" y="606" width="1" height="7" fill="#ffffff"/>
<rect x="373" y="606" width="1" height="7" fill="#ffffff"/>
<rect x="370" y="613" width="3" height="1" fill="#ffffff"/>
<g shape-rendering="auto"></g>
<g font-family="Liberation Sans, sans-serif" style="filter:grayscale(1)">
<text x="57" y="51.7" font-size="8.28" textLength="14" lengthAdjust="spacingAndGlyphs" fill="#fff" stroke="#fff" stroke-width="0.5" font-weight="bold">23.900</text>
<text x="749" y="51.7" font-size="8.28" textLength="16" lengthAdjust="spacingAndGlyphs" fill="#fff" stroke="#fff" stroke-width="0.5" font-weight="bold">23.900</text>
<text x="57" y="76.7" font-size="8.28" textLength="14" lengthAdjust="spacingAndGlyphs" fill="#fff" stroke="#fff" stroke-width="0.5" font-weight="bold">22.600</text>
<text x="749" y="76.7" font-size="8.28" textLength="16" lengthAdjust="spacingAndGlyphs" fill="#fff" stroke="#fff" stroke-width="0.5" font-weight="bold">22.600</text>
<text x="57" y="176.7" font-size="8.28" textLength="14" lengthAdjust="spacingAndGlyphs" fill="#fff" stroke="#fff" stroke-width="0.5" font-weight="bold">17.100</text>
<text x="749" y="176.7" font-size="8.28" textLength="16" lengthAdjust="spacingAndGlyphs" fill="#fff" stroke="#fff" stroke-width="0.5" font-weight="bold">17.100</text>
<text x="57" y="276.7" font-size="8.28" textLength="14" lengthAdjust="spacingAndGlyphs" fill="#fff" stroke="#fff" stroke-width="0.5" font-weight="bold">12.000</text>
<text x="749" y="276.7" font-size="8.28" textLength="16" lengthAdjust="spacingAndGlyphs" fill="#fff" stroke="#fff" stroke-width="0.5" font-weight="bold">12.000</text>
<text x="57" y="377.7" font-size="8.28" textLength="12" lengthAdjust="spacingAndGlyphs" fill="#fff" stroke="#fff" stroke-width="0.5" font-weight="bold">7.900</text>
<text x="749" y="377.7" font-size="8.28" textLength="13" lengthAdjust="spacingAndGlyphs" fill="#fff" stroke="#fff" stroke-width="0.5" font-weight="bold">7.900</text>
<text x="57" y="539.7" font-size="9.66" textLength="16" lengthAdjust="spacingAndGlyphs" fill="#fff" stroke="#fff" stroke-width="0.5" font-weight="bold">±0.000</text>
<text x="57" y="566.7" font-size="9.66" textLength="15" lengthAdjust="spacingAndGlyphs" fill="#fff" stroke="#fff" stroke-width="0.5" font-weight="bold">-0.150</text>
<text x="748" y="539.7" font-size="8.28" textLength="16" lengthAdjust="spacingAndGlyphs" fill="#fff" stroke="#fff" stroke-width="0.5" font-weight="bold">±0.000</text>
<text x="749" y="566.7" font-size="8.28" textLength="15" lengthAdjust="spacingAndGlyphs" fill="#fff" stroke="#fff" stroke-width="0.5" font-weight="bold">-0.150</text>
<text transform="translate(121,101) rotate(-90)" x="0" y="0" font-size="8.28" textLength="12" lengthAdjust="spacingAndGlyphs" fill="#fff" stroke="#fff" stroke-width="0.5" font-weight="bold">1000</text>
<text transform="translate(700,101) rotate(-90)" x="0" y="0" font-size="8.28" textLength="12" lengthAdjust="spacingAndGlyphs" fill="#fff" stroke="#fff" stroke-width="0.5" font-weight="bold">1000</text>
<text transform="translate(121,120) rotate(-90)" x="0" y="0" font-size="8.28" textLength="9" lengthAdjust="spacingAndGlyphs" fill="#fff" stroke="#fff" stroke-width="0.5" font-weight="bold">900</text>
<text transform="translate(700,120) rotate(-90)" x="0" y="0" font-size="8.28" textLength="9" lengthAdjust="spacingAndGlyphs" fill="#fff" stroke="#fff" stroke-width="0.5" font-weight="bold">900</text>
<text transform="translate(121,133) rotate(-90)" x="0" y="0" font-size="8.28" textLength="9" lengthAdjust="spacingAndGlyphs" fill="#fff" stroke="#fff" stroke-width="0.5" font-weight="bold">650</text>
<text transform="translate(700,133) rotate(-90)" x="0" y="0" font-size="8.28" textLength="9" lengthAdjust="spacingAndGlyphs" fill="#fff" stroke="#fff" stroke-width="0.5" font-weight="bold">650</text>
<text transform="translate(121,158) rotate(-90)" x="0" y="0" font-size="8.28" textLength="12" lengthAdjust="spacingAndGlyphs" fill="#fff" stroke="#fff" stroke-width="0.5" font-weight="bold">1500</text>
<text transform="translate(700,158) rotate(-90)" x="0" y="0" font-size="8.28" textLength="12" lengthAdjust="spacingAndGlyphs" fill="#fff" stroke="#fff" stroke-width="0.5" font-weight="bold">1500</text>
<text transform="translate(121,181) rotate(-90)" x="0" y="0" font-size="8.28" textLength="10" lengthAdjust="spacingAndGlyphs" fill="#fff" stroke="#fff" stroke-width="0.5" font-weight="bold">950</text>
<text transform="translate(700,181) rotate(-90)" x="0" y="0" font-size="8.28" textLength="10" lengthAdjust="spacingAndGlyphs" fill="#fff" stroke="#fff" stroke-width="0.5" font-weight="bold">950</text>
<text transform="translate(121,201) rotate(-90)" x="0" y="0" font-size="8.28" textLength="10" lengthAdjust="spacingAndGlyphs" fill="#fff" stroke="#fff" stroke-width="0.5" font-weight="bold">1000</text>
<text transform="translate(700,201) rotate(-90)" x="0" y="0" font-size="8.28" textLength="10" lengthAdjust="spacingAndGlyphs" fill="#fff" stroke="#fff" stroke-width="0.5" font-weight="bold">1000</text>
<text transform="translate(121,221) rotate(-90)" x="0" y="0" font-size="8.28" textLength="10" lengthAdjust="spacingAndGlyphs" fill="#fff" stroke="#fff" stroke-width="0.5" font-weight="bold">900</text>
<text transform="translate(700,221) rotate(-90)" x="0" y="0" font-size="8.28" textLength="10" lengthAdjust="spacingAndGlyphs" fill="#fff" stroke="#fff" stroke-width="0.5" font-weight="bold">900</text>
<text transform="translate(121,235) rotate(-90)" x="0" y="0" font-size="8.28" textLength="9" lengthAdjust="spacingAndGlyphs" fill="#fff" stroke="#fff" stroke-width="0.5" font-weight="bold">650</text>
<text transform="translate(700,235) rotate(-90)" x="0" y="0" font-size="8.28" textLength="9" lengthAdjust="spacingAndGlyphs" fill="#fff" stroke="#fff" stroke-width="0.5" font-weight="bold">650</text>
<text transform="translate(121,258) rotate(-90)" x="0" y="0" font-size="8.28" textLength="11" lengthAdjust="spacingAndGlyphs" fill="#fff" stroke="#fff" stroke-width="0.5" font-weight="bold">1500</text>
<text transform="translate(700,258) rotate(-90)" x="0" y="0" font-size="8.28" textLength="11" lengthAdjust="spacingAndGlyphs" fill="#fff" stroke="#fff" stroke-width="0.5" font-weight="bold">1500</text>
<text transform="translate(121,280) rotate(-90)" x="0" y="0" font-size="8.28" textLength="9" lengthAdjust="spacingAndGlyphs" fill="#fff" stroke="#fff" stroke-width="0.5" font-weight="bold">950</text>
<text transform="translate(700,280) rotate(-90)" x="0" y="0" font-size="8.28" textLength="9" lengthAdjust="spacingAndGlyphs" fill="#fff" stroke="#fff" stroke-width="0.5" font-weight="bold">950</text>
<text transform="translate(121,301) rotate(-90)" x="0" y="0" font-size="8.28" textLength="11" lengthAdjust="spacingAndGlyphs" fill="#fff" stroke="#fff" stroke-width="0.5" font-weight="bold">1000</text>
<text transform="translate(700,301) rotate(-90)" x="0" y="0" font-size="8.28" textLength="11" lengthAdjust="spacingAndGlyphs" fill="#fff" stroke="#fff" stroke-width="0.5" font-weight="bold">1000</text>
<text transform="translate(121,321) rotate(-90)" x="0" y="0" font-size="8.28" textLength="9" lengthAdjust="spacingAndGlyphs" fill="#fff" stroke="#fff" stroke-width="0.5" font-weight="bold">900</text>
<text transform="translate(700,321) rotate(-90)" x="0" y="0" font-size="8.28" textLength="9" lengthAdjust="spacingAndGlyphs" fill="#fff" stroke="#fff" stroke-width="0.5" font-weight="bold">900</text>
<text transform="translate(121,335) rotate(-90)" x="0" y="0" font-size="8.28" textLength="8" lengthAdjust="spacingAndGlyphs" fill="#fff" stroke="#fff" stroke-width="0.5" font-weight="bold">400</text>
<text transform="translate(700,335) rotate(-90)" x="0" y="0" font-size="8.28" textLength="8" lengthAdjust="spacingAndGlyphs" fill="#fff" stroke="#fff" stroke-width="0.5" font-weight="bold">400</text>
<text transform="translate(121,358) rotate(-90)" x="0" y="0" font-size="8.28" textLength="11" lengthAdjust="spacingAndGlyphs" fill="#fff" stroke="#fff" stroke-width="0.5" font-weight="bold">1500</text>
<text transform="translate(700,358) rotate(-90)" x="0" y="0" font-size="8.28" textLength="11" lengthAdjust="spacingAndGlyphs" fill="#fff" stroke="#fff" stroke-width="0.5" font-weight="bold">1500</text>
<text transform="translate(121,381) rotate(-90)" x="0" y="0" font-size="8.28" textLength="9" lengthAdjust="spacingAndGlyphs" fill="#fff" stroke="#fff" stroke-width="0.5" font-weight="bold">950</text>
<text transform="translate(700,381) rotate(-90)" x="0" y="0" font-size="8.28" textLength="9" lengthAdjust="spacingAndGlyphs" fill="#fff" stroke="#fff" stroke-width="0.5" font-weight="bold">950</text>
<text transform="translate(121,401) rotate(-90)" x="0" y="0" font-size="8.28" textLength="11" lengthAdjust="spacingAndGlyphs" fill="#fff" stroke="#fff" stroke-width="0.5" font-weight="bold">1000</text>
<text transform="translate(700,401) rotate(-90)" x="0" y="0" font-size="8.28" textLength="11" lengthAdjust="spacingAndGlyphs" fill="#fff" stroke="#fff" stroke-width="0.5" font-weight="bold">1000</text>
<text transform="translate(121,425) rotate(-90)" x="0" y="0" font-size="8.28" textLength="11" lengthAdjust="spacingAndGlyphs" fill="#fff" stroke="#fff" stroke-width="0.5" font-weight="bold">1250</text>
<text transform="translate(700,425) rotate(-90)" x="0" y="0" font-size="8.28" textLength="11" lengthAdjust="spacingAndGlyphs" fill="#fff" stroke="#fff" stroke-width="0.5" font-weight="bold">1250</text>
<text transform="translate(121,451) rotate(-90)" x="0" y="0" font-size="8.28" textLength="10" lengthAdjust="spacingAndGlyphs" fill="#fff" stroke="#fff" stroke-width="0.5" font-weight="bold">350</text>
<text transform="translate(700,451) rotate(-90)" x="0" y="0" font-size="8.28" textLength="10" lengthAdjust="spacingAndGlyphs" fill="#fff" stroke="#fff" stroke-width="0.5" font-weight="bold">350</text>
<text transform="translate(121,498) rotate(-90)" x="0" y="0" font-size="8.28" textLength="11" lengthAdjust="spacingAndGlyphs" fill="#fff" stroke="#fff" stroke-width="0.5" font-weight="bold">2400</text>
<text transform="translate(700,498) rotate(-90)" x="0" y="0" font-size="8.28" textLength="11" lengthAdjust="spacingAndGlyphs" fill="#fff" stroke="#fff" stroke-width="0.5" font-weight="bold">2400</text>
<text transform="translate(121,541) rotate(-90)" x="0" y="0" font-size="8.28" textLength="12" lengthAdjust="spacingAndGlyphs" fill="#fff" stroke="#fff" stroke-width="0.5" font-weight="bold">1200</text>
<text transform="translate(700,541) rotate(-90)" x="0" y="0" font-size="8.28" textLength="12" lengthAdjust="spacingAndGlyphs" fill="#fff" stroke="#fff" stroke-width="0.5" font-weight="bold">1200</text>
<text transform="translate(104,78) rotate(-90)" x="0" y="0" font-size="8.28" textLength="10" lengthAdjust="spacingAndGlyphs" fill="#fff" stroke="#fff" stroke-width="0.5" font-weight="bold">1300</text>
<text transform="translate(717,78) rotate(-90)" x="0" y="0" font-size="8.28" textLength="10" lengthAdjust="spacingAndGlyphs" fill="#fff" stroke="#fff" stroke-width="0.5" font-weight="bold">1300</text>
<text transform="translate(104,140) rotate(-90)" x="0" y="0" font-size="8.28" textLength="11" lengthAdjust="spacingAndGlyphs" fill="#fff" stroke="#fff" stroke-width="0.5" font-weight="bold">4500</text>
<text transform="translate(717,140) rotate(-90)" x="0" y="0" font-size="8.28" textLength="11" lengthAdjust="spacingAndGlyphs" fill="#fff" stroke="#fff" stroke-width="0.5" font-weight="bold">4500</text>
<text transform="translate(104,242) rotate(-90)" x="0" y="0" font-size="8.28" textLength="12" lengthAdjust="spacingAndGlyphs" fill="#fff" stroke="#fff" stroke-width="0.5" font-weight="bold">4100</text>
<text transform="translate(717,242) rotate(-90)" x="0" y="0" font-size="8.28" textLength="12" lengthAdjust="spacingAndGlyphs" fill="#fff" stroke="#fff" stroke-width="0.5" font-weight="bold">4100</text>
<text transform="translate(104,342) rotate(-90)" x="0" y="0" font-size="8.28" textLength="12" lengthAdjust="spacingAndGlyphs" fill="#fff" stroke="#fff" stroke-width="0.5" font-weight="bold">4100</text>
<text transform="translate(717,342) rotate(-90)" x="0" y="0" font-size="8.28" textLength="12" lengthAdjust="spacingAndGlyphs" fill="#fff" stroke="#fff" stroke-width="0.5" font-weight="bold">4100</text>
<text transform="translate(104,472) rotate(-90)" x="0" y="0" font-size="8.28" textLength="11" lengthAdjust="spacingAndGlyphs" fill="#fff" stroke="#fff" stroke-width="0.5" font-weight="bold">4950</text>
<text transform="translate(717,472) rotate(-90)" x="0" y="0" font-size="8.28" textLength="11" lengthAdjust="spacingAndGlyphs" fill="#fff" stroke="#fff" stroke-width="0.5" font-weight="bold">4950</text>
<text transform="translate(116,562) rotate(-90)" x="0" y="0" font-size="8.28" textLength="9" lengthAdjust="spacingAndGlyphs" fill="#fff" stroke="#fff" stroke-width="0.5" font-weight="bold">150</text>
<text transform="translate(717,562) rotate(-90)" x="0" y="0" font-size="8.28" textLength="8" lengthAdjust="spacingAndGlyphs" fill="#fff" stroke="#fff" stroke-width="0.5" font-weight="bold">150</text>
<text transform="translate(89,313) rotate(-90)" x="0" y="0" font-size="8.28" textLength="15" lengthAdjust="spacingAndGlyphs" fill="#fff" stroke="#fff" stroke-width="0.5" font-weight="bold">24050</text>
<text transform="translate(733,313) rotate(-90)" x="0" y="0" font-size="8.28" textLength="14" lengthAdjust="spacingAndGlyphs" fill="#fff" stroke="#fff" stroke-width="0.5" font-weight="bold">24050</text>
<text transform="translate(618,117) rotate(-90)" x="0" y="0" font-size="8.28" textLength="12" lengthAdjust="spacingAndGlyphs" fill="#fff" stroke="#fff" stroke-width="0.5" font-weight="bold">2500</text>
<text transform="translate(618,158) rotate(-90)" x="0" y="0" font-size="8.28" textLength="11" lengthAdjust="spacingAndGlyphs" fill="#fff" stroke="#fff" stroke-width="0.5" font-weight="bold">1500</text>
<text transform="translate(618,180) rotate(-90)" x="0" y="0" font-size="8.28" textLength="8" lengthAdjust="spacingAndGlyphs" fill="#fff" stroke="#fff" stroke-width="0.5" font-weight="bold">900</text>
<text transform="translate(618,198) rotate(-90)" x="0" y="0" font-size="8.28" textLength="8" lengthAdjust="spacingAndGlyphs" fill="#fff" stroke="#fff" stroke-width="0.5" font-weight="bold">800</text>
<text transform="translate(618,223) rotate(-90)" x="0" y="0" font-size="8.28" textLength="12" lengthAdjust="spacingAndGlyphs" fill="#fff" stroke="#fff" stroke-width="0.5" font-weight="bold">1500</text>
<text transform="translate(618,265) rotate(-90)" x="0" y="0" font-size="8.28" textLength="11" lengthAdjust="spacingAndGlyphs" fill="#fff" stroke="#fff" stroke-width="0.5" font-weight="bold">2600</text>
<text transform="translate(618,317) rotate(-90)" x="0" y="0" font-size="8.28" textLength="12" lengthAdjust="spacingAndGlyphs" fill="#fff" stroke="#fff" stroke-width="0.5" font-weight="bold">2500</text>
<text transform="translate(618,357) rotate(-90)" x="0" y="0" font-size="8.28" textLength="10" lengthAdjust="spacingAndGlyphs" fill="#fff" stroke="#fff" stroke-width="0.5" font-weight="bold">1500</text>
<text transform="translate(618,381) rotate(-90)" x="0" y="0" font-size="8.28" textLength="8" lengthAdjust="spacingAndGlyphs" fill="#fff" stroke="#fff" stroke-width="0.5" font-weight="bold">900</text>
<text transform="translate(618,397) rotate(-90)" x="0" y="0" font-size="8.28" textLength="8" lengthAdjust="spacingAndGlyphs" fill="#fff" stroke="#fff" stroke-width="0.5" font-weight="bold">650</text>
<text transform="translate(618,415) rotate(-90)" x="0" y="0" font-size="8.28" textLength="9" lengthAdjust="spacingAndGlyphs" fill="#fff" stroke="#fff" stroke-width="0.5" font-weight="bold">1100</text>
<text transform="translate(618,470) rotate(-90)" x="0" y="0" font-size="8.28" textLength="11" lengthAdjust="spacingAndGlyphs" fill="#fff" stroke="#fff" stroke-width="0.5" font-weight="bold">4150</text>
<text transform="translate(618,523) rotate(-90)" x="0" y="0" font-size="8.28" textLength="11" lengthAdjust="spacingAndGlyphs" fill="#fff" stroke="#fff" stroke-width="0.5" font-weight="bold">1050</text>
<text transform="translate(618,544) rotate(-90)" x="0" y="0" font-size="8.28" textLength="9" lengthAdjust="spacingAndGlyphs" fill="#fff" stroke="#fff" stroke-width="0.5" font-weight="bold">900</text>
<text transform="translate(358,447) rotate(-90)" x="0" y="0" font-size="9.66" textLength="9" lengthAdjust="spacingAndGlyphs" fill="#fff" stroke="#fff" stroke-width="0.5" font-weight="bold">300</text>
<text transform="translate(358,462) rotate(-90)" x="0" y="0" font-size="9.66" textLength="8" lengthAdjust="spacingAndGlyphs" fill="#fff" stroke="#fff" stroke-width="0.5" font-weight="bold">200</text>
<text transform="translate(358,511) rotate(-90)" x="0" y="0" font-size="9.66" textLength="12" lengthAdjust="spacingAndGlyphs" fill="#fff" stroke="#fff" stroke-width="0.5" font-weight="bold">4200</text>
<text transform="translate(527,476) rotate(-90)" x="0" y="0" font-size="8.28" textLength="7" lengthAdjust="spacingAndGlyphs" fill="#fff" stroke="#fff" stroke-width="0.5" font-weight="bold">300</text>
<text transform="translate(527,492) rotate(-90)" x="0" y="0" font-size="8.28" textLength="7" lengthAdjust="spacingAndGlyphs" fill="#fff" stroke="#fff" stroke-width="0.5" font-weight="bold">100</text>
<text transform="translate(527,526) rotate(-90)" x="0" y="0" font-size="8.28" textLength="12" lengthAdjust="spacingAndGlyphs" fill="#fff" stroke="#fff" stroke-width="0.5" font-weight="bold">2200</text>
<text x="283" y="557.7" font-size="9.66" textLength="13" lengthAdjust="spacingAndGlyphs" fill="#fff" stroke="#fff" stroke-width="0.5" font-weight="bold">13000</text>
<text x="462" y="557.7" font-size="9.66" textLength="12" lengthAdjust="spacingAndGlyphs" fill="#fff" stroke="#fff" stroke-width="0.5" font-weight="bold">5700</text>
<text x="596" y="557.7" font-size="9.66" textLength="11" lengthAdjust="spacingAndGlyphs" fill="#fff" stroke="#fff" stroke-width="0.5" font-weight="bold">7300</text>
<text x="403" y="574.7" font-size="9.66" textLength="14" lengthAdjust="spacingAndGlyphs" fill="#fff" stroke="#fff" stroke-width="0.5" font-weight="bold">25900</text>
<text x="495" y="611.7" font-size="9.66" textLength="15" lengthAdjust="spacingAndGlyphs" fill="#fff" stroke="#fff" stroke-width="0.5" font-weight="bold">23.300</text>
<text transform="translate(868,627) rotate(-90)" x="0" y="0" font-size="8.28" textLength="6" lengthAdjust="spacingAndGlyphs" fill="#fff" stroke="#fff" stroke-width="0.5" font-weight="bold">9</text>
<text x="143.5" y="603.5" font-size="10" text-anchor="middle" fill="#fff">A</text>
<text x="409.5" y="603.5" font-size="10" text-anchor="middle" fill="#fff">B</text>
<text x="526.5" y="603.5" font-size="10" text-anchor="middle" fill="#fff">D</text>
<text x="676.5" y="603.5" font-size="10" text-anchor="middle" fill="#fff">E</text>
</g>
</svg>
</body></html>
